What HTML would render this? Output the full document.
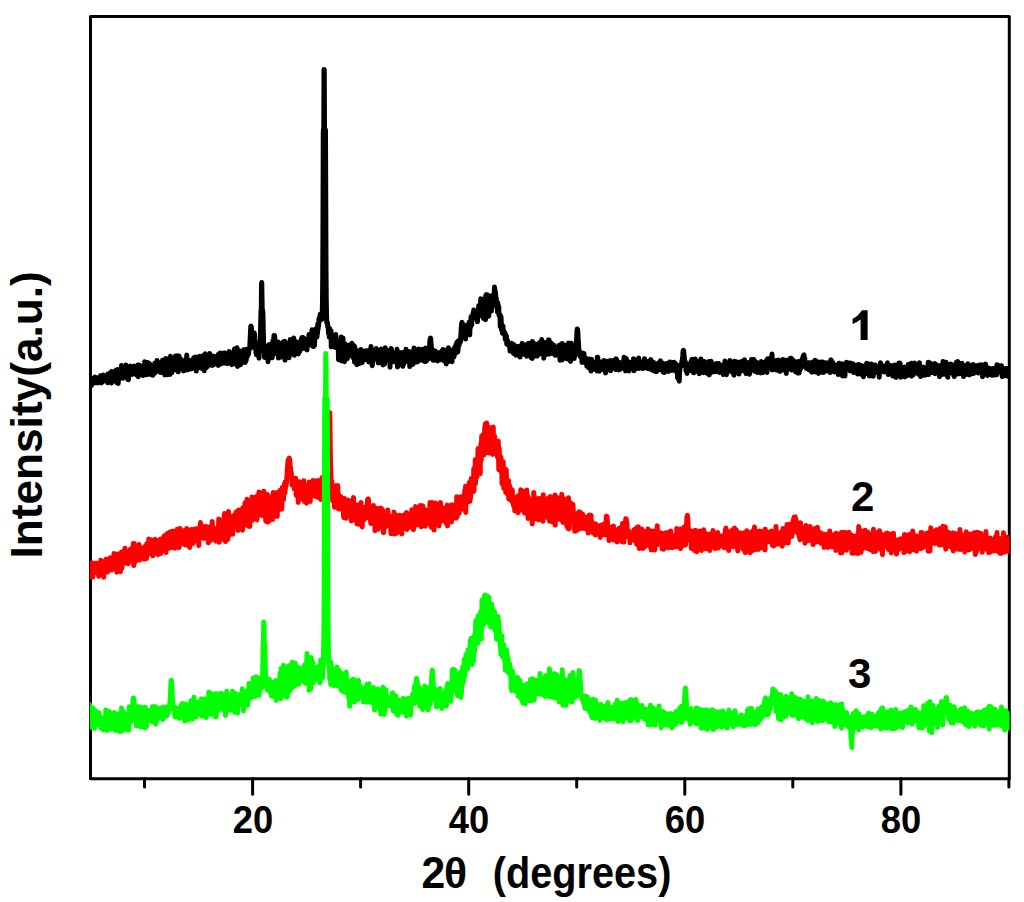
<!DOCTYPE html>
<html><head><meta charset="utf-8"><style>
html,body{margin:0;padding:0;background:#fff;}
svg{display:block;}
text{font-family:"Liberation Sans",sans-serif;font-weight:bold;fill:#000;}
.c{fill:none;stroke-width:5.0;stroke-linejoin:round;stroke-linecap:round;}
</style></head><body>
<svg width="1024" height="902" viewBox="0 0 1024 902">
<rect x="0" y="0" width="1024" height="902" fill="#fff"/>
<g stroke="#000" stroke-width="3" fill="none" stroke-linecap="round" stroke-linejoin="round">
<path d="M90.5,16.5 H1009.3 V778.7 H90.5 Z"/>
<path d="M144.5,778.7 v8.2 M252.6,778.7 v15.5 M360.6,778.7 v8.2 M468.7,778.7 v15.5 M576.7,778.7 v8.2 M684.8,778.7 v15.5 M792.8,778.7 v8.2 M900.9,778.7 v15.5 M1008.9,778.7 v8.2"/>
</g>
<defs><clipPath id="pa"><rect x="89.8" y="10" width="919.8" height="769"/></clipPath></defs>
<g clip-path="url(#pa)">
<path class="c" stroke="#000" d="M89.00 382.3 89.25 385.2 89.50 384.9 89.75 381.1 90.00 381.6 90.25 381.1 90.50 383.5 90.75 382.1 91.00 383.9 91.25 378.1 91.50 385.4 91.75 381.7 92.00 383.3 92.25 381.5 92.50 380.9 92.75 382.7 93.00 383.4 93.25 381.1 93.50 381.2 93.75 382.9 94.00 379.5 94.25 378.0 94.50 382.1 94.75 379.7 95.00 376.9 95.25 379.3 95.50 380.0 95.75 378.3 96.00 377.6 96.25 380.9 96.50 382.8 96.75 380.2 97.00 379.0 97.25 381.5 97.50 382.2 97.75 379.8 98.00 381.7 98.25 382.8 98.50 379.9 98.75 378.4 99.00 381.0 99.25 380.7 99.50 382.6 99.75 377.1 100.00 378.5 100.25 378.0 100.50 375.8 100.75 380.1 101.00 381.0 101.25 378.0 101.50 382.9 101.75 381.5 102.00 381.0 102.25 380.4 102.50 381.7 102.75 376.2 103.00 380.8 103.25 380.7 103.50 375.0 103.75 380.0 104.00 378.5 104.25 380.9 104.50 377.9 104.75 378.8 105.00 379.7 105.25 376.6 105.50 380.2 105.75 378.4 106.00 379.8 106.25 377.3 106.50 381.1 106.75 379.9 107.00 377.9 107.25 379.9 107.50 381.4 107.75 382.7 108.00 374.1 108.25 380.3 108.50 379.1 108.75 377.6 109.00 375.1 109.25 381.1 109.50 374.1 109.75 379.1 110.00 381.1 110.25 372.8 110.50 376.4 110.75 373.4 111.00 377.8 111.25 381.5 111.50 383.0 111.75 371.4 112.00 375.0 112.25 378.9 112.50 381.5 112.75 377.8 113.00 374.0 113.25 377.3 113.50 376.2 113.75 375.5 114.00 373.6 114.25 377.3 114.50 377.0 114.75 375.5 115.00 375.0 115.25 371.2 115.50 373.9 115.75 379.8 116.00 374.7 116.25 370.1 116.50 380.2 116.75 377.1 117.00 383.0 117.25 375.3 117.50 373.2 117.75 369.4 118.00 379.8 118.25 383.4 118.50 371.5 118.75 372.1 119.00 376.7 119.25 371.3 119.50 373.3 119.75 372.9 120.00 374.9 120.25 378.2 120.50 374.1 120.75 377.4 121.00 372.3 121.25 375.0 121.50 365.6 121.75 368.1 122.00 376.6 122.25 371.2 122.50 375.6 122.75 375.4 123.00 378.3 123.25 376.2 123.50 376.9 123.75 372.6 124.00 370.3 124.25 370.1 124.50 370.9 124.75 368.4 125.00 370.5 125.25 372.2 125.50 373.4 125.75 371.1 126.00 365.0 126.25 372.0 126.50 373.0 126.75 376.2 127.00 374.2 127.25 369.5 127.50 369.2 127.75 379.5 128.00 374.7 128.25 378.7 128.50 379.8 128.75 368.7 129.00 373.2 129.25 373.4 129.50 373.7 129.75 373.6 130.00 372.3 130.25 372.2 130.50 365.9 130.75 370.9 131.00 368.7 131.25 371.9 131.50 369.6 131.75 373.6 132.00 374.3 132.25 372.4 132.50 372.4 132.75 371.5 133.00 369.5 133.25 370.5 133.50 369.3 133.75 372.5 134.00 371.1 134.25 373.1 134.50 366.1 134.75 374.1 135.00 368.1 135.25 368.2 135.50 370.1 135.75 368.7 136.00 371.8 136.25 368.6 136.50 366.8 136.75 367.6 137.00 375.3 137.25 370.7 137.50 366.3 137.75 370.5 138.00 364.9 138.25 376.8 138.50 365.0 138.75 372.1 139.00 372.2 139.25 365.1 139.50 371.3 139.75 373.7 140.00 371.8 140.25 371.1 140.50 373.4 140.75 370.6 141.00 371.2 141.25 369.6 141.50 372.2 141.75 366.6 142.00 372.6 142.25 368.1 142.50 366.0 142.75 371.1 143.00 375.6 143.25 373.0 143.50 367.9 143.75 372.0 144.00 368.1 144.25 369.2 144.50 369.8 144.75 361.7 145.00 370.1 145.25 365.9 145.50 367.0 145.75 364.4 146.00 364.2 146.25 366.1 146.50 372.0 146.75 374.8 147.00 369.1 147.25 372.8 147.50 368.2 147.75 362.5 148.00 369.5 148.25 370.5 148.50 367.4 148.75 369.9 149.00 370.8 149.25 365.8 149.50 363.6 149.75 367.9 150.00 367.9 150.25 367.4 150.50 372.0 150.75 374.5 151.00 367.0 151.25 370.9 151.50 371.7 151.75 370.8 152.00 372.0 152.25 366.8 152.50 370.8 152.75 375.3 153.00 371.0 153.25 365.8 153.50 370.2 153.75 372.5 154.00 369.2 154.25 365.8 154.50 373.4 154.75 363.3 155.00 369.6 155.25 367.6 155.50 363.3 155.75 372.0 156.00 368.8 156.25 363.2 156.50 369.7 156.75 365.8 157.00 360.4 157.25 364.8 157.50 368.3 157.75 369.6 158.00 367.8 158.25 367.3 158.50 368.9 158.75 366.3 159.00 371.4 159.25 367.5 159.50 368.0 159.75 368.9 160.00 362.8 160.25 364.1 160.50 372.5 160.75 368.0 161.00 365.6 161.25 367.9 161.50 364.7 161.75 367.6 162.00 363.9 162.25 367.5 162.50 360.3 162.75 371.5 163.00 364.3 163.25 360.1 163.50 365.3 163.75 364.7 164.00 366.7 164.25 361.6 164.50 367.6 164.75 375.0 165.00 360.9 165.25 367.2 165.50 364.6 165.75 366.6 166.00 358.6 166.25 361.2 166.50 367.5 166.75 365.5 167.00 372.1 167.25 362.8 167.50 366.3 167.75 374.7 168.00 362.5 168.25 362.0 168.50 365.4 168.75 365.3 169.00 368.8 169.25 366.0 169.50 362.5 169.75 366.2 170.00 374.4 170.25 370.4 170.50 356.3 170.75 364.8 171.00 361.9 171.25 367.7 171.50 364.6 171.75 372.8 172.00 368.9 172.25 368.7 172.50 365.9 172.75 365.0 173.00 366.5 173.25 370.2 173.50 367.2 173.75 363.7 174.00 370.0 174.25 365.8 174.50 364.7 174.75 361.9 175.00 362.7 175.25 362.4 175.50 355.9 175.75 368.8 176.00 367.1 176.25 364.0 176.50 368.9 176.75 366.5 177.00 366.2 177.25 355.8 177.50 363.8 177.75 366.8 178.00 370.9 178.25 371.8 178.50 370.2 178.75 360.1 179.00 356.1 179.25 366.8 179.50 364.6 179.75 368.2 180.00 364.0 180.25 365.3 180.50 358.7 180.75 366.2 181.00 362.7 181.25 365.7 181.50 366.1 181.75 363.9 182.00 365.5 182.25 364.2 182.50 367.2 182.75 366.2 183.00 362.1 183.25 361.9 183.50 370.9 183.75 363.8 184.00 367.9 184.25 365.6 184.50 361.9 184.75 361.2 185.00 364.5 185.25 365.0 185.50 366.4 185.75 359.1 186.00 361.7 186.25 363.6 186.50 370.0 186.75 355.1 187.00 365.5 187.25 361.8 187.50 365.5 187.75 361.9 188.00 365.2 188.25 369.7 188.50 365.1 188.75 365.4 189.00 365.1 189.25 360.8 189.50 365.7 189.75 362.8 190.00 360.5 190.25 363.4 190.50 362.7 190.75 366.4 191.00 363.3 191.25 361.5 191.50 369.0 191.75 367.2 192.00 368.2 192.25 365.7 192.50 363.0 192.75 361.8 193.00 362.3 193.25 366.9 193.50 363.7 193.75 357.7 194.00 363.1 194.25 357.9 194.50 363.8 194.75 358.7 195.00 358.4 195.25 363.6 195.50 362.8 195.75 356.9 196.00 365.9 196.25 371.1 196.50 357.5 196.75 369.8 197.00 360.4 197.25 361.1 197.50 362.3 197.75 357.5 198.00 367.7 198.25 364.7 198.50 360.0 198.75 361.8 199.00 357.1 199.25 361.5 199.50 366.2 199.75 356.3 200.00 361.1 200.25 363.2 200.50 366.5 200.75 367.6 201.00 360.9 201.25 359.8 201.50 364.2 201.75 361.2 202.00 361.4 202.25 366.5 202.50 368.7 202.75 363.4 203.00 361.7 203.25 364.5 203.50 355.4 203.75 362.3 204.00 358.4 204.25 370.8 204.50 364.9 204.75 362.8 205.00 361.5 205.25 353.7 205.50 364.8 205.75 368.1 206.00 359.4 206.25 364.5 206.50 364.6 206.75 356.2 207.00 365.3 207.25 366.8 207.50 362.6 207.75 361.5 208.00 364.6 208.25 355.9 208.50 361.9 208.75 365.5 209.00 356.8 209.25 365.2 209.50 359.8 209.75 353.5 210.00 360.9 210.25 357.6 210.50 362.4 210.75 356.7 211.00 365.1 211.25 358.2 211.50 362.4 211.75 358.7 212.00 359.7 212.25 365.4 212.50 361.6 212.75 359.2 213.00 355.9 213.25 365.1 213.50 363.4 213.75 359.3 214.00 361.5 214.25 356.5 214.50 356.5 214.75 357.2 215.00 361.7 215.25 361.4 215.50 357.3 215.75 363.1 216.00 363.2 216.25 360.8 216.50 364.1 216.75 358.9 217.00 359.5 217.25 361.8 217.50 359.7 217.75 362.9 218.00 354.8 218.25 365.4 218.50 356.6 218.75 359.0 219.00 354.1 219.25 361.9 219.50 364.6 219.75 363.7 220.00 362.7 220.25 353.1 220.50 356.1 220.75 357.4 221.00 355.4 221.25 363.7 221.50 359.8 221.75 358.9 222.00 361.0 222.25 355.1 222.50 355.2 222.75 355.3 223.00 360.8 223.25 360.1 223.50 361.1 223.75 363.1 224.00 353.1 224.25 356.3 224.50 359.1 224.75 352.9 225.00 356.3 225.25 362.6 225.50 362.9 225.75 362.8 226.00 358.5 226.25 357.4 226.50 362.7 226.75 356.7 227.00 359.6 227.25 363.7 227.50 356.7 227.75 355.6 228.00 358.1 228.25 360.6 228.50 360.1 228.75 358.7 229.00 360.3 229.25 351.4 229.50 354.4 229.75 358.6 230.00 354.1 230.25 352.4 230.50 352.9 230.75 354.1 231.00 357.1 231.25 353.6 231.50 358.7 231.75 364.7 232.00 357.1 232.25 362.9 232.50 358.8 232.75 353.0 233.00 356.5 233.25 353.5 233.50 360.7 233.75 352.8 234.00 362.9 234.25 359.8 234.50 349.1 234.75 360.6 235.00 363.7 235.25 354.1 235.50 361.4 235.75 349.9 236.00 358.3 236.25 350.4 236.50 359.2 236.75 349.8 237.00 347.7 237.25 358.7 237.50 366.5 237.75 354.6 238.00 360.4 238.25 357.4 238.50 355.6 238.75 359.4 239.00 363.6 239.25 351.8 239.50 359.1 239.75 358.2 240.00 350.9 240.25 363.4 240.50 364.7 240.75 352.7 241.00 363.8 241.25 356.8 241.50 355.9 241.75 362.7 242.00 357.4 242.25 357.8 242.50 362.6 242.75 361.6 243.00 360.0 243.25 350.5 243.50 349.8 243.75 360.8 244.00 352.3 244.25 356.6 244.50 351.5 244.75 355.1 245.00 350.5 245.25 362.4 245.50 351.4 245.75 355.0 246.00 354.6 246.25 360.2 246.50 349.3 246.75 354.8 247.00 353.9 247.25 356.7 247.50 356.2 247.75 352.2 248.00 354.6 248.25 351.8 248.50 354.3 248.75 351.6 249.00 349.2 249.25 349.7 249.50 348.7 249.75 348.4 250.00 341.5 250.25 337.1 250.50 331.6 250.75 326.5 251.00 326.1 251.25 326.6 251.50 331.0 251.75 337.8 252.00 341.9 252.25 346.7 252.50 347.0 252.75 343.3 253.00 342.7 253.25 345.5 253.50 340.5 253.75 335.5 254.00 334.1 254.25 332.9 254.50 334.7 254.75 338.5 255.00 341.0 255.25 343.3 255.50 349.4 255.75 346.0 256.00 353.1 256.25 346.6 256.50 354.8 256.75 352.4 257.00 350.4 257.25 348.6 257.50 353.7 257.75 344.3 258.00 351.5 258.25 350.7 258.50 355.1 258.75 346.3 259.00 358.2 259.25 349.2 259.50 345.4 259.75 351.5 260.00 348.1 260.25 340.1 260.50 331.7 260.75 319.2 261.00 310.6 261.25 310.6 261.50 284.5 261.75 282.5 262.00 296.6 262.25 310.5 262.50 310.4 262.75 310.5 263.00 316.3 263.25 329.2 263.50 338.5 263.75 347.8 264.00 347.6 264.25 347.5 264.50 357.4 264.75 350.0 265.00 345.5 265.25 353.9 265.50 346.8 265.75 348.9 266.00 352.9 266.25 350.8 266.50 347.8 266.75 348.9 267.00 348.7 267.25 357.4 267.50 348.0 267.75 348.8 268.00 361.8 268.25 348.9 268.50 359.0 268.75 358.1 269.00 350.8 269.25 344.5 269.50 353.7 269.75 354.7 270.00 356.0 270.25 351.5 270.50 357.0 270.75 357.7 271.00 345.7 271.25 357.5 271.50 351.3 271.75 347.5 272.00 348.3 272.25 357.7 272.50 352.8 272.75 341.0 273.00 346.9 273.25 344.5 273.50 342.0 273.75 338.7 274.00 335.4 274.25 337.0 274.50 335.4 274.75 337.6 275.00 340.1 275.25 342.1 275.50 348.0 275.75 348.5 276.00 345.5 276.25 344.8 276.50 347.2 276.75 354.0 277.00 350.5 277.25 351.1 277.50 348.7 277.75 349.1 278.00 351.4 278.25 341.9 278.50 358.1 278.75 346.9 279.00 348.0 279.25 356.9 279.50 351.7 279.75 350.9 280.00 348.0 280.25 343.5 280.50 351.5 280.75 356.2 281.00 346.6 281.25 357.0 281.50 345.5 281.75 347.3 282.00 353.0 282.25 350.7 282.50 353.8 282.75 347.3 283.00 345.9 283.25 342.1 283.50 345.0 283.75 345.6 284.00 343.9 284.25 351.6 284.50 347.2 284.75 341.3 285.00 360.2 285.25 346.2 285.50 344.3 285.75 355.2 286.00 354.8 286.25 344.6 286.50 343.1 286.75 345.1 287.00 354.2 287.25 348.0 287.50 345.7 287.75 349.0 288.00 354.2 288.25 343.1 288.50 347.3 288.75 343.0 289.00 357.8 289.25 356.2 289.50 352.5 289.75 347.9 290.00 351.1 290.25 339.6 290.50 349.3 290.75 342.7 291.00 342.6 291.25 345.1 291.50 346.5 291.75 350.1 292.00 350.5 292.25 348.7 292.50 343.8 292.75 350.1 293.00 346.9 293.25 351.9 293.50 343.6 293.75 338.1 294.00 345.2 294.25 355.3 294.50 348.7 294.75 346.0 295.00 350.1 295.25 348.5 295.50 348.3 295.75 344.5 296.00 346.6 296.25 347.0 296.50 343.8 296.75 341.9 297.00 346.5 297.25 349.5 297.50 348.2 297.75 347.6 298.00 347.5 298.25 354.0 298.50 346.5 298.75 349.2 299.00 352.4 299.25 345.4 299.50 346.1 299.75 348.8 300.00 351.0 300.25 345.9 300.50 346.0 300.75 344.9 301.00 340.1 301.25 348.4 301.50 343.3 301.75 337.8 302.00 343.4 302.25 337.5 302.50 340.0 302.75 343.7 303.00 340.1 303.25 347.4 303.50 337.8 303.75 344.2 304.00 345.1 304.25 348.5 304.50 346.3 304.75 343.6 305.00 342.9 305.25 342.2 305.50 346.7 305.75 339.7 306.00 344.1 306.25 341.6 306.50 342.8 306.75 340.7 307.00 349.9 307.25 338.9 307.50 342.3 307.75 342.3 308.00 343.5 308.25 342.7 308.50 342.5 308.75 344.6 309.00 334.6 309.25 340.5 309.50 335.4 309.75 341.1 310.00 335.3 310.25 336.0 310.50 339.4 310.75 345.1 311.00 341.6 311.25 340.2 311.50 344.6 311.75 334.8 312.00 329.8 312.25 336.5 312.50 336.8 312.75 342.9 313.00 346.4 313.25 331.8 313.50 346.6 313.75 343.3 314.00 340.1 314.25 337.8 314.50 345.5 314.75 336.1 315.00 333.5 315.25 335.7 315.50 329.2 315.75 336.3 316.00 333.6 316.25 334.9 316.50 334.4 316.75 328.3 317.00 336.9 317.25 327.3 317.50 333.6 317.75 324.0 318.00 329.8 318.25 325.0 318.50 326.5 318.75 323.4 319.00 318.7 319.25 320.0 319.50 320.9 319.75 320.4 320.00 315.8 320.25 314.4 320.50 316.1 320.75 317.2 321.00 316.6 321.25 316.4 321.50 319.1 321.75 319.4 322.00 319.1 322.25 312.0 322.50 300.6 322.75 274.5 323.00 215.6 323.25 133.2 323.50 129.2 323.75 129.3 324.00 69.5 324.25 69.6 324.50 129.5 324.75 129.6 325.00 129.7 325.25 129.8 325.50 129.9 325.75 199.2 326.00 267.4 326.25 298.3 326.50 313.0 326.75 322.4 327.00 323.1 327.25 323.6 327.50 322.7 327.75 326.8 328.00 327.3 328.25 326.8 328.50 333.3 328.75 331.8 329.00 328.5 329.25 337.3 329.50 332.4 329.75 336.7 330.00 329.1 330.25 335.9 330.50 333.0 330.75 333.7 331.00 330.8 331.25 346.9 331.50 338.9 331.75 340.9 332.00 344.4 332.25 340.5 332.50 343.2 332.75 336.6 333.00 342.7 333.25 340.7 333.50 344.6 333.75 343.6 334.00 337.5 334.25 335.7 334.50 339.4 334.75 347.2 335.00 346.2 335.25 346.4 335.50 335.7 335.75 334.5 336.00 342.4 336.25 344.0 336.50 343.0 336.75 347.8 337.00 345.5 337.25 340.7 337.50 342.4 337.75 347.8 338.00 347.7 338.25 347.2 338.50 359.7 338.75 346.6 339.00 348.7 339.25 343.0 339.50 346.4 339.75 351.1 340.00 351.4 340.25 347.8 340.50 350.7 340.75 349.1 341.00 339.1 341.25 337.1 341.50 360.9 341.75 353.4 342.00 349.0 342.25 340.5 342.50 342.9 342.75 356.5 343.00 337.9 343.25 348.1 343.50 354.2 343.75 350.7 344.00 353.8 344.25 349.5 344.50 361.8 344.75 345.2 345.00 343.6 345.25 351.9 345.50 357.7 345.75 350.4 346.00 356.0 346.25 348.3 346.50 345.2 346.75 357.9 347.00 358.8 347.25 358.7 347.50 349.2 347.75 345.9 348.00 345.9 348.25 350.6 348.50 354.5 348.75 354.2 349.00 345.1 349.25 352.9 349.50 352.2 349.75 352.6 350.00 352.2 350.25 351.4 350.50 355.2 350.75 353.1 351.00 353.7 351.25 349.5 351.50 354.6 351.75 352.4 352.00 343.3 352.25 355.3 352.50 352.0 352.75 357.5 353.00 352.6 353.25 353.0 353.50 354.5 353.75 353.6 354.00 351.7 354.25 345.8 354.50 362.1 354.75 347.0 355.00 352.6 355.25 357.1 355.50 355.9 355.75 356.9 356.00 357.8 356.25 360.0 356.50 355.9 356.75 364.7 357.00 350.5 357.25 355.9 357.50 353.5 357.75 352.8 358.00 356.4 358.25 361.4 358.50 352.2 358.75 352.2 359.00 358.3 359.25 357.6 359.50 363.6 359.75 359.7 360.00 356.3 360.25 353.9 360.50 356.3 360.75 354.6 361.00 349.6 361.25 355.4 361.50 354.7 361.75 354.5 362.00 353.6 362.25 362.6 362.50 358.4 362.75 359.5 363.00 353.0 363.25 351.2 363.50 354.4 363.75 356.6 364.00 354.1 364.25 354.8 364.50 359.7 364.75 356.9 365.00 351.5 365.25 353.9 365.50 352.9 365.75 356.5 366.00 350.8 366.25 355.0 366.50 358.7 366.75 355.9 367.00 351.9 367.25 353.2 367.50 356.3 367.75 357.9 368.00 359.4 368.25 355.3 368.50 350.4 368.75 361.9 369.00 357.2 369.25 357.6 369.50 357.2 369.75 351.6 370.00 354.6 370.25 357.1 370.50 360.3 370.75 356.3 371.00 346.5 371.25 355.1 371.50 357.5 371.75 361.5 372.00 359.1 372.25 365.7 372.50 362.1 372.75 361.8 373.00 360.1 373.25 350.5 373.50 359.7 373.75 358.7 374.00 354.1 374.25 358.7 374.50 358.0 374.75 354.4 375.00 355.8 375.25 355.2 375.50 357.3 375.75 354.6 376.00 358.6 376.25 348.5 376.50 355.2 376.75 349.5 377.00 354.4 377.25 358.6 377.50 356.6 377.75 356.0 378.00 356.8 378.25 363.0 378.50 352.0 378.75 360.2 379.00 350.4 379.25 354.7 379.50 357.3 379.75 353.2 380.00 357.6 380.25 359.7 380.50 351.9 380.75 356.5 381.00 355.3 381.25 348.9 381.50 356.1 381.75 353.6 382.00 362.4 382.25 353.3 382.50 364.0 382.75 354.8 383.00 365.0 383.25 359.3 383.50 358.9 383.75 360.4 384.00 360.8 384.25 362.9 384.50 364.3 384.75 355.8 385.00 352.1 385.25 347.8 385.50 355.7 385.75 360.4 386.00 358.9 386.25 357.8 386.50 356.0 386.75 354.8 387.00 356.3 387.25 359.1 387.50 350.2 387.75 360.5 388.00 351.6 388.25 356.9 388.50 355.0 388.75 356.1 389.00 353.3 389.25 352.9 389.50 356.7 389.75 353.3 390.00 367.2 390.25 356.1 390.50 355.1 390.75 355.6 391.00 353.4 391.25 348.4 391.50 356.8 391.75 359.2 392.00 351.8 392.25 358.0 392.50 353.0 392.75 357.9 393.00 359.5 393.25 360.1 393.50 359.9 393.75 355.2 394.00 361.8 394.25 356.3 394.50 359.6 394.75 361.1 395.00 357.0 395.25 353.0 395.50 360.8 395.75 353.7 396.00 354.7 396.25 353.8 396.50 361.9 396.75 357.8 397.00 349.2 397.25 361.5 397.50 367.0 397.75 365.8 398.00 356.1 398.25 358.7 398.50 360.5 398.75 362.0 399.00 358.5 399.25 353.8 399.50 361.4 399.75 360.8 400.00 352.8 400.25 356.8 400.50 359.4 400.75 358.2 401.00 360.4 401.25 361.5 401.50 360.4 401.75 357.7 402.00 352.6 402.25 360.7 402.50 363.9 402.75 366.3 403.00 358.0 403.25 358.0 403.50 364.1 403.75 364.0 404.00 359.5 404.25 361.0 404.50 354.9 404.75 360.4 405.00 354.6 405.25 357.4 405.50 357.5 405.75 356.0 406.00 349.3 406.25 354.6 406.50 359.3 406.75 357.7 407.00 356.3 407.25 359.7 407.50 360.7 407.75 361.4 408.00 354.5 408.25 357.9 408.50 356.5 408.75 354.2 409.00 351.6 409.25 357.4 409.50 354.2 409.75 366.6 410.00 357.3 410.25 356.8 410.50 356.1 410.75 365.4 411.00 353.8 411.25 357.0 411.50 354.5 411.75 357.1 412.00 357.5 412.25 362.1 412.50 351.8 412.75 357.5 413.00 364.2 413.25 355.5 413.50 356.8 413.75 353.9 414.00 348.1 414.25 357.1 414.50 362.3 414.75 355.6 415.00 349.9 415.25 358.5 415.50 357.8 415.75 361.5 416.00 361.2 416.25 356.3 416.50 359.0 416.75 350.0 417.00 361.9 417.25 358.1 417.50 361.8 417.75 361.6 418.00 356.1 418.25 356.7 418.50 353.7 418.75 348.9 419.00 356.7 419.25 357.9 419.50 352.9 419.75 360.1 420.00 357.6 420.25 359.0 420.50 354.1 420.75 350.2 421.00 360.2 421.25 359.5 421.50 356.7 421.75 355.4 422.00 356.0 422.25 356.5 422.50 355.0 422.75 349.2 423.00 360.0 423.25 351.2 423.50 355.6 423.75 355.7 424.00 357.8 424.25 350.7 424.50 361.4 424.75 359.2 425.00 359.6 425.25 361.4 425.50 353.6 425.75 348.0 426.00 357.7 426.25 361.2 426.50 360.5 426.75 354.2 427.00 355.7 427.25 356.8 427.50 349.3 427.75 353.1 428.00 352.9 428.25 359.2 428.50 352.0 428.75 356.5 429.00 351.6 429.25 347.5 429.50 348.9 429.75 343.0 430.00 340.1 430.25 338.7 430.50 338.0 430.75 338.9 431.00 343.1 431.25 346.4 431.50 347.7 431.75 349.4 432.00 351.7 432.25 355.9 432.50 353.4 432.75 356.6 433.00 360.2 433.25 359.4 433.50 360.3 433.75 359.8 434.00 350.5 434.25 360.1 434.50 357.2 434.75 355.7 435.00 352.5 435.25 350.9 435.50 352.5 435.75 356.3 436.00 352.4 436.25 353.6 436.50 354.3 436.75 358.6 437.00 355.4 437.25 355.9 437.50 360.9 437.75 355.3 438.00 358.4 438.25 352.8 438.50 357.5 438.75 356.8 439.00 356.9 439.25 354.7 439.50 352.8 439.75 355.3 440.00 354.7 440.25 359.8 440.50 359.4 440.75 352.2 441.00 358.4 441.25 354.6 441.50 357.8 441.75 354.6 442.00 351.1 442.25 359.7 442.50 357.7 442.75 351.9 443.00 349.6 443.25 354.3 443.50 352.0 443.75 354.8 444.00 358.2 444.25 361.1 444.50 354.8 444.75 360.8 445.00 360.0 445.25 354.5 445.50 350.2 445.75 358.9 446.00 358.0 446.25 363.9 446.50 360.9 446.75 358.6 447.00 361.7 447.25 352.2 447.50 356.5 447.75 354.8 448.00 361.8 448.25 357.7 448.50 347.8 448.75 360.5 449.00 352.6 449.25 358.4 449.50 354.0 449.75 356.5 450.00 357.8 450.25 356.3 450.50 352.3 450.75 360.3 451.00 356.9 451.25 355.5 451.50 357.9 451.75 353.7 452.00 361.7 452.25 355.8 452.50 355.9 452.75 355.4 453.00 350.8 453.25 349.5 453.50 353.8 453.75 353.9 454.00 356.8 454.25 353.4 454.50 347.8 454.75 352.9 455.00 353.5 455.25 353.7 455.50 351.0 455.75 345.3 456.00 353.0 456.25 346.2 456.50 350.2 456.75 342.5 457.00 350.0 457.25 344.3 457.50 350.2 457.75 352.1 458.00 349.6 458.25 341.1 458.50 341.3 458.75 340.9 459.00 345.6 459.25 343.8 459.50 342.4 459.75 342.0 460.00 341.9 460.25 340.8 460.50 341.9 460.75 335.5 461.00 333.6 461.25 328.1 461.50 325.6 461.75 323.4 462.00 322.4 462.25 323.0 462.50 325.5 462.75 326.6 463.00 328.4 463.25 329.4 463.50 332.0 463.75 330.0 464.00 333.9 464.25 333.5 464.50 333.6 464.75 335.3 465.00 331.8 465.25 332.0 465.50 339.1 465.75 330.5 466.00 334.0 466.25 330.2 466.50 327.5 466.75 327.1 467.00 325.0 467.25 328.5 467.50 325.2 467.75 325.6 468.00 332.9 468.25 326.1 468.50 331.7 468.75 327.1 469.00 329.5 469.25 322.2 469.50 325.3 469.75 335.0 470.00 327.6 470.25 328.0 470.50 324.0 470.75 326.6 471.00 316.8 471.25 317.9 471.50 323.5 471.75 325.0 472.00 318.9 472.25 319.6 472.50 318.4 472.75 318.9 473.00 313.7 473.25 312.2 473.50 318.3 473.75 310.0 474.00 313.3 474.25 314.5 474.50 312.2 474.75 318.1 475.00 314.4 475.25 315.9 475.50 311.0 475.75 311.9 476.00 317.7 476.25 316.6 476.50 312.2 476.75 316.0 477.00 314.9 477.25 314.5 477.50 321.8 477.75 311.1 478.00 315.3 478.25 315.1 478.50 311.2 478.75 305.7 479.00 316.0 479.25 313.4 479.50 311.9 479.75 311.5 480.00 311.2 480.25 305.3 480.50 312.4 480.75 298.8 481.00 309.9 481.25 300.0 481.50 307.3 481.75 314.2 482.00 307.4 482.25 305.6 482.50 312.2 482.75 306.5 483.00 305.4 483.25 305.4 483.50 318.5 483.75 312.4 484.00 311.0 484.25 299.3 484.50 311.6 484.75 298.4 485.00 310.3 485.25 299.4 485.50 319.8 485.75 295.4 486.00 314.6 486.25 311.6 486.50 294.5 486.75 304.4 487.00 315.2 487.25 313.0 487.50 294.9 487.75 302.1 488.00 297.8 488.25 298.6 488.50 300.9 488.75 316.2 489.00 305.3 489.25 302.8 489.50 301.9 489.75 307.6 490.00 307.4 490.25 297.6 490.50 311.3 490.75 296.1 491.00 300.4 491.25 304.3 491.50 311.0 491.75 299.0 492.00 302.0 492.25 307.0 492.50 302.7 492.75 304.5 493.00 303.1 493.25 298.4 493.50 298.7 493.75 298.0 494.00 293.5 494.25 295.4 494.50 287.1 494.75 288.6 495.00 292.3 495.25 292.0 495.50 292.1 495.75 296.8 496.00 301.5 496.25 297.9 496.50 304.9 496.75 302.6 497.00 303.9 497.25 305.2 497.50 312.1 497.75 302.8 498.00 307.5 498.25 313.0 498.50 306.5 498.75 306.5 499.00 315.4 499.25 314.5 499.50 315.0 499.75 316.9 500.00 314.7 500.25 326.6 500.50 316.5 500.75 319.5 501.00 316.5 501.25 321.6 501.50 330.0 501.75 325.1 502.00 328.0 502.25 325.2 502.50 333.3 502.75 329.0 503.00 325.9 503.25 332.3 503.50 330.2 503.75 333.5 504.00 333.2 504.25 334.3 504.50 334.9 504.75 333.2 505.00 332.7 505.25 339.3 505.50 337.6 505.75 339.4 506.00 338.5 506.25 335.6 506.50 337.9 506.75 344.2 507.00 340.3 507.25 341.7 507.50 340.2 507.75 342.7 508.00 343.6 508.25 344.5 508.50 345.0 508.75 344.2 509.00 344.5 509.25 345.9 509.50 347.0 509.75 346.2 510.00 351.0 510.25 347.5 510.50 347.7 510.75 345.7 511.00 350.4 511.25 344.8 511.50 343.2 511.75 345.1 512.00 349.6 512.25 344.7 512.50 351.7 512.75 348.1 513.00 343.9 513.25 347.6 513.50 353.5 513.75 346.0 514.00 344.8 514.25 350.1 514.50 352.4 514.75 351.7 515.00 348.0 515.25 349.5 515.50 350.0 515.75 352.4 516.00 355.2 516.25 348.9 516.50 352.9 516.75 348.2 517.00 351.0 517.25 346.5 517.50 347.1 517.75 350.6 518.00 346.7 518.25 352.1 518.50 347.8 518.75 349.7 519.00 349.2 519.25 348.5 519.50 350.0 519.75 353.0 520.00 357.1 520.25 345.9 520.50 350.7 520.75 349.2 521.00 346.8 521.25 350.7 521.50 346.9 521.75 349.6 522.00 354.0 522.25 343.2 522.50 350.8 522.75 351.5 523.00 346.8 523.25 351.8 523.50 351.3 523.75 348.9 524.00 354.3 524.25 345.6 524.50 352.5 524.75 349.4 525.00 346.5 525.25 349.7 525.50 349.1 525.75 353.3 526.00 345.0 526.25 349.7 526.50 348.8 526.75 356.3 527.00 346.4 527.25 354.5 527.50 344.0 527.75 351.9 528.00 350.1 528.25 352.1 528.50 348.0 528.75 343.2 529.00 344.7 529.25 355.6 529.50 351.4 529.75 347.2 530.00 353.9 530.25 347.6 530.50 347.5 530.75 345.7 531.00 354.9 531.25 357.9 531.50 346.5 531.75 351.3 532.00 354.0 532.25 358.4 532.50 341.4 532.75 350.6 533.00 352.5 533.25 344.1 533.50 351.5 533.75 350.7 534.00 352.7 534.25 347.5 534.50 351.4 534.75 347.3 535.00 352.1 535.25 350.3 535.50 348.1 535.75 343.9 536.00 356.1 536.25 353.9 536.50 353.0 536.75 346.8 537.00 348.0 537.25 356.1 537.50 352.3 537.75 345.8 538.00 349.4 538.25 349.8 538.50 348.4 538.75 345.3 539.00 354.2 539.25 351.5 539.50 348.2 539.75 342.6 540.00 346.6 540.25 348.9 540.50 352.5 540.75 347.4 541.00 353.4 541.25 349.4 541.50 345.7 541.75 339.6 542.00 343.8 542.25 342.5 542.50 348.0 542.75 350.0 543.00 354.4 543.25 348.5 543.50 343.7 543.75 358.3 544.00 349.7 544.25 347.3 544.50 347.3 544.75 342.6 545.00 351.0 545.25 349.8 545.50 355.0 545.75 352.9 546.00 351.9 546.25 353.5 546.50 346.9 546.75 346.2 547.00 347.8 547.25 342.7 547.50 347.4 547.75 346.5 548.00 350.8 548.25 347.9 548.50 339.8 548.75 348.2 549.00 354.2 549.25 340.3 549.50 345.0 549.75 348.4 550.00 342.7 550.25 346.1 550.50 348.7 550.75 342.9 551.00 349.8 551.25 350.4 551.50 343.3 551.75 348.9 552.00 353.4 552.25 348.1 552.50 350.8 552.75 351.7 553.00 348.1 553.25 353.2 553.50 350.8 553.75 345.0 554.00 351.5 554.25 353.0 554.50 352.8 554.75 346.7 555.00 351.4 555.25 355.3 555.50 350.6 555.75 354.6 556.00 355.2 556.25 349.6 556.50 352.6 556.75 348.7 557.00 354.4 557.25 349.6 557.50 347.8 557.75 350.0 558.00 349.9 558.25 351.8 558.50 352.2 558.75 345.5 559.00 347.7 559.25 351.9 559.50 352.5 559.75 350.9 560.00 360.2 560.25 355.3 560.50 350.4 560.75 353.8 561.00 356.4 561.25 352.4 561.50 343.8 561.75 351.4 562.00 351.3 562.25 359.9 562.50 343.6 562.75 357.6 563.00 350.7 563.25 355.2 563.50 350.2 563.75 352.2 564.00 356.2 564.25 351.9 564.50 355.9 564.75 351.4 565.00 350.1 565.25 350.9 565.50 349.8 565.75 351.4 566.00 357.5 566.25 347.2 566.50 345.3 566.75 352.0 567.00 359.0 567.25 356.4 567.50 357.6 567.75 357.3 568.00 349.4 568.25 352.8 568.50 343.0 568.75 349.9 569.00 354.8 569.25 346.1 569.50 344.1 569.75 347.2 570.00 353.2 570.25 357.0 570.50 361.4 570.75 358.0 571.00 346.4 571.25 343.2 571.50 352.9 571.75 356.4 572.00 346.0 572.25 350.2 572.50 350.5 572.75 352.3 573.00 351.4 573.25 354.0 573.50 355.9 573.75 352.0 574.00 354.3 574.25 358.5 574.50 347.6 574.75 347.3 575.00 351.9 575.25 354.8 575.50 349.2 575.75 349.7 576.00 345.4 576.25 344.3 576.50 339.8 576.75 335.8 577.00 331.1 577.25 329.1 577.50 329.4 577.75 331.0 578.00 335.5 578.25 341.0 578.50 343.7 578.75 348.5 579.00 352.5 579.25 352.1 579.50 353.3 579.75 353.4 580.00 355.9 580.25 353.6 580.50 356.8 580.75 354.9 581.00 354.9 581.25 356.7 581.50 356.6 581.75 352.7 582.00 362.5 582.25 357.9 582.50 353.8 582.75 360.7 583.00 358.3 583.25 359.1 583.50 360.5 583.75 356.9 584.00 353.4 584.25 359.3 584.50 360.4 584.75 362.5 585.00 358.2 585.25 359.7 585.50 361.7 585.75 360.0 586.00 360.4 586.25 362.0 586.50 358.6 586.75 366.2 587.00 359.2 587.25 362.2 587.50 361.3 587.75 360.3 588.00 364.4 588.25 366.1 588.50 367.7 588.75 365.2 589.00 362.0 589.25 366.6 589.50 359.0 589.75 364.3 590.00 366.1 590.25 366.5 590.50 360.6 590.75 359.5 591.00 371.1 591.25 363.2 591.50 359.2 591.75 360.7 592.00 365.2 592.25 369.4 592.50 365.1 592.75 369.5 593.00 366.0 593.25 366.9 593.50 368.7 593.75 363.9 594.00 366.3 594.25 363.9 594.50 363.0 594.75 367.6 595.00 362.4 595.25 365.6 595.50 362.5 595.75 365.0 596.00 363.5 596.25 369.1 596.50 365.6 596.75 365.6 597.00 371.0 597.25 357.2 597.50 361.5 597.75 357.3 598.00 365.3 598.25 366.9 598.50 367.6 598.75 366.3 599.00 362.5 599.25 371.3 599.50 366.4 599.75 364.6 600.00 361.7 600.25 366.8 600.50 363.8 600.75 364.0 601.00 366.2 601.25 366.2 601.50 362.8 601.75 369.6 602.00 362.3 602.25 361.9 602.50 366.6 602.75 366.0 603.00 365.8 603.25 364.3 603.50 365.7 603.75 363.8 604.00 360.4 604.25 368.0 604.50 362.4 604.75 364.9 605.00 368.0 605.25 365.8 605.50 372.9 605.75 361.4 606.00 363.4 606.25 366.0 606.50 370.0 606.75 365.0 607.00 361.3 607.25 369.3 607.50 362.9 607.75 365.1 608.00 368.4 608.25 363.6 608.50 364.2 608.75 367.1 609.00 364.9 609.25 366.4 609.50 362.6 609.75 365.1 610.00 362.1 610.25 360.6 610.50 370.8 610.75 366.8 611.00 368.2 611.25 362.3 611.50 365.2 611.75 364.6 612.00 360.8 612.25 366.9 612.50 362.9 612.75 364.5 613.00 360.4 613.25 368.2 613.50 367.4 613.75 366.3 614.00 362.2 614.25 363.3 614.50 368.7 614.75 364.1 615.00 365.7 615.25 365.3 615.50 361.4 615.75 369.6 616.00 358.7 616.25 365.5 616.50 364.5 616.75 359.7 617.00 365.7 617.25 366.3 617.50 364.8 617.75 362.1 618.00 366.0 618.25 368.0 618.50 365.2 618.75 369.9 619.00 367.2 619.25 366.9 619.50 368.8 619.75 362.4 620.00 362.8 620.25 366.0 620.50 366.0 620.75 369.0 621.00 367.9 621.25 364.8 621.50 364.9 621.75 363.4 622.00 363.1 622.25 362.8 622.50 367.0 622.75 362.7 623.00 363.0 623.25 364.6 623.50 362.5 623.75 363.4 624.00 357.3 624.25 365.2 624.50 363.1 624.75 364.6 625.00 365.1 625.25 358.2 625.50 371.0 625.75 364.4 626.00 364.5 626.25 358.4 626.50 366.0 626.75 365.4 627.00 363.0 627.25 364.9 627.50 368.1 627.75 363.2 628.00 361.5 628.25 368.4 628.50 365.1 628.75 363.8 629.00 370.9 629.25 364.9 629.50 363.9 629.75 365.2 630.00 363.2 630.25 365.1 630.50 364.9 630.75 362.5 631.00 363.7 631.25 365.4 631.50 365.6 631.75 366.2 632.00 366.8 632.25 365.2 632.50 366.0 632.75 363.4 633.00 363.8 633.25 367.5 633.50 358.8 633.75 365.6 634.00 370.8 634.25 359.2 634.50 368.8 634.75 359.5 635.00 365.6 635.25 369.2 635.50 368.7 635.75 362.0 636.00 360.9 636.25 360.5 636.50 366.5 636.75 363.4 637.00 364.5 637.25 365.3 637.50 365.7 637.75 366.0 638.00 364.9 638.25 360.1 638.50 368.6 638.75 358.1 639.00 368.0 639.25 363.0 639.50 364.1 639.75 363.2 640.00 363.6 640.25 364.6 640.50 363.9 640.75 361.7 641.00 366.9 641.25 363.1 641.50 368.2 641.75 364.3 642.00 362.8 642.25 365.9 642.50 367.1 642.75 362.3 643.00 364.0 643.25 368.5 643.50 362.2 643.75 362.6 644.00 365.2 644.25 361.7 644.50 358.8 644.75 360.6 645.00 365.8 645.25 366.5 645.50 366.4 645.75 365.9 646.00 361.8 646.25 366.6 646.50 367.9 646.75 363.2 647.00 367.4 647.25 364.1 647.50 365.5 647.75 366.0 648.00 361.4 648.25 368.8 648.50 363.0 648.75 364.9 649.00 364.0 649.25 366.4 649.50 366.4 649.75 365.3 650.00 368.9 650.25 366.1 650.50 364.4 650.75 359.5 651.00 364.7 651.25 364.7 651.50 363.3 651.75 363.3 652.00 367.0 652.25 368.2 652.50 370.3 652.75 368.5 653.00 363.8 653.25 366.3 653.50 362.2 653.75 367.5 654.00 366.6 654.25 364.2 654.50 365.5 654.75 365.2 655.00 364.2 655.25 369.2 655.50 371.5 655.75 368.0 656.00 368.6 656.25 366.3 656.50 365.1 656.75 371.5 657.00 365.1 657.25 367.0 657.50 365.8 657.75 367.6 658.00 366.0 658.25 367.6 658.50 363.0 658.75 365.9 659.00 369.7 659.25 363.7 659.50 364.6 659.75 369.7 660.00 367.3 660.25 369.0 660.50 360.8 660.75 366.8 661.00 363.2 661.25 363.0 661.50 367.5 661.75 369.5 662.00 362.8 662.25 363.8 662.50 365.1 662.75 366.3 663.00 363.3 663.25 372.3 663.50 368.1 663.75 365.8 664.00 365.4 664.25 372.4 664.50 372.4 664.75 365.5 665.00 367.7 665.25 370.0 665.50 363.9 665.75 365.3 666.00 370.3 666.25 365.1 666.50 365.7 666.75 363.4 667.00 364.9 667.25 368.6 667.50 364.7 667.75 363.5 668.00 365.2 668.25 371.5 668.50 367.3 668.75 365.4 669.00 367.3 669.25 368.0 669.50 367.2 669.75 362.1 670.00 367.7 670.25 366.3 670.50 369.1 670.75 363.2 671.00 369.7 671.25 365.5 671.50 362.2 671.75 370.5 672.00 365.5 672.25 367.9 672.50 366.5 672.75 370.0 673.00 370.0 673.25 370.1 673.50 369.0 673.75 362.5 674.00 362.3 674.25 367.6 674.50 364.4 674.75 368.4 675.00 367.6 675.25 363.2 675.50 364.3 675.75 364.2 676.00 365.0 676.25 367.2 676.50 370.1 676.75 372.5 677.00 366.6 677.25 369.1 677.50 377.4 677.75 378.2 678.00 377.8 678.25 370.4 678.50 374.1 678.75 377.5 679.00 375.2 679.25 381.2 679.50 372.7 679.75 371.1 680.00 365.6 680.25 364.9 680.50 365.3 680.75 364.8 681.00 365.4 681.25 366.3 681.50 365.2 681.75 365.7 682.00 360.6 682.25 361.1 682.50 358.6 682.75 356.0 683.00 352.0 683.25 350.7 683.50 350.4 683.75 351.7 684.00 354.7 684.25 357.4 684.50 359.8 684.75 362.0 685.00 364.4 685.25 361.5 685.50 367.0 685.75 364.3 686.00 371.1 686.25 370.2 686.50 364.8 686.75 364.2 687.00 373.5 687.25 368.4 687.50 368.3 687.75 365.2 688.00 366.2 688.25 369.3 688.50 368.8 688.75 364.0 689.00 370.9 689.25 367.9 689.50 363.7 689.75 370.2 690.00 366.3 690.25 369.6 690.50 365.1 690.75 368.2 691.00 361.5 691.25 368.3 691.50 361.8 691.75 367.6 692.00 359.2 692.25 366.8 692.50 369.6 692.75 368.8 693.00 371.3 693.25 363.4 693.50 372.6 693.75 372.7 694.00 362.9 694.25 364.3 694.50 365.1 694.75 367.1 695.00 367.8 695.25 359.1 695.50 369.3 695.75 366.3 696.00 363.5 696.25 370.6 696.50 366.0 696.75 371.3 697.00 369.1 697.25 366.1 697.50 371.5 697.75 370.2 698.00 365.4 698.25 361.3 698.50 365.2 698.75 369.5 699.00 366.4 699.25 373.7 699.50 368.2 699.75 368.0 700.00 368.7 700.25 364.1 700.50 366.8 700.75 364.9 701.00 359.1 701.25 360.9 701.50 369.9 701.75 365.7 702.00 366.9 702.25 362.1 702.50 365.3 702.75 370.1 703.00 367.7 703.25 365.5 703.50 372.7 703.75 367.2 704.00 366.2 704.25 371.3 704.50 361.4 704.75 369.3 705.00 363.6 705.25 364.7 705.50 365.1 705.75 367.9 706.00 367.8 706.25 368.5 706.50 368.1 706.75 372.1 707.00 373.1 707.25 369.8 707.50 370.0 707.75 366.2 708.00 363.9 708.25 369.4 708.50 367.6 708.75 370.3 709.00 361.6 709.25 374.9 709.50 363.4 709.75 367.6 710.00 370.7 710.25 363.1 710.50 365.8 710.75 361.2 711.00 363.1 711.25 361.5 711.50 367.9 711.75 368.5 712.00 366.6 712.25 371.5 712.50 371.9 712.75 367.6 713.00 366.9 713.25 366.8 713.50 366.2 713.75 371.6 714.00 368.3 714.25 366.6 714.50 367.0 714.75 369.3 715.00 366.5 715.25 368.6 715.50 367.6 715.75 371.7 716.00 371.1 716.25 363.6 716.50 367.2 716.75 369.8 717.00 366.4 717.25 370.0 717.50 368.7 717.75 369.4 718.00 367.6 718.25 368.6 718.50 369.2 718.75 363.6 719.00 365.2 719.25 364.9 719.50 372.5 719.75 368.6 720.00 368.8 720.25 368.3 720.50 366.3 720.75 365.6 721.00 370.2 721.25 366.7 721.50 372.3 721.75 368.3 722.00 368.0 722.25 367.1 722.50 367.6 722.75 367.9 723.00 372.2 723.25 374.5 723.50 364.4 723.75 368.5 724.00 369.9 724.25 365.1 724.50 365.9 724.75 366.4 725.00 360.9 725.25 369.7 725.50 367.6 725.75 367.5 726.00 368.0 726.25 368.5 726.50 374.7 726.75 368.3 727.00 370.3 727.25 366.2 727.50 368.9 727.75 366.8 728.00 367.3 728.25 365.0 728.50 365.3 728.75 369.2 729.00 370.1 729.25 369.2 729.50 365.7 729.75 368.8 730.00 360.6 730.25 370.8 730.50 367.7 730.75 368.7 731.00 371.5 731.25 366.5 731.50 370.9 731.75 366.4 732.00 369.6 732.25 366.5 732.50 368.8 732.75 372.5 733.00 365.8 733.25 365.9 733.50 366.8 733.75 368.8 734.00 375.2 734.25 366.0 734.50 361.2 734.75 365.7 735.00 362.7 735.25 366.0 735.50 367.9 735.75 364.7 736.00 365.6 736.25 361.7 736.50 368.5 736.75 365.4 737.00 371.5 737.25 371.4 737.50 365.0 737.75 366.7 738.00 368.1 738.25 370.4 738.50 362.3 738.75 367.6 739.00 374.1 739.25 367.5 739.50 368.5 739.75 367.8 740.00 363.8 740.25 370.9 740.50 368.6 740.75 368.3 741.00 370.1 741.25 370.3 741.50 361.4 741.75 369.2 742.00 365.7 742.25 368.1 742.50 365.2 742.75 364.7 743.00 370.7 743.25 367.5 743.50 366.6 743.75 366.6 744.00 367.8 744.25 367.4 744.50 359.8 744.75 364.6 745.00 366.7 745.25 369.8 745.50 371.8 745.75 364.4 746.00 373.6 746.25 367.7 746.50 368.9 746.75 365.6 747.00 365.4 747.25 371.9 747.50 366.6 747.75 367.0 748.00 371.0 748.25 372.8 748.50 362.4 748.75 366.6 749.00 367.2 749.25 373.0 749.50 374.2 749.75 367.0 750.00 368.3 750.25 369.9 750.50 370.8 750.75 366.1 751.00 369.8 751.25 364.9 751.50 359.5 751.75 362.7 752.00 367.7 752.25 369.5 752.50 359.9 752.75 361.3 753.00 366.9 753.25 359.5 753.50 368.7 753.75 370.2 754.00 359.4 754.25 369.3 754.50 366.3 754.75 371.3 755.00 367.7 755.25 366.1 755.50 367.2 755.75 369.7 756.00 367.4 756.25 366.9 756.50 362.3 756.75 368.2 757.00 366.8 757.25 372.4 757.50 366.7 757.75 366.4 758.00 364.7 758.25 368.8 758.50 365.9 758.75 364.3 759.00 371.4 759.25 372.0 759.50 364.8 759.75 363.0 760.00 369.8 760.25 363.4 760.50 373.0 760.75 365.6 761.00 369.1 761.25 361.6 761.50 365.7 761.75 369.4 762.00 367.2 762.25 363.9 762.50 372.8 762.75 368.0 763.00 364.7 763.25 363.4 763.50 364.5 763.75 370.0 764.00 362.6 764.25 365.3 764.50 362.3 764.75 369.5 765.00 364.5 765.25 368.0 765.50 366.9 765.75 362.7 766.00 367.2 766.25 368.0 766.50 360.2 766.75 367.0 767.00 372.4 767.25 363.1 767.50 366.6 767.75 358.8 768.00 365.7 768.25 361.5 768.50 366.8 768.75 363.4 769.00 358.7 769.25 368.0 769.50 362.5 769.75 359.0 770.00 363.4 770.25 358.9 770.50 364.7 770.75 362.6 771.00 361.2 771.25 365.7 771.50 357.1 771.75 367.1 772.00 354.1 772.25 370.0 772.50 363.8 772.75 362.0 773.00 360.0 773.25 365.6 773.50 362.6 773.75 362.6 774.00 367.8 774.25 361.7 774.50 362.6 774.75 365.4 775.00 368.1 775.25 363.2 775.50 364.5 775.75 364.1 776.00 367.0 776.25 370.0 776.50 360.4 776.75 363.7 777.00 364.1 777.25 366.7 777.50 370.3 777.75 364.4 778.00 365.4 778.25 369.0 778.50 359.9 778.75 361.8 779.00 363.1 779.25 364.8 779.50 365.7 779.75 363.0 780.00 371.5 780.25 362.4 780.50 364.3 780.75 369.1 781.00 368.0 781.25 365.1 781.50 366.6 781.75 368.3 782.00 365.3 782.25 367.7 782.50 362.1 782.75 365.7 783.00 359.6 783.25 362.4 783.50 361.5 783.75 370.1 784.00 364.0 784.25 366.8 784.50 362.5 784.75 365.1 785.00 364.9 785.25 362.9 785.50 368.9 785.75 360.2 786.00 368.2 786.25 373.4 786.50 363.3 786.75 366.3 787.00 360.9 787.25 366.1 787.50 360.3 787.75 368.3 788.00 364.5 788.25 359.9 788.50 361.8 788.75 360.8 789.00 365.2 789.25 369.0 789.50 364.8 789.75 362.1 790.00 363.3 790.25 366.5 790.50 358.2 790.75 368.1 791.00 367.4 791.25 358.2 791.50 370.0 791.75 360.5 792.00 365.3 792.25 370.0 792.50 360.5 792.75 359.8 793.00 362.2 793.25 362.4 793.50 365.5 793.75 364.2 794.00 364.3 794.25 364.4 794.50 365.4 794.75 363.1 795.00 367.1 795.25 366.0 795.50 362.6 795.75 372.0 796.00 361.7 796.25 368.4 796.50 363.5 796.75 367.1 797.00 367.7 797.25 368.8 797.50 370.6 797.75 363.1 798.00 373.2 798.25 367.2 798.50 363.2 798.75 361.4 799.00 373.1 799.25 371.2 799.50 365.7 799.75 368.2 800.00 370.0 800.25 365.9 800.50 364.2 800.75 365.3 801.00 367.8 801.25 365.1 801.50 361.1 801.75 366.4 802.00 359.3 802.25 361.2 802.50 363.8 802.75 360.3 803.00 358.1 803.25 355.9 803.50 355.8 803.75 355.2 804.00 355.0 804.25 358.5 804.50 357.4 804.75 358.3 805.00 366.7 805.25 366.6 805.50 363.1 805.75 364.6 806.00 365.4 806.25 368.4 806.50 363.1 806.75 362.9 807.00 363.8 807.25 366.3 807.50 366.7 807.75 364.7 808.00 368.4 808.25 362.8 808.50 365.8 808.75 363.9 809.00 362.9 809.25 370.1 809.50 365.2 809.75 363.0 810.00 366.4 810.25 363.1 810.50 368.2 810.75 369.0 811.00 369.6 811.25 363.0 811.50 365.9 811.75 372.2 812.00 365.7 812.25 370.4 812.50 371.2 812.75 362.0 813.00 370.2 813.25 368.8 813.50 369.2 813.75 371.7 814.00 367.9 814.25 366.7 814.50 368.4 814.75 365.4 815.00 368.0 815.25 360.2 815.50 371.9 815.75 364.8 816.00 368.2 816.25 367.5 816.50 366.8 816.75 366.9 817.00 366.8 817.25 361.4 817.50 364.9 817.75 370.4 818.00 363.4 818.25 363.3 818.50 373.4 818.75 370.5 819.00 371.7 819.25 366.7 819.50 367.6 819.75 369.2 820.00 368.6 820.25 366.5 820.50 362.2 820.75 364.5 821.00 362.0 821.25 371.9 821.50 365.6 821.75 366.3 822.00 367.8 822.25 367.0 822.50 368.6 822.75 365.0 823.00 362.1 823.25 372.6 823.50 364.7 823.75 365.5 824.00 364.5 824.25 365.3 824.50 367.1 824.75 369.5 825.00 363.7 825.25 368.1 825.50 364.9 825.75 371.1 826.00 363.1 826.25 367.5 826.50 369.5 826.75 362.8 827.00 367.6 827.25 367.7 827.50 364.6 827.75 366.6 828.00 370.5 828.25 368.1 828.50 366.0 828.75 366.7 829.00 368.8 829.25 371.6 829.50 370.0 829.75 369.8 830.00 372.6 830.25 362.3 830.50 362.7 830.75 359.9 831.00 370.3 831.25 359.9 831.50 367.4 831.75 370.0 832.00 362.9 832.25 365.4 832.50 366.7 832.75 370.0 833.00 362.6 833.25 368.7 833.50 370.0 833.75 368.1 834.00 368.2 834.25 371.9 834.50 368.5 834.75 367.7 835.00 366.6 835.25 370.0 835.50 366.8 835.75 370.0 836.00 368.2 836.25 371.6 836.50 365.2 836.75 368.1 837.00 369.0 837.25 369.3 837.50 371.7 837.75 369.2 838.00 371.0 838.25 374.5 838.50 370.8 838.75 364.4 839.00 363.2 839.25 370.2 839.50 366.7 839.75 369.0 840.00 367.4 840.25 372.4 840.50 372.1 840.75 364.3 841.00 369.0 841.25 367.1 841.50 363.7 841.75 370.3 842.00 367.6 842.25 369.6 842.50 375.9 842.75 372.6 843.00 371.9 843.25 366.8 843.50 364.2 843.75 372.4 844.00 367.2 844.25 368.4 844.50 367.0 844.75 368.6 845.00 376.0 845.25 367.2 845.50 367.3 845.75 369.0 846.00 369.3 846.25 364.3 846.50 362.3 846.75 366.4 847.00 367.6 847.25 365.7 847.50 365.0 847.75 365.2 848.00 367.0 848.25 368.0 848.50 362.9 848.75 366.5 849.00 369.6 849.25 368.0 849.50 363.8 849.75 367.2 850.00 368.3 850.25 371.0 850.50 362.9 850.75 370.7 851.00 366.9 851.25 369.1 851.50 370.8 851.75 365.5 852.00 365.8 852.25 368.1 852.50 371.0 852.75 366.7 853.00 363.8 853.25 366.2 853.50 369.8 853.75 372.5 854.00 366.9 854.25 367.5 854.50 368.0 854.75 368.1 855.00 365.4 855.25 367.1 855.50 369.3 855.75 369.0 856.00 368.7 856.25 365.3 856.50 366.8 856.75 366.3 857.00 372.2 857.25 373.6 857.50 369.9 857.75 374.1 858.00 367.8 858.25 367.8 858.50 364.4 858.75 369.6 859.00 367.3 859.25 369.1 859.50 370.4 859.75 368.0 860.00 365.1 860.25 368.7 860.50 368.6 860.75 369.0 861.00 371.1 861.25 368.2 861.50 368.1 861.75 374.7 862.00 372.5 862.25 368.7 862.50 365.9 862.75 367.6 863.00 370.3 863.25 371.8 863.50 376.8 863.75 368.3 864.00 369.6 864.25 368.0 864.50 369.4 864.75 367.9 865.00 365.7 865.25 372.5 865.50 369.6 865.75 373.4 866.00 367.6 866.25 370.1 866.50 371.4 866.75 363.2 867.00 365.0 867.25 371.8 867.50 369.7 867.75 363.4 868.00 367.0 868.25 366.0 868.50 367.9 868.75 374.4 869.00 367.6 869.25 376.0 869.50 368.7 869.75 367.1 870.00 374.6 870.25 372.6 870.50 374.0 870.75 375.8 871.00 373.0 871.25 373.5 871.50 364.1 871.75 367.0 872.00 371.1 872.25 370.3 872.50 372.0 872.75 368.2 873.00 373.3 873.25 376.2 873.50 371.7 873.75 372.5 874.00 371.4 874.25 372.8 874.50 370.5 874.75 368.3 875.00 370.5 875.25 370.3 875.50 365.1 875.75 370.7 876.00 370.0 876.25 370.6 876.50 368.2 876.75 371.5 877.00 372.0 877.25 367.8 877.50 371.0 877.75 372.5 878.00 372.4 878.25 367.1 878.50 366.8 878.75 370.1 879.00 366.8 879.25 377.3 879.50 367.5 879.75 367.6 880.00 372.1 880.25 368.6 880.50 362.7 880.75 369.6 881.00 367.0 881.25 368.4 881.50 365.0 881.75 367.2 882.00 369.5 882.25 369.8 882.50 366.6 882.75 367.8 883.00 367.4 883.25 370.5 883.50 369.6 883.75 366.1 884.00 372.0 884.25 367.8 884.50 371.2 884.75 367.1 885.00 370.9 885.25 369.6 885.50 370.1 885.75 371.5 886.00 371.3 886.25 370.5 886.50 370.5 886.75 366.0 887.00 369.8 887.25 363.2 887.50 363.0 887.75 369.0 888.00 369.3 888.25 374.6 888.50 372.0 888.75 373.4 889.00 369.0 889.25 371.4 889.50 373.6 889.75 371.6 890.00 371.1 890.25 370.3 890.50 367.2 890.75 367.2 891.00 365.6 891.25 371.3 891.50 369.2 891.75 367.9 892.00 371.1 892.25 368.3 892.50 373.3 892.75 376.0 893.00 371.5 893.25 367.9 893.50 365.4 893.75 376.3 894.00 371.5 894.25 366.4 894.50 373.4 894.75 364.9 895.00 368.7 895.25 369.3 895.50 369.0 895.75 366.5 896.00 377.4 896.25 368.8 896.50 371.3 896.75 370.2 897.00 365.1 897.25 368.4 897.50 370.7 897.75 373.0 898.00 369.0 898.25 371.2 898.50 369.0 898.75 371.9 899.00 362.9 899.25 372.0 899.50 368.2 899.75 368.3 900.00 362.9 900.25 366.8 900.50 372.0 900.75 377.3 901.00 367.9 901.25 368.0 901.50 371.6 901.75 371.0 902.00 368.3 902.25 369.6 902.50 368.9 902.75 372.1 903.00 372.6 903.25 375.6 903.50 373.0 903.75 372.2 904.00 370.6 904.25 373.1 904.50 367.1 904.75 376.9 905.00 371.0 905.25 374.6 905.50 367.6 905.75 373.4 906.00 371.4 906.25 369.6 906.50 368.1 906.75 367.4 907.00 375.8 907.25 374.0 907.50 370.5 907.75 370.8 908.00 367.9 908.25 364.4 908.50 364.5 908.75 368.2 909.00 369.7 909.25 366.5 909.50 372.6 909.75 371.8 910.00 370.7 910.25 364.6 910.50 369.5 910.75 370.1 911.00 366.2 911.25 363.3 911.50 376.2 911.75 372.1 912.00 368.9 912.25 375.2 912.50 373.6 912.75 371.6 913.00 370.9 913.25 372.6 913.50 374.7 913.75 370.4 914.00 369.4 914.25 372.0 914.50 362.9 914.75 370.4 915.00 368.9 915.25 370.1 915.50 369.6 915.75 371.2 916.00 370.5 916.25 370.4 916.50 369.7 916.75 371.6 917.00 368.5 917.25 373.2 917.50 364.8 917.75 370.8 918.00 371.5 918.25 366.1 918.50 368.7 918.75 374.3 919.00 369.7 919.25 367.3 919.50 362.7 919.75 371.2 920.00 370.4 920.25 372.0 920.50 376.6 920.75 370.0 921.00 370.5 921.25 367.8 921.50 369.8 921.75 369.9 922.00 372.4 922.25 371.8 922.50 367.5 922.75 368.4 923.00 374.5 923.25 366.9 923.50 372.4 923.75 375.3 924.00 372.1 924.25 370.8 924.50 374.4 924.75 371.1 925.00 369.9 925.25 369.3 925.50 373.7 925.75 372.2 926.00 375.0 926.25 368.8 926.50 368.9 926.75 368.4 927.00 370.8 927.25 367.6 927.50 372.9 927.75 371.0 928.00 366.6 928.25 362.2 928.50 363.8 928.75 374.6 929.00 369.6 929.25 370.3 929.50 368.4 929.75 371.1 930.00 363.4 930.25 363.1 930.50 364.3 930.75 370.0 931.00 372.1 931.25 371.4 931.50 369.3 931.75 365.4 932.00 372.4 932.25 368.8 932.50 369.7 932.75 369.5 933.00 368.1 933.25 367.2 933.50 367.7 933.75 365.3 934.00 370.5 934.25 369.1 934.50 373.2 934.75 363.5 935.00 373.7 935.25 369.4 935.50 369.1 935.75 366.9 936.00 366.8 936.25 364.5 936.50 372.7 936.75 368.9 937.00 372.1 937.25 372.5 937.50 367.9 937.75 368.8 938.00 368.4 938.25 373.1 938.50 370.0 938.75 370.2 939.00 372.1 939.25 369.3 939.50 376.7 939.75 366.3 940.00 373.9 940.25 374.5 940.50 365.5 940.75 372.6 941.00 370.5 941.25 372.6 941.50 365.3 941.75 370.4 942.00 366.0 942.25 368.3 942.50 374.5 942.75 369.0 943.00 361.5 943.25 364.5 943.50 365.4 943.75 373.1 944.00 367.0 944.25 363.9 944.50 373.4 944.75 370.3 945.00 370.6 945.25 366.6 945.50 374.5 945.75 369.0 946.00 362.3 946.25 365.3 946.50 366.3 946.75 368.8 947.00 372.1 947.25 366.7 947.50 367.2 947.75 377.3 948.00 369.6 948.25 367.4 948.50 369.4 948.75 364.8 949.00 371.3 949.25 372.8 949.50 367.2 949.75 373.0 950.00 368.2 950.25 370.4 950.50 366.6 950.75 366.4 951.00 363.9 951.25 370.1 951.50 368.3 951.75 368.4 952.00 365.3 952.25 365.2 952.50 367.1 952.75 371.1 953.00 370.5 953.25 367.0 953.50 370.4 953.75 375.6 954.00 369.8 954.25 376.6 954.50 371.0 954.75 374.1 955.00 367.6 955.25 373.6 955.50 365.3 955.75 370.3 956.00 368.3 956.25 362.5 956.50 364.7 956.75 373.4 957.00 371.2 957.25 374.0 957.50 370.2 957.75 361.6 958.00 370.4 958.25 367.6 958.50 367.8 958.75 368.0 959.00 366.9 959.25 366.3 959.50 373.8 959.75 371.1 960.00 367.3 960.25 368.1 960.50 372.9 960.75 370.9 961.00 370.2 961.25 365.5 961.50 368.1 961.75 365.8 962.00 363.2 962.25 372.6 962.50 368.5 962.75 368.2 963.00 366.4 963.25 372.1 963.50 376.6 963.75 371.6 964.00 372.7 964.25 365.6 964.50 370.2 964.75 370.4 965.00 374.5 965.25 369.7 965.50 366.6 965.75 369.5 966.00 368.3 966.25 374.4 966.50 371.9 966.75 370.8 967.00 370.3 967.25 372.4 967.50 368.2 967.75 366.8 968.00 363.7 968.25 373.5 968.50 371.4 968.75 371.8 969.00 369.9 969.25 375.0 969.50 366.7 969.75 373.6 970.00 367.1 970.25 368.4 970.50 366.0 970.75 370.1 971.00 368.9 971.25 371.2 971.50 368.0 971.75 365.5 972.00 371.6 972.25 373.8 972.50 372.1 972.75 369.7 973.00 371.1 973.25 364.6 973.50 368.8 973.75 373.4 974.00 371.3 974.25 367.3 974.50 372.5 974.75 369.5 975.00 372.1 975.25 365.7 975.50 368.3 975.75 370.9 976.00 370.8 976.25 371.6 976.50 369.9 976.75 369.3 977.00 371.3 977.25 372.5 977.50 365.5 977.75 369.0 978.00 369.4 978.25 370.4 978.50 373.0 978.75 366.1 979.00 371.6 979.25 365.0 979.50 367.8 979.75 368.5 980.00 369.2 980.25 368.3 980.50 368.6 980.75 369.1 981.00 369.3 981.25 364.8 981.50 366.1 981.75 368.8 982.00 371.6 982.25 372.9 982.50 376.7 982.75 370.4 983.00 367.9 983.25 370.6 983.50 372.0 983.75 370.5 984.00 367.2 984.25 369.9 984.50 370.0 984.75 366.3 985.00 366.8 985.25 373.5 985.50 364.1 985.75 370.6 986.00 369.5 986.25 374.0 986.50 371.9 986.75 367.9 987.00 373.6 987.25 368.7 987.50 375.6 987.75 374.7 988.00 370.0 988.25 372.3 988.50 370.8 988.75 367.9 989.00 373.1 989.25 371.4 989.50 372.5 989.75 373.1 990.00 374.0 990.25 373.0 990.50 370.1 990.75 370.6 991.00 371.4 991.25 370.0 991.50 369.8 991.75 375.2 992.00 371.6 992.25 375.3 992.50 368.4 992.75 370.3 993.00 369.3 993.25 369.4 993.50 369.7 993.75 370.1 994.00 369.3 994.25 375.0 994.50 372.2 994.75 368.6 995.00 369.1 995.25 372.3 995.50 371.8 995.75 369.0 996.00 372.8 996.25 367.0 996.50 369.4 996.75 374.8 997.00 364.8 997.25 370.0 997.50 372.9 997.75 370.2 998.00 368.7 998.25 368.4 998.50 365.6 998.75 367.4 999.00 370.7 999.25 369.2 999.50 370.6 999.75 370.3 1000.00 371.4 1000.25 366.8 1000.50 370.0 1000.75 370.0 1001.00 370.1 1001.25 368.8 1001.50 365.7 1001.75 372.5 1002.00 373.0 1002.25 376.7 1002.50 372.9 1002.75 375.2 1003.00 372.7 1003.25 370.4 1003.50 372.5 1003.75 368.6 1004.00 372.0 1004.25 371.2 1004.50 369.0 1004.75 374.5 1005.00 374.3 1005.25 372.8 1005.50 373.7 1005.75 375.8 1006.00 371.5 1006.25 368.6 1006.50 369.6 1006.75 373.7 1007.00 372.6 1007.25 368.5 1007.50 375.3 1007.75 372.7 1008.00 376.2 1008.25 375.0 1008.50 371.2 1008.75 372.5 1009.00 370.5 1009.25 370.3 1009.50 371.6 1009.75 373.5 1010.00 375.7 1010.25 370.1 1010.50 374.0"/>
<path class="c" stroke="#ff0000" d="M89.00 571.0 89.25 575.0 89.50 573.8 89.75 573.8 90.00 577.2 90.25 566.4 90.50 568.6 90.75 566.0 91.00 570.6 91.25 574.7 91.50 570.6 91.75 572.4 92.00 562.7 92.25 570.8 92.50 566.6 92.75 577.2 93.00 573.6 93.25 573.8 93.50 569.7 93.75 572.4 94.00 572.5 94.25 568.4 94.50 567.7 94.75 569.2 95.00 567.2 95.25 567.2 95.50 568.4 95.75 566.5 96.00 572.5 96.25 562.9 96.50 572.6 96.75 566.7 97.00 567.0 97.25 563.6 97.50 568.5 97.75 568.0 98.00 569.7 98.25 566.7 98.50 569.2 98.75 576.3 99.00 570.4 99.25 566.3 99.50 572.6 99.75 568.0 100.00 571.0 100.25 571.0 100.50 566.8 100.75 560.3 101.00 566.8 101.25 570.5 101.50 566.6 101.75 570.0 102.00 572.2 102.25 565.7 102.50 573.1 102.75 574.7 103.00 572.4 103.25 572.7 103.50 572.4 103.75 577.2 104.00 568.4 104.25 567.6 104.50 570.1 104.75 563.6 105.00 560.8 105.25 563.6 105.50 568.9 105.75 569.2 106.00 560.6 106.25 559.1 106.50 565.7 106.75 566.2 107.00 566.7 107.25 569.8 107.50 572.1 107.75 567.7 108.00 569.2 108.25 561.7 108.50 561.2 108.75 567.2 109.00 569.0 109.25 569.1 109.50 568.4 109.75 569.2 110.00 569.2 110.25 557.7 110.50 562.1 110.75 567.2 111.00 567.7 111.25 558.2 111.50 570.1 111.75 562.7 112.00 563.5 112.25 565.7 112.50 567.7 112.75 557.7 113.00 568.6 113.25 564.3 113.50 560.3 113.75 562.4 114.00 553.4 114.25 560.4 114.50 564.2 114.75 559.9 115.00 561.5 115.25 562.2 115.50 563.0 115.75 567.5 116.00 562.4 116.25 561.2 116.50 564.9 116.75 572.2 117.00 560.4 117.25 564.4 117.50 554.1 117.75 568.3 118.00 564.8 118.25 568.0 118.50 561.1 118.75 556.2 119.00 565.5 119.25 564.8 119.50 556.7 119.75 553.7 120.00 563.0 120.25 559.8 120.50 571.8 120.75 557.4 121.00 557.8 121.25 559.7 121.50 551.9 121.75 555.7 122.00 568.0 122.25 559.2 122.50 556.7 122.75 553.3 123.00 562.4 123.25 562.7 123.50 560.6 123.75 557.3 124.00 560.6 124.25 560.9 124.50 555.5 124.75 561.9 125.00 548.2 125.25 552.2 125.50 557.0 125.75 557.8 126.00 552.5 126.25 559.8 126.50 563.3 126.75 560.2 127.00 559.0 127.25 561.9 127.50 559.7 127.75 551.8 128.00 556.4 128.25 563.8 128.50 551.5 128.75 557.4 129.00 555.1 129.25 552.4 129.50 551.7 129.75 557.2 130.00 558.2 130.25 558.0 130.50 549.1 130.75 554.8 131.00 557.9 131.25 560.8 131.50 559.3 131.75 560.0 132.00 561.3 132.25 559.8 132.50 551.4 132.75 555.7 133.00 551.7 133.25 543.6 133.50 546.6 133.75 565.6 134.00 549.3 134.25 543.5 134.50 551.7 134.75 562.3 135.00 554.3 135.25 556.5 135.50 552.9 135.75 553.8 136.00 560.5 136.25 558.0 136.50 553.4 136.75 558.3 137.00 559.1 137.25 552.5 137.50 554.8 137.75 554.6 138.00 549.9 138.25 558.9 138.50 552.2 138.75 549.9 139.00 544.6 139.25 546.5 139.50 560.2 139.75 547.0 140.00 554.6 140.25 550.6 140.50 554.8 140.75 555.1 141.00 548.3 141.25 550.6 141.50 552.4 141.75 552.3 142.00 551.5 142.25 550.1 142.50 554.5 142.75 557.6 143.00 553.8 143.25 547.7 143.50 552.9 143.75 551.3 144.00 553.0 144.25 559.3 144.50 549.7 144.75 550.5 145.00 546.4 145.25 549.1 145.50 547.7 145.75 557.5 146.00 551.5 146.25 547.4 146.50 558.6 146.75 543.8 147.00 553.5 147.25 554.1 147.50 552.0 147.75 548.2 148.00 548.7 148.25 547.7 148.50 552.5 148.75 538.9 149.00 546.7 149.25 549.5 149.50 546.2 149.75 540.8 150.00 547.4 150.25 545.2 150.50 551.7 150.75 554.1 151.00 548.4 151.25 539.8 151.50 547.1 151.75 543.9 152.00 550.5 152.25 554.6 152.50 548.8 152.75 555.8 153.00 553.5 153.25 550.1 153.50 543.6 153.75 547.9 154.00 541.5 154.25 551.5 154.50 547.7 154.75 552.6 155.00 548.2 155.25 539.2 155.50 549.4 155.75 550.5 156.00 553.3 156.25 542.8 156.50 542.9 156.75 546.7 157.00 542.2 157.25 540.8 157.50 541.9 157.75 554.8 158.00 543.5 158.25 541.9 158.50 544.0 158.75 545.8 159.00 550.9 159.25 549.4 159.50 548.7 159.75 545.6 160.00 546.0 160.25 542.7 160.50 539.1 160.75 553.6 161.00 543.2 161.25 549.2 161.50 543.7 161.75 544.5 162.00 544.2 162.25 539.0 162.50 544.4 162.75 546.2 163.00 548.1 163.25 546.6 163.50 548.7 163.75 545.6 164.00 544.3 164.25 535.8 164.50 541.8 164.75 550.7 165.00 544.5 165.25 547.4 165.50 542.9 165.75 540.9 166.00 552.6 166.25 545.2 166.50 550.1 166.75 545.8 167.00 542.2 167.25 533.5 167.50 543.7 167.75 536.3 168.00 533.3 168.25 548.6 168.50 546.3 168.75 545.8 169.00 543.1 169.25 542.7 169.50 544.7 169.75 543.4 170.00 542.9 170.25 545.9 170.50 531.7 170.75 546.5 171.00 539.5 171.25 546.2 171.50 547.6 171.75 538.2 172.00 545.7 172.25 545.6 172.50 538.6 172.75 539.3 173.00 542.1 173.25 531.1 173.50 539.3 173.75 542.2 174.00 539.2 174.25 533.7 174.50 539.3 174.75 548.2 175.00 547.2 175.25 540.3 175.50 537.0 175.75 540.7 176.00 540.7 176.25 537.4 176.50 538.9 176.75 543.4 177.00 544.8 177.25 529.3 177.50 544.9 177.75 540.8 178.00 545.5 178.25 539.9 178.50 542.0 178.75 547.7 179.00 528.8 179.25 547.3 179.50 540.5 179.75 530.8 180.00 528.4 180.25 540.9 180.50 534.4 180.75 544.0 181.00 540.2 181.25 538.4 181.50 543.7 181.75 539.8 182.00 542.4 182.25 542.7 182.50 540.2 182.75 542.4 183.00 542.3 183.25 531.9 183.50 537.1 183.75 537.7 184.00 536.4 184.25 530.5 184.50 535.3 184.75 539.6 185.00 538.8 185.25 545.1 185.50 534.9 185.75 535.6 186.00 534.9 186.25 536.0 186.50 534.6 186.75 528.4 187.00 539.0 187.25 542.0 187.50 542.5 187.75 531.9 188.00 536.1 188.25 545.8 188.50 536.3 188.75 538.4 189.00 536.0 189.25 541.4 189.50 541.2 189.75 547.5 190.00 538.8 190.25 538.5 190.50 530.4 190.75 534.2 191.00 532.7 191.25 534.4 191.50 529.6 191.75 541.7 192.00 530.7 192.25 537.0 192.50 529.6 192.75 537.2 193.00 543.5 193.25 531.4 193.50 537.1 193.75 534.9 194.00 536.5 194.25 537.1 194.50 531.9 194.75 534.1 195.00 532.0 195.25 530.8 195.50 528.8 195.75 539.4 196.00 531.0 196.25 537.8 196.50 537.3 196.75 529.6 197.00 539.6 197.25 530.2 197.50 537.5 197.75 541.5 198.00 530.7 198.25 529.6 198.50 529.5 198.75 545.6 199.00 532.2 199.25 527.7 199.50 538.1 199.75 533.1 200.00 533.7 200.25 528.8 200.50 522.5 200.75 530.0 201.00 528.4 201.25 525.4 201.50 528.0 201.75 528.7 202.00 537.6 202.25 537.1 202.50 536.1 202.75 530.6 203.00 526.8 203.25 534.8 203.50 535.6 203.75 538.4 204.00 533.0 204.25 532.4 204.50 534.7 204.75 528.1 205.00 528.7 205.25 536.3 205.50 526.2 205.75 532.4 206.00 537.0 206.25 534.0 206.50 535.0 206.75 526.7 207.00 532.0 207.25 531.1 207.50 535.8 207.75 534.8 208.00 532.7 208.25 542.8 208.50 535.4 208.75 530.8 209.00 529.0 209.25 532.1 209.50 529.2 209.75 541.2 210.00 535.3 210.25 530.5 210.50 528.5 210.75 526.2 211.00 530.5 211.25 539.3 211.50 536.7 211.75 531.6 212.00 532.7 212.25 521.4 212.50 536.1 212.75 530.6 213.00 539.5 213.25 530.7 213.50 528.9 213.75 532.9 214.00 528.0 214.25 539.2 214.50 533.2 214.75 533.6 215.00 533.4 215.25 529.4 215.50 534.0 215.75 532.2 216.00 541.2 216.25 531.4 216.50 533.1 216.75 528.2 217.00 528.6 217.25 529.0 217.50 538.2 217.75 531.1 218.00 536.2 218.25 528.9 218.50 528.3 218.75 519.0 219.00 535.1 219.25 542.3 219.50 528.7 219.75 538.5 220.00 534.9 220.25 525.7 220.50 534.3 220.75 524.3 221.00 527.7 221.25 536.8 221.50 530.3 221.75 522.2 222.00 537.7 222.25 522.5 222.50 528.0 222.75 526.8 223.00 527.8 223.25 523.5 223.50 518.7 223.75 539.8 224.00 522.6 224.25 522.9 224.50 513.5 224.75 528.7 225.00 536.0 225.25 536.6 225.50 541.5 225.75 537.1 226.00 530.2 226.25 527.8 226.50 536.5 226.75 527.2 227.00 528.6 227.25 521.2 227.50 527.8 227.75 539.5 228.00 526.5 228.25 529.4 228.50 511.5 228.75 535.2 229.00 528.9 229.25 535.4 229.50 527.9 229.75 520.8 230.00 517.4 230.25 529.2 230.50 525.7 230.75 519.5 231.00 525.2 231.25 521.4 231.50 530.0 231.75 522.5 232.00 517.1 232.25 524.4 232.50 521.1 232.75 534.2 233.00 521.5 233.25 515.8 233.50 523.9 233.75 522.4 234.00 525.7 234.25 525.2 234.50 516.9 234.75 523.1 235.00 522.6 235.25 515.2 235.50 519.1 235.75 523.9 236.00 512.0 236.25 515.0 236.50 518.8 236.75 521.0 237.00 524.7 237.25 512.4 237.50 522.9 237.75 524.8 238.00 530.5 238.25 517.6 238.50 514.2 238.75 510.0 239.00 523.3 239.25 527.8 239.50 514.9 239.75 522.0 240.00 524.5 240.25 525.0 240.50 516.1 240.75 522.7 241.00 518.1 241.25 512.2 241.50 519.8 241.75 520.3 242.00 511.7 242.25 520.5 242.50 530.3 242.75 507.7 243.00 521.7 243.25 522.8 243.50 517.1 243.75 518.7 244.00 514.7 244.25 524.8 244.50 509.9 244.75 514.8 245.00 503.1 245.25 517.3 245.50 517.4 245.75 504.1 246.00 509.0 246.25 517.4 246.50 511.0 246.75 506.1 247.00 499.2 247.25 515.6 247.50 525.6 247.75 510.1 248.00 515.5 248.25 515.2 248.50 511.8 248.75 512.8 249.00 512.7 249.25 506.2 249.50 526.6 249.75 526.4 250.00 513.1 250.25 522.4 250.50 505.5 250.75 509.1 251.00 517.6 251.25 502.8 251.50 501.6 251.75 512.0 252.00 496.9 252.25 520.5 252.50 514.0 252.75 510.6 253.00 513.2 253.25 502.9 253.50 502.5 253.75 513.7 254.00 514.2 254.25 509.1 254.50 507.7 254.75 504.4 255.00 517.2 255.25 497.8 255.50 501.9 255.75 504.0 256.00 497.1 256.25 498.3 256.50 500.2 256.75 514.5 257.00 520.0 257.25 509.7 257.50 495.4 257.75 502.6 258.00 505.9 258.25 504.8 258.50 504.0 258.75 510.5 259.00 491.9 259.25 502.1 259.50 508.0 259.75 511.8 260.00 508.5 260.25 506.3 260.50 505.0 260.75 500.8 261.00 506.7 261.25 504.3 261.50 500.2 261.75 515.5 262.00 515.4 262.25 502.6 262.50 510.7 262.75 515.5 263.00 507.7 263.25 506.4 263.50 509.5 263.75 491.2 264.00 493.1 264.25 509.6 264.50 507.5 264.75 516.5 265.00 501.0 265.25 514.1 265.50 513.7 265.75 521.1 266.00 498.5 266.25 502.1 266.50 507.1 266.75 507.0 267.00 497.0 267.25 500.4 267.50 494.6 267.75 522.3 268.00 504.2 268.25 504.6 268.50 500.0 268.75 504.8 269.00 510.5 269.25 502.1 269.50 504.3 269.75 520.5 270.00 511.2 270.25 506.1 270.50 501.3 270.75 504.2 271.00 499.0 271.25 506.2 271.50 499.5 271.75 499.0 272.00 501.2 272.25 496.6 272.50 505.3 272.75 519.4 273.00 499.6 273.25 492.6 273.50 510.1 273.75 502.9 274.00 516.5 274.25 505.9 274.50 509.4 274.75 498.3 275.00 493.1 275.25 502.0 275.50 507.3 275.75 497.7 276.00 493.2 276.25 499.3 276.50 500.1 276.75 500.8 277.00 502.5 277.25 516.4 277.50 502.7 277.75 499.3 278.00 495.6 278.25 506.4 278.50 492.0 278.75 509.6 279.00 500.7 279.25 491.5 279.50 501.3 279.75 499.2 280.00 506.9 280.25 490.2 280.50 500.2 280.75 498.5 281.00 503.8 281.25 491.1 281.50 492.9 281.75 509.2 282.00 500.3 282.25 487.6 282.50 498.1 282.75 491.0 283.00 491.1 283.25 487.5 283.50 499.8 283.75 490.5 284.00 493.9 284.25 492.5 284.50 483.7 284.75 487.0 285.00 493.0 285.25 482.1 285.50 488.3 285.75 485.6 286.00 486.2 286.25 484.1 286.50 481.9 286.75 477.8 287.00 475.0 287.25 470.7 287.50 467.3 287.75 464.6 288.00 461.1 288.25 460.3 288.50 459.9 288.75 458.8 289.00 459.0 289.25 458.1 289.50 458.8 289.75 459.9 290.00 463.1 290.25 466.0 290.50 467.7 290.75 473.6 291.00 474.7 291.25 471.9 291.50 477.0 291.75 476.2 292.00 485.0 292.25 479.7 292.50 482.5 292.75 481.2 293.00 485.4 293.25 481.1 293.50 480.1 293.75 482.5 294.00 483.3 294.25 489.0 294.50 486.9 294.75 484.7 295.00 485.3 295.25 483.2 295.50 488.9 295.75 478.3 296.00 487.9 296.25 495.5 296.50 488.0 296.75 486.8 297.00 490.8 297.25 486.1 297.50 487.3 297.75 495.1 298.00 488.6 298.25 502.5 298.50 495.4 298.75 492.4 299.00 489.9 299.25 492.2 299.50 481.8 299.75 495.1 300.00 498.4 300.25 496.7 300.50 491.2 300.75 496.7 301.00 496.7 301.25 492.5 301.50 495.0 301.75 498.6 302.00 495.4 302.25 490.8 302.50 492.8 302.75 493.4 303.00 484.0 303.25 493.1 303.50 491.7 303.75 480.8 304.00 483.1 304.25 501.5 304.50 492.5 304.75 498.8 305.00 489.7 305.25 499.6 305.50 494.5 305.75 487.8 306.00 492.7 306.25 499.3 306.50 503.2 306.75 493.7 307.00 488.6 307.25 486.3 307.50 494.2 307.75 496.2 308.00 491.2 308.25 489.8 308.50 494.5 308.75 492.7 309.00 492.1 309.25 482.0 309.50 488.1 309.75 499.5 310.00 489.5 310.25 501.4 310.50 491.4 310.75 487.8 311.00 490.6 311.25 492.2 311.50 485.2 311.75 490.1 312.00 486.6 312.25 496.1 312.50 486.2 312.75 489.0 313.00 480.5 313.25 481.2 313.50 487.7 313.75 483.5 314.00 486.7 314.25 489.4 314.50 491.1 314.75 480.9 315.00 487.2 315.25 491.6 315.50 484.7 315.75 481.4 316.00 484.6 316.25 496.7 316.50 488.3 316.75 496.3 317.00 486.6 317.25 494.4 317.50 480.6 317.75 486.9 318.00 488.7 318.25 497.4 318.50 490.6 318.75 494.0 319.00 486.0 319.25 486.0 319.50 494.8 319.75 495.6 320.00 494.6 320.25 494.4 320.50 485.4 320.75 499.4 321.00 489.0 321.25 494.7 321.50 492.0 321.75 478.9 322.00 477.8 322.25 479.7 322.50 488.0 322.75 494.2 323.00 487.2 323.25 493.0 323.50 482.2 323.75 485.5 324.00 484.1 324.25 489.1 324.50 482.9 324.75 488.5 325.00 492.1 325.25 486.6 325.50 484.4 325.75 486.6 326.00 482.7 326.25 483.5 326.50 492.0 326.75 489.3 327.00 481.2 327.25 485.3 327.50 486.5 327.75 485.3 328.00 481.7 328.25 477.5 328.50 469.6 328.75 458.6 329.00 441.2 329.25 420.4 329.50 412.5 329.75 412.7 330.00 424.8 330.25 445.9 330.50 461.9 330.75 471.7 331.00 478.0 331.25 484.6 331.50 482.2 331.75 481.0 332.00 488.9 332.25 494.4 332.50 495.4 332.75 500.8 333.00 492.7 333.25 490.4 333.50 492.2 333.75 486.8 334.00 490.8 334.25 502.2 334.50 507.2 334.75 502.8 335.00 497.5 335.25 494.7 335.50 497.8 335.75 485.8 336.00 500.3 336.25 501.7 336.50 496.7 336.75 497.8 337.00 488.1 337.25 502.7 337.50 503.0 337.75 485.6 338.00 495.5 338.25 501.1 338.50 509.0 338.75 494.6 339.00 499.6 339.25 508.6 339.50 503.0 339.75 499.3 340.00 498.2 340.25 501.2 340.50 496.6 340.75 507.3 341.00 496.7 341.25 505.2 341.50 507.6 341.75 509.5 342.00 503.5 342.25 503.2 342.50 505.3 342.75 504.2 343.00 510.3 343.25 503.6 343.50 515.5 343.75 517.5 344.00 501.1 344.25 507.5 344.50 498.6 344.75 509.9 345.00 508.2 345.25 504.7 345.50 500.1 345.75 506.5 346.00 518.3 346.25 516.1 346.50 509.2 346.75 503.6 347.00 507.3 347.25 502.9 347.50 499.9 347.75 502.4 348.00 511.8 348.25 510.2 348.50 509.6 348.75 502.2 349.00 500.5 349.25 514.8 349.50 506.9 349.75 516.0 350.00 504.9 350.25 515.0 350.50 510.8 350.75 507.0 351.00 507.2 351.25 520.9 351.50 515.3 351.75 508.5 352.00 511.1 352.25 501.2 352.50 520.3 352.75 518.6 353.00 508.2 353.25 513.3 353.50 497.4 353.75 516.5 354.00 513.7 354.25 512.6 354.50 516.0 354.75 513.1 355.00 505.8 355.25 507.5 355.50 510.5 355.75 516.8 356.00 511.9 356.25 508.0 356.50 514.0 356.75 505.0 357.00 524.0 357.25 514.0 357.50 506.8 357.75 513.4 358.00 518.7 358.25 515.7 358.50 524.3 358.75 504.9 359.00 522.0 359.25 512.9 359.50 518.2 359.75 523.0 360.00 506.7 360.25 505.6 360.50 511.4 360.75 504.4 361.00 502.6 361.25 514.4 361.50 520.5 361.75 511.4 362.00 517.0 362.25 526.9 362.50 516.2 362.75 512.7 363.00 513.6 363.25 516.9 363.50 513.1 363.75 518.5 364.00 515.9 364.25 519.7 364.50 515.5 364.75 514.2 365.00 509.6 365.25 507.1 365.50 512.7 365.75 511.9 366.00 514.8 366.25 512.4 366.50 510.1 366.75 517.6 367.00 508.7 367.25 506.8 367.50 499.9 367.75 499.3 368.00 499.2 368.25 498.9 368.50 500.4 368.75 507.3 369.00 506.8 369.25 505.9 369.50 506.2 369.75 514.1 370.00 512.3 370.25 519.4 370.50 519.3 370.75 523.4 371.00 518.3 371.25 517.4 371.50 517.0 371.75 512.9 372.00 512.8 372.25 513.5 372.50 518.8 372.75 513.1 373.00 517.3 373.25 523.7 373.50 505.5 373.75 513.2 374.00 512.7 374.25 518.1 374.50 510.1 374.75 514.6 375.00 530.8 375.25 510.9 375.50 517.9 375.75 519.6 376.00 516.9 376.25 512.0 376.50 524.0 376.75 508.2 377.00 513.4 377.25 517.5 377.50 515.3 377.75 525.2 378.00 517.1 378.25 529.2 378.50 518.8 378.75 527.3 379.00 521.2 379.25 517.6 379.50 517.4 379.75 524.6 380.00 516.1 380.25 518.9 380.50 514.8 380.75 508.1 381.00 522.2 381.25 522.8 381.50 512.8 381.75 522.0 382.00 518.1 382.25 509.2 382.50 514.4 382.75 523.2 383.00 525.3 383.25 521.9 383.50 532.7 383.75 521.8 384.00 515.9 384.25 512.0 384.50 528.2 384.75 517.6 385.00 518.2 385.25 515.8 385.50 515.9 385.75 518.4 386.00 523.0 386.25 523.5 386.50 522.5 386.75 525.8 387.00 518.1 387.25 515.3 387.50 520.6 387.75 509.9 388.00 525.7 388.25 524.0 388.50 524.1 388.75 515.6 389.00 518.8 389.25 521.6 389.50 516.2 389.75 515.9 390.00 520.6 390.25 522.6 390.50 518.4 390.75 527.4 391.00 533.7 391.25 525.2 391.50 521.3 391.75 520.6 392.00 530.7 392.25 524.0 392.50 525.7 392.75 523.8 393.00 519.7 393.25 530.5 393.50 521.6 393.75 523.7 394.00 512.0 394.25 534.1 394.50 526.9 394.75 522.7 395.00 519.2 395.25 520.2 395.50 514.8 395.75 525.8 396.00 519.1 396.25 525.7 396.50 525.9 396.75 533.3 397.00 524.9 397.25 525.2 397.50 526.2 397.75 520.5 398.00 522.3 398.25 525.0 398.50 529.2 398.75 527.0 399.00 521.8 399.25 529.3 399.50 521.1 399.75 515.2 400.00 530.9 400.25 522.9 400.50 520.4 400.75 516.5 401.00 520.3 401.25 531.2 401.50 522.1 401.75 533.9 402.00 522.4 402.25 528.1 402.50 522.3 402.75 519.6 403.00 519.7 403.25 520.5 403.50 515.4 403.75 515.1 404.00 523.5 404.25 528.1 404.50 522.3 404.75 521.6 405.00 516.4 405.25 527.2 405.50 526.7 405.75 514.7 406.00 521.3 406.25 519.0 406.50 512.6 406.75 529.4 407.00 527.0 407.25 522.2 407.50 528.1 407.75 517.4 408.00 521.7 408.25 527.5 408.50 518.3 408.75 521.5 409.00 514.4 409.25 523.3 409.50 526.1 409.75 514.0 410.00 514.9 410.25 518.8 410.50 527.0 410.75 516.1 411.00 514.1 411.25 518.2 411.50 525.2 411.75 509.8 412.00 517.5 412.25 525.9 412.50 518.0 412.75 516.5 413.00 523.0 413.25 510.8 413.50 529.8 413.75 520.5 414.00 515.3 414.25 517.9 414.50 516.9 414.75 515.5 415.00 509.8 415.25 515.5 415.50 506.6 415.75 524.9 416.00 509.9 416.25 512.1 416.50 511.6 416.75 520.6 417.00 515.1 417.25 524.9 417.50 513.5 417.75 517.2 418.00 515.9 418.25 514.2 418.50 523.0 418.75 523.7 419.00 524.2 419.25 507.9 419.50 518.3 419.75 509.5 420.00 509.3 420.25 505.4 420.50 510.5 420.75 519.8 421.00 524.6 421.25 526.7 421.50 510.8 421.75 512.5 422.00 517.7 422.25 517.1 422.50 517.6 422.75 505.7 423.00 515.1 423.25 519.7 423.50 517.8 423.75 515.5 424.00 511.9 424.25 515.7 424.50 525.9 424.75 519.3 425.00 522.6 425.25 526.2 425.50 509.7 425.75 520.3 426.00 519.0 426.25 524.2 426.50 514.7 426.75 514.9 427.00 512.2 427.25 517.2 427.50 514.4 427.75 515.2 428.00 518.1 428.25 513.8 428.50 510.5 428.75 513.6 429.00 512.8 429.25 518.6 429.50 523.6 429.75 514.0 430.00 502.4 430.25 519.6 430.50 515.7 430.75 510.4 431.00 514.5 431.25 527.2 431.50 507.0 431.75 509.0 432.00 515.6 432.25 502.4 432.50 513.2 432.75 521.9 433.00 519.3 433.25 518.2 433.50 514.0 433.75 515.0 434.00 530.1 434.25 517.4 434.50 524.1 434.75 508.4 435.00 517.5 435.25 518.2 435.50 516.9 435.75 502.9 436.00 513.5 436.25 524.8 436.50 519.3 436.75 511.3 437.00 521.2 437.25 504.7 437.50 519.4 437.75 517.9 438.00 512.2 438.25 509.8 438.50 506.0 438.75 514.5 439.00 526.0 439.25 520.9 439.50 518.2 439.75 521.2 440.00 512.2 440.25 518.8 440.50 502.5 440.75 512.8 441.00 512.8 441.25 515.2 441.50 514.6 441.75 518.9 442.00 511.9 442.25 520.8 442.50 514.0 442.75 520.4 443.00 516.1 443.25 520.2 443.50 518.0 443.75 511.9 444.00 516.4 444.25 507.9 444.50 515.5 444.75 517.4 445.00 513.7 445.25 514.3 445.50 520.7 445.75 521.9 446.00 523.1 446.25 511.9 446.50 512.7 446.75 519.5 447.00 520.0 447.25 505.0 447.50 525.9 447.75 521.4 448.00 508.2 448.25 521.3 448.50 512.8 448.75 514.4 449.00 509.7 449.25 510.6 449.50 512.9 449.75 515.5 450.00 509.1 450.25 514.4 450.50 510.7 450.75 511.4 451.00 509.3 451.25 510.4 451.50 521.9 451.75 504.7 452.00 506.1 452.25 512.3 452.50 509.8 452.75 506.7 453.00 514.0 453.25 505.6 453.50 511.4 453.75 516.1 454.00 513.8 454.25 509.2 454.50 510.4 454.75 511.0 455.00 512.9 455.25 504.8 455.50 515.8 455.75 512.9 456.00 518.3 456.25 512.9 456.50 513.6 456.75 496.7 457.00 505.6 457.25 517.0 457.50 509.3 457.75 504.8 458.00 510.3 458.25 507.0 458.50 508.3 458.75 502.5 459.00 508.5 459.25 513.2 459.50 506.5 459.75 507.3 460.00 501.2 460.25 506.9 460.50 502.0 460.75 496.8 461.00 501.4 461.25 502.0 461.50 506.0 461.75 507.9 462.00 501.3 462.25 500.1 462.50 505.4 462.75 496.4 463.00 499.3 463.25 499.5 463.50 499.6 463.75 496.8 464.00 509.6 464.25 505.4 464.50 498.4 464.75 490.4 465.00 495.7 465.25 502.1 465.50 486.2 465.75 512.5 466.00 497.2 466.25 497.0 466.50 500.9 466.75 487.8 467.00 496.7 467.25 495.9 467.50 500.0 467.75 489.1 468.00 498.7 468.25 501.8 468.50 496.0 468.75 490.6 469.00 488.4 469.25 482.5 469.50 489.4 469.75 495.6 470.00 501.2 470.25 497.7 470.50 497.9 470.75 486.9 471.00 486.3 471.25 478.6 471.50 483.1 471.75 479.4 472.00 484.2 472.25 489.3 472.50 483.4 472.75 481.2 473.00 487.0 473.25 491.7 473.50 488.1 473.75 468.8 474.00 491.0 474.25 475.5 474.50 467.9 474.75 474.4 475.00 483.0 475.25 459.7 475.50 483.6 475.75 475.2 476.00 476.7 476.25 461.5 476.50 466.1 476.75 460.4 477.00 477.0 477.25 460.5 477.50 468.4 477.75 458.7 478.00 448.8 478.25 469.4 478.50 471.2 478.75 473.2 479.00 452.8 479.25 457.3 479.50 462.3 479.75 457.6 480.00 455.2 480.25 473.8 480.50 446.9 480.75 457.7 481.00 443.5 481.25 460.1 481.50 443.6 481.75 435.9 482.00 450.3 482.25 442.8 482.50 437.7 482.75 438.2 483.00 434.7 483.25 444.7 483.50 443.1 483.75 455.0 484.00 434.1 484.25 452.9 484.50 445.1 484.75 427.5 485.00 453.6 485.25 424.2 485.50 444.7 485.75 423.4 486.00 442.6 486.25 436.8 486.50 437.7 486.75 423.0 487.00 433.3 487.25 450.7 487.50 445.8 487.75 439.7 488.00 439.2 488.25 434.7 488.50 452.9 488.75 440.1 489.00 449.7 489.25 428.0 489.50 427.6 489.75 451.9 490.00 433.6 490.25 439.3 490.50 444.7 490.75 448.3 491.00 446.0 491.25 445.4 491.50 453.4 491.75 443.3 492.00 448.0 492.25 441.9 492.50 442.8 492.75 454.5 493.00 440.1 493.25 427.0 493.50 442.4 493.75 443.2 494.00 452.9 494.25 440.0 494.50 435.8 494.75 443.0 495.00 452.1 495.25 440.6 495.50 449.2 495.75 446.4 496.00 448.2 496.25 441.5 496.50 447.3 496.75 443.6 497.00 449.0 497.25 446.1 497.50 457.1 497.75 449.0 498.00 451.6 498.25 441.0 498.50 449.2 498.75 469.7 499.00 454.6 499.25 448.2 499.50 458.9 499.75 458.6 500.00 457.8 500.25 460.2 500.50 460.0 500.75 470.3 501.00 457.1 501.25 467.6 501.50 472.7 501.75 461.6 502.00 483.8 502.25 469.6 502.50 469.4 502.75 467.1 503.00 476.8 503.25 461.7 503.50 477.0 503.75 488.5 504.00 477.0 504.25 481.0 504.50 470.4 504.75 482.3 505.00 473.0 505.25 475.9 505.50 479.6 505.75 492.6 506.00 477.4 506.25 469.6 506.50 483.6 506.75 488.4 507.00 488.5 507.25 486.5 507.50 494.2 507.75 491.9 508.00 492.3 508.25 485.7 508.50 480.4 508.75 498.9 509.00 485.4 509.25 498.3 509.50 498.4 509.75 486.1 510.00 489.8 510.25 496.3 510.50 500.0 510.75 490.4 511.00 494.7 511.25 491.6 511.50 491.4 511.75 498.9 512.00 496.7 512.25 489.7 512.50 502.5 512.75 499.3 513.00 500.0 513.25 495.5 513.50 505.7 513.75 503.7 514.00 503.8 514.25 502.0 514.50 504.3 514.75 511.0 515.00 503.6 515.25 504.0 515.50 500.4 515.75 506.6 516.00 501.7 516.25 499.0 516.50 509.8 516.75 502.4 517.00 498.3 517.25 499.3 517.50 500.4 517.75 497.1 518.00 512.7 518.25 507.6 518.50 495.5 518.75 511.4 519.00 501.9 519.25 505.9 519.50 501.9 519.75 507.1 520.00 507.0 520.25 509.6 520.50 510.1 520.75 489.7 521.00 501.5 521.25 504.6 521.50 503.4 521.75 495.1 522.00 502.3 522.25 503.6 522.50 491.1 522.75 499.0 523.00 510.0 523.25 499.9 523.50 503.8 523.75 505.1 524.00 508.7 524.25 510.5 524.50 512.9 524.75 506.4 525.00 507.2 525.25 504.9 525.50 507.4 525.75 505.3 526.00 511.7 526.25 511.5 526.50 496.3 526.75 489.9 527.00 509.9 527.25 502.8 527.50 495.2 527.75 514.1 528.00 518.4 528.25 498.4 528.50 499.9 528.75 502.0 529.00 501.0 529.25 506.2 529.50 498.6 529.75 507.0 530.00 504.1 530.25 515.0 530.50 506.4 530.75 513.8 531.00 518.3 531.25 511.1 531.50 512.0 531.75 503.6 532.00 507.3 532.25 524.0 532.50 517.3 532.75 507.5 533.00 504.4 533.25 506.2 533.50 515.2 533.75 492.5 534.00 509.1 534.25 497.8 534.50 517.5 534.75 497.1 535.00 513.9 535.25 505.3 535.50 507.5 535.75 519.0 536.00 507.4 536.25 512.2 536.50 510.2 536.75 499.4 537.00 507.2 537.25 514.3 537.50 510.0 537.75 508.9 538.00 502.7 538.25 518.2 538.50 503.9 538.75 519.9 539.00 509.0 539.25 512.5 539.50 498.3 539.75 508.5 540.00 501.5 540.25 508.4 540.50 515.8 540.75 510.2 541.00 509.6 541.25 514.3 541.50 500.2 541.75 508.7 542.00 504.1 542.25 515.2 542.50 503.6 542.75 518.5 543.00 521.2 543.25 494.7 543.50 507.3 543.75 498.2 544.00 516.1 544.25 502.9 544.50 512.3 544.75 510.3 545.00 502.6 545.25 499.0 545.50 515.3 545.75 504.7 546.00 510.1 546.25 517.2 546.50 508.3 546.75 506.7 547.00 502.3 547.25 511.3 547.50 503.6 547.75 498.5 548.00 505.1 548.25 504.8 548.50 498.9 548.75 507.2 549.00 513.6 549.25 512.2 549.50 521.2 549.75 515.8 550.00 510.5 550.25 496.4 550.50 510.4 550.75 516.7 551.00 507.4 551.25 518.3 551.50 503.4 551.75 511.0 552.00 514.7 552.25 520.4 552.50 509.2 552.75 522.3 553.00 507.3 553.25 497.9 553.50 509.0 553.75 518.9 554.00 507.5 554.25 520.8 554.50 508.5 554.75 522.8 555.00 494.9 555.25 525.2 555.50 496.0 555.75 509.7 556.00 501.9 556.25 512.4 556.50 508.7 556.75 508.1 557.00 514.8 557.25 517.2 557.50 508.0 557.75 519.3 558.00 498.0 558.25 502.8 558.50 500.6 558.75 514.1 559.00 517.3 559.25 507.5 559.50 506.0 559.75 501.9 560.00 515.9 560.25 519.4 560.50 506.7 560.75 509.6 561.00 507.9 561.25 510.8 561.50 514.6 561.75 494.2 562.00 507.0 562.25 517.5 562.50 504.3 562.75 521.1 563.00 522.4 563.25 504.1 563.50 505.3 563.75 521.9 564.00 498.8 564.25 503.6 564.50 499.3 564.75 512.3 565.00 514.9 565.25 516.0 565.50 514.6 565.75 501.9 566.00 521.6 566.25 512.3 566.50 509.9 566.75 525.9 567.00 514.1 567.25 515.9 567.50 519.6 567.75 528.3 568.00 513.5 568.25 518.8 568.50 497.8 568.75 507.0 569.00 528.9 569.25 528.4 569.50 513.3 569.75 508.2 570.00 505.0 570.25 506.3 570.50 510.8 570.75 503.0 571.00 514.3 571.25 514.0 571.50 506.9 571.75 506.6 572.00 507.6 572.25 512.4 572.50 514.3 572.75 519.7 573.00 504.4 573.25 513.9 573.50 516.5 573.75 518.5 574.00 522.1 574.25 514.1 574.50 524.8 574.75 531.3 575.00 519.9 575.25 527.1 575.50 523.6 575.75 520.4 576.00 516.4 576.25 519.4 576.50 530.7 576.75 518.6 577.00 513.5 577.25 515.4 577.50 523.3 577.75 514.9 578.00 524.3 578.25 523.4 578.50 520.5 578.75 529.2 579.00 511.8 579.25 516.4 579.50 518.7 579.75 522.2 580.00 512.2 580.25 516.9 580.50 527.8 580.75 518.1 581.00 525.8 581.25 519.3 581.50 516.5 581.75 523.8 582.00 528.4 582.25 520.9 582.50 514.0 582.75 517.1 583.00 519.1 583.25 520.2 583.50 516.6 583.75 525.7 584.00 516.3 584.25 527.6 584.50 516.6 584.75 517.2 585.00 528.7 585.25 526.6 585.50 521.1 585.75 519.9 586.00 522.0 586.25 523.6 586.50 524.8 586.75 529.1 587.00 519.5 587.25 524.0 587.50 524.4 587.75 517.2 588.00 530.4 588.25 533.1 588.50 524.6 588.75 515.9 589.00 520.8 589.25 529.8 589.50 515.0 589.75 515.3 590.00 522.9 590.25 527.9 590.50 529.8 590.75 530.8 591.00 515.2 591.25 523.2 591.50 521.4 591.75 521.5 592.00 530.1 592.25 528.5 592.50 523.0 592.75 527.8 593.00 527.8 593.25 533.1 593.50 524.4 593.75 530.2 594.00 523.8 594.25 529.5 594.50 527.3 594.75 528.9 595.00 527.7 595.25 535.0 595.50 524.7 595.75 523.8 596.00 525.7 596.25 530.6 596.50 531.9 596.75 528.5 597.00 525.8 597.25 527.1 597.50 525.9 597.75 531.5 598.00 529.3 598.25 530.5 598.50 529.8 598.75 530.0 599.00 534.9 599.25 527.7 599.50 531.8 599.75 532.0 600.00 526.8 600.25 537.4 600.50 531.2 600.75 525.2 601.00 534.6 601.25 532.9 601.50 533.6 601.75 529.6 602.00 529.0 602.25 531.3 602.50 524.7 602.75 531.4 603.00 531.0 603.25 534.5 603.50 529.7 603.75 533.0 604.00 524.5 604.25 527.1 604.50 532.9 604.75 534.7 605.00 531.7 605.25 523.4 605.50 523.9 605.75 523.1 606.00 522.5 606.25 517.5 606.50 516.1 606.75 516.3 607.00 516.9 607.25 519.4 607.50 523.3 607.75 527.3 608.00 528.1 608.25 528.9 608.50 532.8 608.75 536.5 609.00 540.6 609.25 527.1 609.50 533.2 609.75 532.7 610.00 527.8 610.25 531.5 610.50 529.9 610.75 528.7 611.00 530.4 611.25 535.9 611.50 528.7 611.75 531.0 612.00 532.8 612.25 529.0 612.50 528.0 612.75 526.4 613.00 530.2 613.25 539.9 613.50 526.1 613.75 537.5 614.00 529.6 614.25 529.6 614.50 537.3 614.75 536.4 615.00 536.8 615.25 533.9 615.50 537.9 615.75 531.2 616.00 535.7 616.25 538.5 616.50 534.0 616.75 530.3 617.00 541.9 617.25 533.3 617.50 529.8 617.75 537.2 618.00 540.2 618.25 537.0 618.50 528.9 618.75 534.8 619.00 535.9 619.25 537.5 619.50 528.0 619.75 528.7 620.00 535.5 620.25 534.6 620.50 536.7 620.75 540.0 621.00 528.2 621.25 529.3 621.50 531.8 621.75 541.6 622.00 533.5 622.25 538.9 622.50 523.5 622.75 535.3 623.00 538.4 623.25 540.4 623.50 530.5 623.75 542.3 624.00 529.5 624.25 538.2 624.50 537.5 624.75 529.8 625.00 525.0 625.25 528.8 625.50 522.5 625.75 518.7 626.00 519.9 626.25 518.9 626.50 522.3 626.75 523.6 627.00 522.8 627.25 532.3 627.50 529.0 627.75 532.0 628.00 533.7 628.25 532.9 628.50 530.8 628.75 536.2 629.00 537.6 629.25 535.9 629.50 533.2 629.75 535.3 630.00 542.8 630.25 541.5 630.50 534.2 630.75 538.7 631.00 538.7 631.25 538.8 631.50 536.1 631.75 538.5 632.00 534.3 632.25 539.7 632.50 538.9 632.75 539.7 633.00 539.6 633.25 539.1 633.50 532.1 633.75 530.0 634.00 536.9 634.25 534.1 634.50 540.1 634.75 532.7 635.00 533.7 635.25 528.9 635.50 535.5 635.75 534.0 636.00 542.4 636.25 536.5 636.50 543.8 636.75 532.0 637.00 527.5 637.25 542.1 637.50 539.0 637.75 544.9 638.00 532.6 638.25 526.7 638.50 545.1 638.75 538.1 639.00 533.2 639.25 548.6 639.50 536.9 639.75 532.1 640.00 538.9 640.25 533.8 640.50 532.1 640.75 539.1 641.00 537.0 641.25 535.7 641.50 536.2 641.75 529.0 642.00 540.9 642.25 547.9 642.50 538.5 642.75 544.3 643.00 548.4 643.25 535.5 643.50 532.8 643.75 531.2 644.00 534.0 644.25 541.4 644.50 535.9 644.75 543.8 645.00 533.0 645.25 546.6 645.50 534.9 645.75 536.3 646.00 537.3 646.25 535.5 646.50 536.2 646.75 540.5 647.00 536.3 647.25 539.7 647.50 532.4 647.75 532.5 648.00 528.9 648.25 541.4 648.50 532.3 648.75 539.8 649.00 537.9 649.25 538.0 649.50 536.1 649.75 540.7 650.00 540.3 650.25 546.9 650.50 536.3 650.75 535.6 651.00 530.9 651.25 550.0 651.50 533.9 651.75 542.4 652.00 542.2 652.25 531.2 652.50 534.4 652.75 542.1 653.00 538.0 653.25 531.0 653.50 538.8 653.75 546.4 654.00 540.1 654.25 541.2 654.50 545.2 654.75 550.0 655.00 538.5 655.25 535.1 655.50 538.0 655.75 535.9 656.00 531.2 656.25 537.7 656.50 533.4 656.75 545.2 657.00 538.0 657.25 525.8 657.50 533.1 657.75 540.5 658.00 535.5 658.25 534.3 658.50 535.6 658.75 534.2 659.00 541.7 659.25 536.1 659.50 533.8 659.75 542.9 660.00 532.6 660.25 539.8 660.50 533.6 660.75 536.5 661.00 536.2 661.25 533.0 661.50 535.8 661.75 546.2 662.00 533.3 662.25 548.9 662.50 543.1 662.75 546.8 663.00 536.6 663.25 544.5 663.50 540.2 663.75 549.3 664.00 537.2 664.25 545.5 664.50 536.5 664.75 546.3 665.00 537.7 665.25 534.2 665.50 532.9 665.75 536.8 666.00 547.1 666.25 533.1 666.50 535.8 666.75 539.0 667.00 539.7 667.25 540.7 667.50 547.5 667.75 538.6 668.00 532.4 668.25 543.3 668.50 537.6 668.75 538.5 669.00 540.3 669.25 547.7 669.50 545.9 669.75 540.0 670.00 538.0 670.25 542.1 670.50 536.0 670.75 530.9 671.00 536.5 671.25 544.8 671.50 536.4 671.75 537.3 672.00 547.3 672.25 547.4 672.50 547.6 672.75 536.0 673.00 542.6 673.25 547.0 673.50 545.3 673.75 538.1 674.00 539.0 674.25 536.2 674.50 537.3 674.75 542.0 675.00 542.0 675.25 535.6 675.50 543.5 675.75 541.2 676.00 546.9 676.25 537.4 676.50 541.3 676.75 528.4 677.00 544.2 677.25 543.2 677.50 544.7 677.75 540.4 678.00 540.4 678.25 539.9 678.50 546.8 678.75 535.2 679.00 539.8 679.25 543.5 679.50 538.4 679.75 535.4 680.00 538.7 680.25 542.0 680.50 548.7 680.75 537.5 681.00 528.7 681.25 545.7 681.50 540.2 681.75 543.4 682.00 539.5 682.25 539.9 682.50 529.7 682.75 542.9 683.00 533.9 683.25 543.1 683.50 529.3 683.75 545.5 684.00 538.1 684.25 526.9 684.50 539.1 684.75 538.5 685.00 538.0 685.25 531.8 685.50 545.0 685.75 532.7 686.00 535.2 686.25 525.1 686.50 526.4 686.75 521.1 687.00 516.5 687.25 516.4 687.50 515.4 687.75 519.1 688.00 523.7 688.25 528.7 688.50 529.1 688.75 536.0 689.00 537.7 689.25 537.9 689.50 538.9 689.75 536.1 690.00 535.4 690.25 537.7 690.50 541.2 690.75 532.8 691.00 539.1 691.25 548.4 691.50 544.0 691.75 534.8 692.00 547.2 692.25 530.9 692.50 539.3 692.75 546.8 693.00 544.3 693.25 542.6 693.50 534.8 693.75 531.4 694.00 543.8 694.25 542.4 694.50 550.4 694.75 537.5 695.00 534.5 695.25 537.7 695.50 530.3 695.75 538.7 696.00 540.4 696.25 539.8 696.50 551.2 696.75 551.6 697.00 538.9 697.25 537.6 697.50 548.3 697.75 547.2 698.00 533.7 698.25 536.7 698.50 536.4 698.75 533.4 699.00 537.7 699.25 533.6 699.50 545.4 699.75 543.8 700.00 531.0 700.25 537.2 700.50 537.5 700.75 549.2 701.00 537.3 701.25 546.1 701.50 550.4 701.75 535.9 702.00 544.1 702.25 541.6 702.50 546.2 702.75 533.1 703.00 538.9 703.25 531.5 703.50 545.2 703.75 529.7 704.00 541.4 704.25 532.0 704.50 536.7 704.75 536.3 705.00 541.4 705.25 544.1 705.50 547.6 705.75 548.9 706.00 541.2 706.25 534.7 706.50 548.0 706.75 533.9 707.00 541.0 707.25 537.0 707.50 537.5 707.75 542.1 708.00 534.5 708.25 540.4 708.50 540.4 708.75 546.9 709.00 547.3 709.25 545.3 709.50 541.2 709.75 550.6 710.00 546.4 710.25 533.9 710.50 542.6 710.75 543.5 711.00 536.3 711.25 542.3 711.50 539.1 711.75 535.9 712.00 541.2 712.25 537.4 712.50 534.1 712.75 540.9 713.00 530.6 713.25 547.1 713.50 538.9 713.75 541.3 714.00 546.1 714.25 545.9 714.50 539.1 714.75 542.5 715.00 546.0 715.25 548.4 715.50 536.4 715.75 542.3 716.00 534.7 716.25 535.8 716.50 540.2 716.75 539.4 717.00 534.6 717.25 535.6 717.50 540.0 717.75 532.6 718.00 541.2 718.25 533.9 718.50 547.9 718.75 541.2 719.00 544.2 719.25 538.3 719.50 546.2 719.75 543.0 720.00 544.3 720.25 540.9 720.50 543.6 720.75 539.7 721.00 543.6 721.25 538.7 721.50 538.6 721.75 541.1 722.00 540.9 722.25 540.0 722.50 536.1 722.75 538.9 723.00 545.3 723.25 541.0 723.50 542.1 723.75 537.6 724.00 547.8 724.25 539.2 724.50 543.3 724.75 540.2 725.00 546.8 725.25 531.9 725.50 529.2 725.75 538.4 726.00 528.1 726.25 535.9 726.50 536.3 726.75 538.7 727.00 543.6 727.25 532.8 727.50 542.9 727.75 546.9 728.00 548.8 728.25 534.2 728.50 538.3 728.75 550.6 729.00 534.9 729.25 546.4 729.50 542.3 729.75 543.4 730.00 531.4 730.25 532.7 730.50 535.6 730.75 543.7 731.00 544.7 731.25 536.1 731.50 541.9 731.75 541.1 732.00 535.1 732.25 534.4 732.50 529.8 732.75 534.0 733.00 535.7 733.25 546.7 733.50 544.6 733.75 538.9 734.00 541.7 734.25 535.4 734.50 528.1 734.75 541.2 735.00 542.9 735.25 535.6 735.50 546.3 735.75 545.5 736.00 544.2 736.25 529.7 736.50 540.1 736.75 543.2 737.00 535.1 737.25 537.0 737.50 544.5 737.75 551.0 738.00 544.3 738.25 541.2 738.50 537.2 738.75 534.1 739.00 535.3 739.25 542.0 739.50 537.3 739.75 547.3 740.00 532.8 740.25 533.8 740.50 539.8 740.75 541.2 741.00 540.7 741.25 534.2 741.50 536.1 741.75 545.3 742.00 538.2 742.25 537.6 742.50 543.7 742.75 542.5 743.00 540.3 743.25 549.5 743.50 532.9 743.75 542.4 744.00 537.0 744.25 545.7 744.50 535.0 744.75 543.9 745.00 538.1 745.25 552.8 745.50 541.5 745.75 552.4 746.00 536.5 746.25 536.9 746.50 542.2 746.75 530.8 747.00 535.1 747.25 548.5 747.50 546.3 747.75 539.0 748.00 546.4 748.25 542.7 748.50 542.8 748.75 534.9 749.00 545.5 749.25 537.0 749.50 548.4 749.75 534.4 750.00 552.8 750.25 536.5 750.50 532.6 750.75 533.9 751.00 542.3 751.25 541.7 751.50 536.3 751.75 544.4 752.00 551.0 752.25 540.8 752.50 544.4 752.75 545.1 753.00 544.9 753.25 530.4 753.50 548.6 753.75 540.0 754.00 541.0 754.25 547.0 754.50 527.1 754.75 544.8 755.00 542.0 755.25 549.7 755.50 542.4 755.75 548.0 756.00 546.5 756.25 533.6 756.50 540.0 756.75 536.2 757.00 539.9 757.25 535.3 757.50 531.7 757.75 539.5 758.00 538.3 758.25 542.8 758.50 549.4 758.75 538.0 759.00 538.7 759.25 546.8 759.50 545.4 759.75 530.9 760.00 539.6 760.25 531.2 760.50 534.7 760.75 536.6 761.00 538.5 761.25 537.6 761.50 540.3 761.75 540.9 762.00 547.8 762.25 543.5 762.50 533.1 762.75 546.5 763.00 540.7 763.25 532.5 763.50 533.5 763.75 539.1 764.00 539.3 764.25 540.6 764.50 530.4 764.75 536.8 765.00 549.9 765.25 529.2 765.50 531.2 765.75 538.7 766.00 540.0 766.25 535.3 766.50 539.1 766.75 537.7 767.00 533.7 767.25 538.0 767.50 536.5 767.75 540.0 768.00 541.8 768.25 533.3 768.50 537.5 768.75 532.3 769.00 536.0 769.25 538.6 769.50 541.6 769.75 533.6 770.00 541.1 770.25 537.2 770.50 536.3 770.75 536.4 771.00 534.5 771.25 539.5 771.50 531.0 771.75 539.9 772.00 534.7 772.25 545.1 772.50 534.8 772.75 539.0 773.00 541.1 773.25 541.3 773.50 545.4 773.75 545.8 774.00 536.6 774.25 535.0 774.50 544.7 774.75 539.5 775.00 536.8 775.25 537.5 775.50 541.8 775.75 541.5 776.00 526.5 776.25 533.3 776.50 534.5 776.75 532.1 777.00 542.9 777.25 543.4 777.50 536.4 777.75 544.3 778.00 535.5 778.25 544.0 778.50 541.0 778.75 538.1 779.00 539.7 779.25 534.5 779.50 542.7 779.75 535.0 780.00 539.7 780.25 532.8 780.50 532.9 780.75 537.3 781.00 537.4 781.25 543.0 781.50 535.6 781.75 538.1 782.00 538.3 782.25 546.3 782.50 536.9 782.75 530.3 783.00 528.4 783.25 533.6 783.50 535.7 783.75 529.3 784.00 529.1 784.25 530.0 784.50 534.4 784.75 537.4 785.00 530.6 785.25 529.9 785.50 540.4 785.75 542.7 786.00 536.5 786.25 530.7 786.50 530.5 786.75 536.9 787.00 524.5 787.25 525.1 787.50 537.7 787.75 525.5 788.00 528.7 788.25 542.9 788.50 529.9 788.75 539.1 789.00 530.7 789.25 526.6 789.50 534.1 789.75 531.3 790.00 535.8 790.25 524.1 790.50 533.9 790.75 532.3 791.00 535.0 791.25 532.1 791.50 525.8 791.75 536.6 792.00 534.1 792.25 533.6 792.50 531.6 792.75 529.7 793.00 525.1 793.25 520.2 793.50 520.4 793.75 523.0 794.00 517.2 794.25 518.8 794.50 519.9 794.75 517.1 795.00 521.0 795.25 516.8 795.50 521.9 795.75 518.3 796.00 525.0 796.25 530.7 796.50 525.5 796.75 522.6 797.00 523.4 797.25 531.7 797.50 533.2 797.75 531.5 798.00 527.6 798.25 525.0 798.50 526.4 798.75 525.6 799.00 523.1 799.25 536.1 799.50 537.2 799.75 537.6 800.00 539.7 800.25 528.3 800.50 522.7 800.75 532.7 801.00 530.5 801.25 526.4 801.50 534.0 801.75 529.9 802.00 535.3 802.25 534.1 802.50 528.2 802.75 532.3 803.00 529.9 803.25 534.0 803.50 532.2 803.75 528.0 804.00 534.6 804.25 531.6 804.50 532.0 804.75 533.4 805.00 543.3 805.25 534.8 805.50 532.2 805.75 530.2 806.00 525.6 806.25 533.2 806.50 533.5 806.75 530.9 807.00 536.9 807.25 535.5 807.50 536.8 807.75 532.7 808.00 540.7 808.25 536.6 808.50 531.2 808.75 534.2 809.00 538.8 809.25 531.5 809.50 540.1 809.75 532.6 810.00 526.5 810.25 537.8 810.50 532.5 810.75 534.9 811.00 534.2 811.25 539.6 811.50 534.9 811.75 538.8 812.00 531.3 812.25 535.4 812.50 532.6 812.75 535.2 813.00 544.6 813.25 532.0 813.50 537.1 813.75 534.0 814.00 537.3 814.25 532.0 814.50 533.3 814.75 528.4 815.00 540.9 815.25 536.0 815.50 536.9 815.75 530.5 816.00 542.2 816.25 540.6 816.50 534.6 816.75 537.3 817.00 535.1 817.25 540.3 817.50 527.2 817.75 537.2 818.00 537.6 818.25 540.2 818.50 532.3 818.75 533.6 819.00 532.3 819.25 540.8 819.50 538.8 819.75 541.6 820.00 540.6 820.25 540.1 820.50 532.4 820.75 536.6 821.00 543.3 821.25 539.1 821.50 533.6 821.75 534.2 822.00 536.0 822.25 537.0 822.50 538.6 822.75 538.2 823.00 540.2 823.25 542.9 823.50 541.2 823.75 534.0 824.00 547.5 824.25 537.7 824.50 535.8 824.75 543.6 825.00 545.0 825.25 541.1 825.50 544.8 825.75 538.4 826.00 538.6 826.25 534.4 826.50 544.0 826.75 540.3 827.00 546.9 827.25 538.3 827.50 544.8 827.75 540.3 828.00 547.5 828.25 540.1 828.50 546.5 828.75 535.7 829.00 538.4 829.25 538.0 829.50 545.2 829.75 531.0 830.00 535.3 830.25 541.6 830.50 540.4 830.75 540.5 831.00 542.7 831.25 539.8 831.50 543.9 831.75 546.8 832.00 536.7 832.25 546.8 832.50 537.4 832.75 535.0 833.00 540.7 833.25 540.5 833.50 542.3 833.75 535.8 834.00 540.6 834.25 538.4 834.50 546.2 834.75 541.5 835.00 538.3 835.25 536.4 835.50 541.2 835.75 550.5 836.00 533.2 836.25 538.1 836.50 547.2 836.75 546.1 837.00 540.2 837.25 540.6 837.50 539.1 837.75 536.9 838.00 539.8 838.25 543.8 838.50 542.9 838.75 533.9 839.00 540.1 839.25 537.9 839.50 547.1 839.75 534.3 840.00 535.3 840.25 534.3 840.50 552.9 840.75 549.8 841.00 540.0 841.25 546.0 841.50 532.3 841.75 539.9 842.00 552.8 842.25 540.2 842.50 534.2 842.75 537.7 843.00 537.8 843.25 540.0 843.50 540.0 843.75 538.2 844.00 532.9 844.25 540.5 844.50 540.5 844.75 532.2 845.00 543.6 845.25 539.7 845.50 549.8 845.75 543.2 846.00 537.1 846.25 535.8 846.50 550.2 846.75 546.9 847.00 543.6 847.25 545.2 847.50 533.2 847.75 547.0 848.00 539.9 848.25 540.4 848.50 546.3 848.75 543.8 849.00 532.2 849.25 544.4 849.50 539.7 849.75 547.3 850.00 541.8 850.25 544.2 850.50 535.4 850.75 536.2 851.00 534.6 851.25 542.8 851.50 535.7 851.75 539.1 852.00 553.3 852.25 546.5 852.50 553.3 852.75 537.6 853.00 536.8 853.25 539.4 853.50 545.7 853.75 537.1 854.00 553.3 854.25 536.7 854.50 550.0 854.75 535.9 855.00 536.8 855.25 543.8 855.50 541.5 855.75 539.6 856.00 538.8 856.25 543.2 856.50 538.1 856.75 552.4 857.00 546.1 857.25 544.4 857.50 535.6 857.75 553.6 858.00 543.2 858.25 537.3 858.50 535.8 858.75 526.5 859.00 537.3 859.25 529.0 859.50 532.2 859.75 548.5 860.00 538.6 860.25 535.7 860.50 550.5 860.75 536.7 861.00 552.5 861.25 539.0 861.50 542.9 861.75 538.5 862.00 537.5 862.25 542.0 862.50 548.8 862.75 541.5 863.00 535.1 863.25 530.9 863.50 548.0 863.75 536.9 864.00 534.9 864.25 543.8 864.50 544.0 864.75 544.7 865.00 537.7 865.25 530.3 865.50 544.5 865.75 541.1 866.00 541.0 866.25 536.2 866.50 544.4 866.75 541.7 867.00 543.0 867.25 548.5 867.50 540.1 867.75 539.5 868.00 539.6 868.25 532.3 868.50 539.3 868.75 547.0 869.00 545.8 869.25 538.2 869.50 534.5 869.75 543.9 870.00 541.6 870.25 542.3 870.50 549.8 870.75 540.2 871.00 547.7 871.25 543.2 871.50 546.3 871.75 537.6 872.00 541.2 872.25 543.3 872.50 540.8 872.75 542.1 873.00 540.1 873.25 551.8 873.50 529.3 873.75 546.3 874.00 542.4 874.25 535.6 874.50 538.4 874.75 533.6 875.00 545.3 875.25 546.1 875.50 544.4 875.75 551.2 876.00 532.8 876.25 535.1 876.50 539.7 876.75 546.2 877.00 544.8 877.25 536.4 877.50 542.4 877.75 546.5 878.00 534.2 878.25 545.4 878.50 547.4 878.75 548.3 879.00 548.2 879.25 540.7 879.50 530.8 879.75 534.8 880.00 537.5 880.25 541.1 880.50 546.5 880.75 542.6 881.00 544.1 881.25 550.1 881.50 534.0 881.75 544.0 882.00 546.2 882.25 549.7 882.50 554.7 882.75 548.5 883.00 537.2 883.25 546.1 883.50 538.3 883.75 545.2 884.00 539.6 884.25 540.1 884.50 544.4 884.75 539.6 885.00 543.3 885.25 542.6 885.50 545.7 885.75 539.7 886.00 536.7 886.25 533.4 886.50 545.4 886.75 546.2 887.00 537.2 887.25 532.9 887.50 546.5 887.75 543.0 888.00 547.0 888.25 543.1 888.50 549.6 888.75 544.9 889.00 542.5 889.25 548.1 889.50 536.9 889.75 542.6 890.00 543.5 890.25 541.2 890.50 544.6 890.75 540.7 891.00 534.1 891.25 553.0 891.50 542.7 891.75 541.4 892.00 535.4 892.25 543.0 892.50 541.8 892.75 535.4 893.00 548.9 893.25 547.7 893.50 533.3 893.75 546.8 894.00 538.9 894.25 546.9 894.50 545.5 894.75 548.2 895.00 545.8 895.25 550.5 895.50 541.2 895.75 541.2 896.00 541.3 896.25 540.7 896.50 554.1 896.75 543.8 897.00 549.5 897.25 544.3 897.50 542.5 897.75 547.8 898.00 539.7 898.25 546.4 898.50 549.6 898.75 543.5 899.00 543.8 899.25 541.0 899.50 546.5 899.75 547.8 900.00 548.4 900.25 541.0 900.50 543.1 900.75 538.7 901.00 544.9 901.25 546.5 901.50 543.6 901.75 542.4 902.00 544.8 902.25 544.2 902.50 545.1 902.75 539.2 903.00 538.5 903.25 540.2 903.50 538.2 903.75 544.2 904.00 552.6 904.25 543.1 904.50 534.5 904.75 538.6 905.00 537.6 905.25 545.0 905.50 543.6 905.75 551.3 906.00 543.0 906.25 541.8 906.50 548.7 906.75 537.8 907.00 542.4 907.25 548.1 907.50 543.7 907.75 544.5 908.00 537.9 908.25 534.9 908.50 541.0 908.75 547.3 909.00 539.7 909.25 537.1 909.50 534.8 909.75 551.7 910.00 534.7 910.25 539.3 910.50 536.7 910.75 545.7 911.00 534.1 911.25 535.5 911.50 543.3 911.75 534.5 912.00 544.9 912.25 548.1 912.50 542.9 912.75 531.0 913.00 539.2 913.25 541.1 913.50 548.8 913.75 549.7 914.00 547.2 914.25 542.6 914.50 541.2 914.75 541.8 915.00 539.3 915.25 540.2 915.50 539.4 915.75 542.2 916.00 548.5 916.25 535.8 916.50 551.2 916.75 545.2 917.00 546.5 917.25 541.9 917.50 541.8 917.75 547.9 918.00 540.0 918.25 537.4 918.50 541.6 918.75 539.0 919.00 548.3 919.25 542.5 919.50 544.3 919.75 542.0 920.00 541.6 920.25 547.3 920.50 543.1 920.75 548.8 921.00 532.6 921.25 543.7 921.50 545.8 921.75 541.1 922.00 532.6 922.25 541.2 922.50 539.9 922.75 547.6 923.00 547.0 923.25 546.4 923.50 542.4 923.75 542.9 924.00 542.4 924.25 546.6 924.50 541.5 924.75 544.5 925.00 545.6 925.25 540.9 925.50 542.2 925.75 538.0 926.00 535.7 926.25 538.0 926.50 537.4 926.75 533.2 927.00 541.6 927.25 545.0 927.50 545.2 927.75 548.1 928.00 539.4 928.25 551.2 928.50 538.8 928.75 541.5 929.00 547.1 929.25 532.3 929.50 542.3 929.75 542.0 930.00 550.9 930.25 537.1 930.50 540.9 930.75 527.7 931.00 539.9 931.25 531.9 931.50 533.3 931.75 542.7 932.00 536.1 932.25 532.6 932.50 543.0 932.75 539.9 933.00 537.0 933.25 531.1 933.50 535.3 933.75 532.2 934.00 537.5 934.25 537.1 934.50 538.2 934.75 535.4 935.00 537.4 935.25 543.4 935.50 536.3 935.75 543.3 936.00 542.8 936.25 542.7 936.50 529.8 936.75 542.9 937.00 539.5 937.25 541.1 937.50 537.5 937.75 537.4 938.00 533.1 938.25 532.6 938.50 540.2 938.75 534.1 939.00 536.1 939.25 543.2 939.50 545.1 939.75 537.8 940.00 528.4 940.25 539.9 940.50 542.8 940.75 538.3 941.00 535.9 941.25 532.0 941.50 537.4 941.75 545.0 942.00 536.6 942.25 531.6 942.50 528.4 942.75 529.5 943.00 526.3 943.25 527.9 943.50 529.9 943.75 532.0 944.00 536.1 944.25 535.9 944.50 531.7 944.75 527.9 945.00 538.8 945.25 527.0 945.50 531.8 945.75 549.3 946.00 535.5 946.25 546.6 946.50 536.2 946.75 541.3 947.00 543.1 947.25 545.5 947.50 538.3 947.75 534.0 948.00 539.8 948.25 532.2 948.50 532.4 948.75 545.1 949.00 535.6 949.25 546.3 949.50 546.0 949.75 536.0 950.00 538.0 950.25 539.1 950.50 545.6 950.75 540.6 951.00 546.6 951.25 540.6 951.50 546.6 951.75 540.0 952.00 547.8 952.25 545.4 952.50 548.0 952.75 546.3 953.00 532.8 953.25 550.9 953.50 542.1 953.75 534.1 954.00 538.4 954.25 536.7 954.50 544.7 954.75 539.7 955.00 541.5 955.25 546.4 955.50 533.7 955.75 534.0 956.00 542.4 956.25 533.7 956.50 545.6 956.75 535.4 957.00 536.4 957.25 545.3 957.50 549.2 957.75 541.1 958.00 539.1 958.25 534.2 958.50 539.5 958.75 539.0 959.00 535.6 959.25 538.8 959.50 545.7 959.75 541.9 960.00 529.5 960.25 549.6 960.50 547.0 960.75 535.0 961.00 547.7 961.25 535.4 961.50 544.3 961.75 542.3 962.00 536.7 962.25 543.4 962.50 542.4 962.75 542.7 963.00 535.2 963.25 545.6 963.50 540.5 963.75 548.7 964.00 546.1 964.25 545.3 964.50 536.4 964.75 552.0 965.00 543.8 965.25 541.9 965.50 539.2 965.75 541.9 966.00 547.6 966.25 531.8 966.50 544.5 966.75 535.8 967.00 537.6 967.25 544.5 967.50 544.9 967.75 541.0 968.00 544.0 968.25 549.9 968.50 542.9 968.75 536.9 969.00 540.7 969.25 540.5 969.50 549.6 969.75 540.6 970.00 533.9 970.25 535.6 970.50 548.6 970.75 545.0 971.00 536.7 971.25 535.3 971.50 546.4 971.75 536.0 972.00 541.3 972.25 546.5 972.50 545.8 972.75 537.6 973.00 545.2 973.25 534.3 973.50 543.7 973.75 539.4 974.00 532.7 974.25 548.9 974.50 541.3 974.75 544.7 975.00 540.1 975.25 554.5 975.50 550.6 975.75 541.5 976.00 552.9 976.25 547.5 976.50 551.2 976.75 532.3 977.00 544.3 977.25 537.2 977.50 542.1 977.75 540.9 978.00 544.2 978.25 532.4 978.50 541.0 978.75 535.3 979.00 548.3 979.25 544.3 979.50 546.2 979.75 548.2 980.00 546.9 980.25 539.7 980.50 543.4 980.75 533.2 981.00 540.6 981.25 541.0 981.50 541.7 981.75 544.8 982.00 543.1 982.25 552.2 982.50 548.2 982.75 543.6 983.00 541.9 983.25 540.6 983.50 549.7 983.75 539.5 984.00 548.3 984.25 537.8 984.50 543.1 984.75 536.9 985.00 546.0 985.25 544.7 985.50 541.0 985.75 535.3 986.00 531.5 986.25 540.7 986.50 548.9 986.75 538.5 987.00 544.8 987.25 538.7 987.50 546.9 987.75 538.8 988.00 550.3 988.25 538.9 988.50 542.2 988.75 552.7 989.00 545.3 989.25 544.4 989.50 543.2 989.75 546.2 990.00 538.8 990.25 538.1 990.50 551.9 990.75 544.1 991.00 545.3 991.25 544.1 991.50 544.8 991.75 550.5 992.00 545.4 992.25 543.7 992.50 541.1 992.75 545.4 993.00 550.4 993.25 541.7 993.50 542.3 993.75 550.9 994.00 545.8 994.25 550.5 994.50 539.2 994.75 540.8 995.00 539.3 995.25 547.0 995.50 536.8 995.75 547.7 996.00 544.7 996.25 547.6 996.50 549.4 996.75 550.2 997.00 532.6 997.25 548.4 997.50 551.1 997.75 543.1 998.00 548.9 998.25 548.7 998.50 549.3 998.75 539.6 999.00 552.4 999.25 538.5 999.50 548.4 999.75 549.1 1000.00 548.7 1000.25 547.9 1000.50 553.6 1000.75 549.4 1001.00 547.8 1001.25 551.8 1001.50 538.4 1001.75 543.4 1002.00 539.4 1002.25 538.9 1002.50 550.2 1002.75 545.9 1003.00 552.6 1003.25 548.3 1003.50 532.7 1003.75 542.9 1004.00 542.1 1004.25 541.0 1004.50 552.3 1004.75 541.4 1005.00 549.1 1005.25 543.4 1005.50 543.2 1005.75 540.9 1006.00 551.7 1006.25 543.5 1006.50 538.8 1006.75 544.2 1007.00 536.9 1007.25 549.4 1007.50 537.9 1007.75 540.2 1008.00 544.2 1008.25 538.6 1008.50 549.6 1008.75 543.0 1009.00 543.6 1009.25 543.5 1009.50 543.1 1009.75 543.7 1010.00 551.8 1010.25 542.2 1010.50 538.7"/>
<path class="c" stroke="#00ff00" d="M89.00 727.2 89.25 704.2 89.50 722.3 89.75 717.4 90.00 724.3 90.25 719.1 90.50 727.2 90.75 717.2 91.00 714.1 91.25 720.3 91.50 719.5 91.75 715.2 92.00 715.9 92.25 721.2 92.50 721.2 92.75 714.9 93.00 715.7 93.25 708.1 93.50 726.8 93.75 716.7 94.00 725.2 94.25 720.4 94.50 728.5 94.75 726.5 95.00 720.1 95.25 726.3 95.50 713.7 95.75 725.3 96.00 711.1 96.25 720.7 96.50 724.6 96.75 720.3 97.00 717.3 97.25 715.2 97.50 717.7 97.75 724.9 98.00 724.2 98.25 718.4 98.50 713.5 98.75 723.4 99.00 712.7 99.25 717.4 99.50 716.5 99.75 724.1 100.00 721.6 100.25 722.9 100.50 722.0 100.75 717.3 101.00 723.5 101.25 728.0 101.50 720.9 101.75 724.3 102.00 720.6 102.25 726.5 102.50 724.8 102.75 725.9 103.00 723.4 103.25 729.9 103.50 720.1 103.75 720.2 104.00 718.9 104.25 724.8 104.50 718.7 104.75 718.5 105.00 725.3 105.25 727.4 105.50 724.4 105.75 710.1 106.00 716.7 106.25 716.1 106.50 715.4 106.75 719.3 107.00 730.4 107.25 719.8 107.50 717.6 107.75 724.7 108.00 721.5 108.25 721.7 108.50 717.6 108.75 721.0 109.00 723.2 109.25 711.4 109.50 712.8 109.75 726.4 110.00 725.1 110.25 718.2 110.50 715.6 110.75 719.8 111.00 714.6 111.25 718.9 111.50 729.0 111.75 721.2 112.00 726.4 112.25 719.3 112.50 722.3 112.75 727.5 113.00 713.6 113.25 718.5 113.50 719.5 113.75 721.7 114.00 728.1 114.25 723.7 114.50 712.4 114.75 718.7 115.00 715.4 115.25 715.3 115.50 730.4 115.75 714.4 116.00 721.1 116.25 716.1 116.50 724.2 116.75 721.6 117.00 720.4 117.25 719.3 117.50 725.5 117.75 714.8 118.00 715.9 118.25 713.8 118.50 726.5 118.75 718.0 119.00 714.2 119.25 717.4 119.50 731.4 119.75 718.9 120.00 723.9 120.25 721.9 120.50 719.4 120.75 715.9 121.00 717.7 121.25 717.6 121.50 708.0 121.75 731.2 122.00 724.1 122.25 719.9 122.50 718.3 122.75 715.3 123.00 724.1 123.25 718.3 123.50 721.7 123.75 712.1 124.00 721.1 124.25 729.4 124.50 717.7 124.75 723.2 125.00 719.3 125.25 724.7 125.50 724.5 125.75 719.3 126.00 716.2 126.25 720.4 126.50 719.1 126.75 715.8 127.00 721.2 127.25 721.0 127.50 714.3 127.75 718.2 128.00 730.3 128.25 722.7 128.50 719.0 128.75 730.0 129.00 716.1 129.25 706.8 129.50 708.7 129.75 710.5 130.00 719.2 130.25 722.5 130.50 707.0 130.75 722.4 131.00 711.1 131.25 717.4 131.50 717.5 131.75 716.3 132.00 713.3 132.25 711.9 132.50 706.7 132.75 705.4 133.00 701.4 133.25 698.1 133.50 698.4 133.75 698.1 134.00 701.2 134.25 706.9 134.50 709.1 134.75 708.1 135.00 706.0 135.25 719.2 135.50 717.7 135.75 719.7 136.00 715.0 136.25 718.5 136.50 726.1 136.75 719.0 137.00 712.1 137.25 715.6 137.50 724.6 137.75 712.5 138.00 706.6 138.25 706.7 138.50 711.4 138.75 722.0 139.00 718.6 139.25 714.4 139.50 711.8 139.75 717.6 140.00 717.4 140.25 715.4 140.50 717.0 140.75 714.5 141.00 727.1 141.25 706.9 141.50 718.8 141.75 713.2 142.00 721.7 142.25 717.1 142.50 720.0 142.75 720.8 143.00 719.2 143.25 723.1 143.50 711.4 143.75 722.9 144.00 717.1 144.25 720.1 144.50 725.8 144.75 723.7 145.00 727.9 145.25 707.2 145.50 713.5 145.75 722.9 146.00 712.6 146.25 717.2 146.50 726.4 146.75 722.3 147.00 713.4 147.25 720.1 147.50 721.0 147.75 718.2 148.00 717.3 148.25 718.4 148.50 710.6 148.75 718.2 149.00 713.0 149.25 719.3 149.50 719.4 149.75 713.3 150.00 720.1 150.25 718.8 150.50 717.0 150.75 720.3 151.00 715.6 151.25 715.7 151.50 717.2 151.75 716.6 152.00 721.7 152.25 706.7 152.50 715.3 152.75 707.9 153.00 714.3 153.25 717.4 153.50 716.3 153.75 720.3 154.00 717.4 154.25 706.6 154.50 711.3 154.75 722.3 155.00 722.2 155.25 716.1 155.50 709.4 155.75 724.3 156.00 707.1 156.25 716.6 156.50 715.1 156.75 716.2 157.00 710.6 157.25 713.5 157.50 719.2 157.75 713.1 158.00 709.6 158.25 714.7 158.50 715.1 158.75 714.1 159.00 711.6 159.25 716.5 159.50 714.0 159.75 710.1 160.00 715.1 160.25 714.1 160.50 714.7 160.75 708.0 161.00 711.3 161.25 715.6 161.50 717.1 161.75 715.0 162.00 714.3 162.25 716.2 162.50 717.0 162.75 719.5 163.00 715.1 163.25 711.6 163.50 715.0 163.75 707.0 164.00 713.4 164.25 711.7 164.50 713.0 164.75 714.5 165.00 713.1 165.25 708.3 165.50 711.6 165.75 710.1 166.00 712.4 166.25 713.4 166.50 709.3 166.75 714.3 167.00 715.8 167.25 711.0 167.50 713.7 167.75 707.1 168.00 709.5 168.25 713.3 168.50 705.8 168.75 708.5 169.00 707.1 169.25 710.0 169.50 708.2 169.75 704.3 170.00 702.4 170.25 697.7 170.50 693.5 170.75 687.0 171.00 681.8 171.25 680.3 171.50 680.6 171.75 684.4 172.00 690.3 172.25 696.2 172.50 700.6 172.75 704.4 173.00 705.9 173.25 706.1 173.50 709.1 173.75 708.5 174.00 707.5 174.25 706.6 174.50 710.6 174.75 710.9 175.00 717.0 175.25 709.1 175.50 716.6 175.75 712.2 176.00 715.4 176.25 707.7 176.50 707.8 176.75 710.0 177.00 714.7 177.25 711.9 177.50 714.2 177.75 712.5 178.00 715.3 178.25 712.1 178.50 709.2 178.75 713.3 179.00 711.6 179.25 718.3 179.50 710.6 179.75 711.7 180.00 710.0 180.25 716.0 180.50 714.8 180.75 713.9 181.00 705.9 181.25 704.8 181.50 712.2 181.75 714.1 182.00 717.4 182.25 703.4 182.50 710.3 182.75 703.7 183.00 706.8 183.25 710.0 183.50 715.1 183.75 708.6 184.00 707.7 184.25 709.4 184.50 716.4 184.75 721.0 185.00 703.9 185.25 709.5 185.50 708.8 185.75 715.9 186.00 712.6 186.25 717.5 186.50 705.9 186.75 710.5 187.00 708.2 187.25 705.2 187.50 709.5 187.75 704.7 188.00 720.1 188.25 711.9 188.50 705.2 188.75 707.0 189.00 717.8 189.25 707.5 189.50 712.9 189.75 712.3 190.00 714.6 190.25 712.4 190.50 708.4 190.75 706.5 191.00 700.8 191.25 708.9 191.50 709.8 191.75 707.3 192.00 708.3 192.25 703.1 192.50 719.2 192.75 706.3 193.00 703.7 193.25 705.7 193.50 707.7 193.75 712.1 194.00 697.2 194.25 710.9 194.50 705.3 194.75 707.3 195.00 713.1 195.25 711.8 195.50 704.7 195.75 707.5 196.00 717.1 196.25 714.6 196.50 712.0 196.75 707.7 197.00 712.4 197.25 709.5 197.50 704.7 197.75 702.4 198.00 710.0 198.25 709.2 198.50 713.3 198.75 704.7 199.00 714.2 199.25 705.1 199.50 713.3 199.75 709.6 200.00 703.8 200.25 701.8 200.50 706.0 200.75 705.2 201.00 711.4 201.25 702.8 201.50 698.7 201.75 706.2 202.00 716.2 202.25 714.7 202.50 702.8 202.75 704.6 203.00 707.6 203.25 702.4 203.50 704.5 203.75 704.3 204.00 700.1 204.25 702.3 204.50 702.9 204.75 706.7 205.00 699.0 205.25 705.9 205.50 700.0 205.75 700.9 206.00 699.2 206.25 717.6 206.50 711.9 206.75 712.4 207.00 709.5 207.25 703.8 207.50 705.4 207.75 706.5 208.00 707.4 208.25 708.1 208.50 713.2 208.75 692.3 209.00 701.8 209.25 708.5 209.50 702.8 209.75 703.8 210.00 712.8 210.25 705.7 210.50 714.4 210.75 704.3 211.00 705.8 211.25 698.6 211.50 693.4 211.75 702.1 212.00 704.7 212.25 702.4 212.50 696.8 212.75 707.9 213.00 704.6 213.25 704.2 213.50 699.8 213.75 713.3 214.00 712.3 214.25 705.7 214.50 703.3 214.75 705.4 215.00 713.4 215.25 716.8 215.50 703.9 215.75 701.4 216.00 693.5 216.25 716.7 216.50 697.4 216.75 708.6 217.00 706.5 217.25 711.2 217.50 698.7 217.75 694.3 218.00 704.3 218.25 705.8 218.50 710.0 218.75 693.7 219.00 700.7 219.25 701.8 219.50 695.5 219.75 702.3 220.00 707.8 220.25 703.0 220.50 694.8 220.75 705.1 221.00 708.0 221.25 706.1 221.50 707.5 221.75 693.3 222.00 705.6 222.25 706.4 222.50 700.6 222.75 702.5 223.00 698.3 223.25 709.9 223.50 700.9 223.75 697.1 224.00 703.7 224.25 703.2 224.50 706.5 224.75 697.6 225.00 698.5 225.25 704.7 225.50 715.5 225.75 705.1 226.00 694.3 226.25 703.2 226.50 697.6 226.75 691.3 227.00 698.1 227.25 698.7 227.50 704.4 227.75 709.7 228.00 708.5 228.25 706.6 228.50 699.3 228.75 702.7 229.00 701.5 229.25 709.9 229.50 697.9 229.75 698.4 230.00 710.2 230.25 704.8 230.50 698.9 230.75 702.4 231.00 702.2 231.25 702.4 231.50 705.9 231.75 703.4 232.00 700.1 232.25 698.2 232.50 691.2 232.75 698.5 233.00 707.6 233.25 702.3 233.50 697.2 233.75 699.5 234.00 695.9 234.25 702.4 234.50 712.2 234.75 711.0 235.00 707.5 235.25 705.1 235.50 699.3 235.75 693.4 236.00 700.5 236.25 697.9 236.50 705.1 236.75 701.3 237.00 697.0 237.25 702.8 237.50 713.2 237.75 695.0 238.00 706.6 238.25 703.5 238.50 699.5 238.75 695.7 239.00 700.1 239.25 701.2 239.50 704.2 239.75 703.8 240.00 701.6 240.25 695.9 240.50 701.4 240.75 697.0 241.00 693.8 241.25 704.6 241.50 695.8 241.75 692.8 242.00 699.9 242.25 688.7 242.50 699.0 242.75 701.7 243.00 696.9 243.25 700.5 243.50 710.9 243.75 706.9 244.00 704.1 244.25 702.0 244.50 695.6 244.75 697.4 245.00 696.4 245.25 697.8 245.50 698.0 245.75 692.7 246.00 705.5 246.25 690.9 246.50 698.2 246.75 701.5 247.00 695.5 247.25 691.8 247.50 695.3 247.75 705.1 248.00 697.9 248.25 692.7 248.50 697.1 248.75 692.7 249.00 683.6 249.25 694.5 249.50 698.4 249.75 698.7 250.00 692.0 250.25 684.6 250.50 698.2 250.75 690.7 251.00 695.2 251.25 697.0 251.50 692.5 251.75 690.1 252.00 686.7 252.25 687.5 252.50 689.7 252.75 686.7 253.00 691.0 253.25 678.0 253.50 682.9 253.75 687.9 254.00 684.0 254.25 684.9 254.50 681.6 254.75 691.5 255.00 696.8 255.25 682.3 255.50 694.1 255.75 679.8 256.00 688.5 256.25 676.8 256.50 690.4 256.75 687.9 257.00 688.5 257.25 694.4 257.50 690.9 257.75 687.5 258.00 683.2 258.25 687.9 258.50 683.8 258.75 685.2 259.00 695.4 259.25 692.1 259.50 688.8 259.75 690.5 260.00 679.4 260.25 687.5 260.50 677.9 260.75 683.0 261.00 687.9 261.25 687.4 261.50 688.0 261.75 684.5 262.00 682.4 262.25 679.7 262.50 677.4 262.75 668.4 263.00 654.2 263.25 642.9 263.50 635.4 263.75 622.0 264.00 623.8 264.25 642.4 264.50 642.3 264.75 643.0 265.00 654.6 265.25 667.5 265.50 673.5 265.75 677.1 266.00 681.8 266.25 682.0 266.50 687.1 266.75 680.6 267.00 689.3 267.25 689.0 267.50 687.0 267.75 689.9 268.00 686.5 268.25 686.0 268.50 687.0 268.75 680.8 269.00 687.1 269.25 691.3 269.50 679.3 269.75 690.8 270.00 684.3 270.25 685.7 270.50 688.0 270.75 688.8 271.00 694.4 271.25 686.9 271.50 696.1 271.75 687.9 272.00 690.1 272.25 691.1 272.50 684.5 272.75 682.4 273.00 688.4 273.25 691.3 273.50 692.1 273.75 686.1 274.00 696.7 274.25 687.1 274.50 684.2 274.75 693.8 275.00 694.2 275.25 682.4 275.50 692.1 275.75 680.4 276.00 687.7 276.25 700.5 276.50 695.0 276.75 691.6 277.00 691.2 277.25 682.3 277.50 689.3 277.75 690.0 278.00 680.6 278.25 688.4 278.50 690.6 278.75 688.4 279.00 689.7 279.25 685.3 279.50 679.1 279.75 686.9 280.00 673.3 280.25 681.3 280.50 693.8 280.75 698.6 281.00 688.5 281.25 668.4 281.50 694.9 281.75 688.8 282.00 683.2 282.25 690.0 282.50 688.2 282.75 674.8 283.00 673.6 283.25 691.4 283.50 665.2 283.75 687.5 284.00 685.1 284.25 690.2 284.50 696.1 284.75 692.7 285.00 694.3 285.25 688.1 285.50 685.4 285.75 690.0 286.00 681.1 286.25 673.7 286.50 680.4 286.75 668.1 287.00 676.4 287.25 697.2 287.50 684.8 287.75 679.2 288.00 675.8 288.25 666.6 288.50 676.2 288.75 674.2 289.00 680.1 289.25 680.7 289.50 679.4 289.75 665.4 290.00 690.7 290.25 683.0 290.50 679.7 290.75 677.1 291.00 682.6 291.25 688.4 291.50 683.6 291.75 670.8 292.00 670.0 292.25 662.2 292.50 679.7 292.75 683.8 293.00 687.1 293.25 679.4 293.50 684.1 293.75 672.0 294.00 681.8 294.25 677.3 294.50 673.5 294.75 666.7 295.00 685.5 295.25 662.9 295.50 681.8 295.75 672.4 296.00 681.4 296.25 673.9 296.50 682.1 296.75 675.9 297.00 670.6 297.25 673.9 297.50 667.1 297.75 678.6 298.00 683.2 298.25 679.3 298.50 677.4 298.75 684.3 299.00 669.7 299.25 679.7 299.50 676.5 299.75 673.5 300.00 679.3 300.25 669.0 300.50 674.9 300.75 677.6 301.00 668.0 301.25 673.6 301.50 678.3 301.75 680.9 302.00 668.4 302.25 680.3 302.50 672.2 302.75 674.6 303.00 670.0 303.25 679.1 303.50 668.5 303.75 675.3 304.00 675.8 304.25 678.4 304.50 665.0 304.75 678.3 305.00 672.5 305.25 683.2 305.50 669.3 305.75 667.3 306.00 671.1 306.25 668.8 306.50 669.8 306.75 660.6 307.00 653.6 307.25 658.3 307.50 665.7 307.75 674.3 308.00 668.4 308.25 663.2 308.50 669.9 308.75 671.9 309.00 690.2 309.25 682.0 309.50 673.3 309.75 660.3 310.00 670.7 310.25 669.8 310.50 676.8 310.75 689.2 311.00 672.2 311.25 657.5 311.50 672.1 311.75 660.2 312.00 679.6 312.25 681.8 312.50 676.1 312.75 662.5 313.00 672.5 313.25 683.0 313.50 666.6 313.75 669.9 314.00 676.3 314.25 678.2 314.50 675.2 314.75 677.3 315.00 676.4 315.25 670.9 315.50 674.6 315.75 677.4 316.00 667.7 316.25 677.0 316.50 676.4 316.75 679.1 317.00 678.4 317.25 668.5 317.50 667.0 317.75 677.5 318.00 674.7 318.25 676.4 318.50 671.7 318.75 666.6 319.00 677.3 319.25 674.4 319.50 679.5 319.75 682.7 320.00 682.5 320.25 681.6 320.50 668.0 320.75 660.0 321.00 669.9 321.25 665.7 321.50 664.7 321.75 676.7 322.00 662.3 322.25 675.9 322.50 675.0 322.75 677.5 323.00 668.6 323.25 665.9 323.50 654.0 323.75 643.0 324.00 621.3 324.25 571.7 324.50 466.9 324.75 398.3 325.00 398.4 325.25 398.4 325.50 398.4 325.75 353.5 326.00 366.0 326.25 398.5 326.50 398.6 326.75 398.6 327.00 398.6 327.25 398.7 327.50 467.2 327.75 572.3 328.00 621.2 328.25 643.7 328.50 655.4 328.75 663.5 329.00 666.5 329.25 667.4 329.50 668.7 329.75 679.0 330.00 668.5 330.25 675.3 330.50 661.6 330.75 684.8 331.00 677.8 331.25 664.5 331.50 679.3 331.75 684.5 332.00 681.1 332.25 676.6 332.50 681.7 332.75 671.6 333.00 674.8 333.25 674.3 333.50 677.1 333.75 670.0 334.00 685.7 334.25 676.0 334.50 669.9 334.75 675.5 335.00 679.3 335.25 677.3 335.50 684.2 335.75 674.8 336.00 672.1 336.25 680.4 336.50 685.4 336.75 671.0 337.00 667.0 337.25 673.1 337.50 676.8 337.75 670.7 338.00 678.3 338.25 671.8 338.50 683.0 338.75 669.9 339.00 672.0 339.25 678.7 339.50 682.9 339.75 684.8 340.00 674.8 340.25 679.7 340.50 683.4 340.75 689.5 341.00 674.8 341.25 672.9 341.50 684.4 341.75 680.0 342.00 690.7 342.25 682.5 342.50 684.8 342.75 677.9 343.00 685.1 343.25 691.6 343.50 682.4 343.75 676.5 344.00 690.5 344.25 683.0 344.50 685.7 344.75 680.9 345.00 692.4 345.25 681.3 345.50 683.4 345.75 687.1 346.00 686.0 346.25 672.1 346.50 691.3 346.75 680.2 347.00 690.5 347.25 686.3 347.50 688.5 347.75 684.5 348.00 682.4 348.25 691.5 348.50 692.2 348.75 697.9 349.00 694.5 349.25 685.7 349.50 699.0 349.75 706.3 350.00 695.7 350.25 689.4 350.50 684.0 350.75 691.3 351.00 680.9 351.25 696.1 351.50 688.2 351.75 686.9 352.00 692.5 352.25 682.6 352.50 679.4 352.75 688.0 353.00 698.7 353.25 685.4 353.50 696.4 353.75 679.3 354.00 690.5 354.25 694.1 354.50 701.9 354.75 680.2 355.00 690.5 355.25 685.5 355.50 692.8 355.75 687.7 356.00 691.6 356.25 686.6 356.50 687.8 356.75 693.3 357.00 699.4 357.25 692.2 357.50 691.7 357.75 688.6 358.00 699.6 358.25 680.7 358.50 680.5 358.75 687.2 359.00 693.9 359.25 696.8 359.50 694.8 359.75 695.9 360.00 692.8 360.25 689.5 360.50 686.3 360.75 694.7 361.00 687.1 361.25 694.8 361.50 696.6 361.75 689.3 362.00 690.3 362.25 689.8 362.50 696.8 362.75 694.0 363.00 689.5 363.25 694.8 363.50 701.8 363.75 695.1 364.00 694.3 364.25 691.5 364.50 688.6 364.75 694.0 365.00 694.4 365.25 692.4 365.50 700.9 365.75 693.0 366.00 693.6 366.25 695.7 366.50 697.7 366.75 684.6 367.00 696.4 367.25 702.2 367.50 688.7 367.75 697.5 368.00 692.4 368.25 689.7 368.50 697.1 368.75 695.1 369.00 683.7 369.25 692.4 369.50 700.7 369.75 692.6 370.00 691.8 370.25 694.1 370.50 693.8 370.75 700.9 371.00 691.6 371.25 689.8 371.50 699.4 371.75 702.8 372.00 701.2 372.25 702.1 372.50 693.4 372.75 688.6 373.00 693.3 373.25 697.4 373.50 687.5 373.75 696.0 374.00 701.4 374.25 693.8 374.50 710.1 374.75 702.8 375.00 691.0 375.25 691.6 375.50 694.2 375.75 703.0 376.00 701.6 376.25 695.4 376.50 700.0 376.75 704.0 377.00 702.4 377.25 689.4 377.50 692.7 377.75 693.8 378.00 688.9 378.25 704.9 378.50 695.7 378.75 695.7 379.00 694.7 379.25 701.7 379.50 703.3 379.75 704.0 380.00 707.5 380.25 694.4 380.50 709.9 380.75 714.2 381.00 697.1 381.25 698.1 381.50 703.9 381.75 707.7 382.00 698.9 382.25 695.8 382.50 712.8 382.75 697.7 383.00 687.2 383.25 703.9 383.50 706.6 383.75 710.8 384.00 711.2 384.25 714.4 384.50 697.8 384.75 695.5 385.00 692.8 385.25 711.0 385.50 698.8 385.75 691.8 386.00 689.7 386.25 702.2 386.50 699.1 386.75 703.3 387.00 696.8 387.25 697.6 387.50 704.3 387.75 700.7 388.00 705.0 388.25 701.2 388.50 700.4 388.75 704.0 389.00 700.3 389.25 703.1 389.50 704.6 389.75 699.5 390.00 701.6 390.25 702.9 390.50 706.0 390.75 703.7 391.00 703.8 391.25 705.0 391.50 701.0 391.75 704.5 392.00 698.8 392.25 693.2 392.50 705.0 392.75 692.7 393.00 702.1 393.25 710.9 393.50 706.8 393.75 697.9 394.00 706.9 394.25 704.4 394.50 699.0 394.75 702.8 395.00 700.7 395.25 701.9 395.50 705.1 395.75 695.8 396.00 707.8 396.25 713.6 396.50 702.9 396.75 699.0 397.00 701.8 397.25 709.9 397.50 701.4 397.75 706.2 398.00 715.3 398.25 700.3 398.50 704.4 398.75 701.0 399.00 702.1 399.25 704.6 399.50 700.1 399.75 706.3 400.00 704.9 400.25 710.1 400.50 707.6 400.75 706.0 401.00 711.9 401.25 703.0 401.50 707.4 401.75 700.7 402.00 711.8 402.25 700.3 402.50 709.4 402.75 700.3 403.00 705.4 403.25 698.5 403.50 700.1 403.75 699.1 404.00 706.8 404.25 707.3 404.50 708.6 404.75 706.7 405.00 703.3 405.25 708.3 405.50 713.3 405.75 702.5 406.00 700.4 406.25 707.8 406.50 716.3 406.75 704.2 407.00 702.9 407.25 698.8 407.50 700.3 407.75 698.9 408.00 698.6 408.25 710.0 408.50 711.1 408.75 704.2 409.00 704.1 409.25 708.0 409.50 703.3 409.75 703.7 410.00 706.3 410.25 702.5 410.50 709.9 410.75 714.9 411.00 702.2 411.25 703.6 411.50 697.0 411.75 699.0 412.00 701.9 412.25 703.6 412.50 699.8 412.75 693.8 413.00 702.6 413.25 697.1 413.50 702.1 413.75 698.2 414.00 698.3 414.25 698.0 414.50 686.3 414.75 703.5 415.00 691.5 415.25 696.1 415.50 694.5 415.75 688.1 416.00 683.4 416.25 682.8 416.50 678.5 416.75 679.2 417.00 680.5 417.25 682.5 417.50 683.2 417.75 688.1 418.00 694.5 418.25 690.3 418.50 699.7 418.75 687.8 419.00 691.2 419.25 687.1 419.50 691.8 419.75 706.1 420.00 700.9 420.25 696.2 420.50 694.2 420.75 704.6 421.00 697.3 421.25 692.3 421.50 707.1 421.75 690.5 422.00 699.2 422.25 701.9 422.50 703.8 422.75 709.6 423.00 703.1 423.25 694.3 423.50 704.9 423.75 700.0 424.00 691.3 424.25 692.1 424.50 693.6 424.75 685.9 425.00 700.5 425.25 701.2 425.50 700.8 425.75 693.3 426.00 697.6 426.25 704.6 426.50 700.0 426.75 697.0 427.00 693.6 427.25 697.4 427.50 704.6 427.75 697.6 428.00 709.9 428.25 709.7 428.50 701.0 428.75 688.1 429.00 695.3 429.25 703.0 429.50 693.2 429.75 692.1 430.00 695.1 430.25 704.1 430.50 691.2 430.75 685.2 431.00 689.9 431.25 686.7 431.50 682.3 431.75 676.1 432.00 671.6 432.25 670.3 432.50 671.0 432.75 673.9 433.00 679.8 433.25 683.4 433.50 690.9 433.75 691.3 434.00 690.9 434.25 693.9 434.50 689.8 434.75 692.5 435.00 699.8 435.25 699.2 435.50 700.7 435.75 700.3 436.00 695.5 436.25 697.6 436.50 707.0 436.75 696.8 437.00 689.5 437.25 697.4 437.50 695.4 437.75 697.0 438.00 697.7 438.25 692.3 438.50 699.8 438.75 696.8 439.00 700.7 439.25 694.1 439.50 692.7 439.75 695.5 440.00 706.2 440.25 688.5 440.50 703.3 440.75 697.5 441.00 703.6 441.25 695.8 441.50 699.7 441.75 699.6 442.00 708.4 442.25 697.2 442.50 699.0 442.75 694.0 443.00 699.3 443.25 694.1 443.50 697.2 443.75 699.7 444.00 700.5 444.25 693.4 444.50 693.5 444.75 703.5 445.00 695.3 445.25 698.7 445.50 696.5 445.75 690.3 446.00 697.3 446.25 696.9 446.50 705.9 446.75 687.1 447.00 693.7 447.25 699.3 447.50 692.8 447.75 683.4 448.00 698.5 448.25 695.6 448.50 689.3 448.75 687.9 449.00 689.3 449.25 694.3 449.50 691.6 449.75 688.1 450.00 694.2 450.25 698.5 450.50 686.9 450.75 701.4 451.00 690.3 451.25 693.8 451.50 691.9 451.75 691.8 452.00 689.0 452.25 670.0 452.50 678.1 452.75 688.7 453.00 674.5 453.25 678.4 453.50 669.3 453.75 672.6 454.00 680.9 454.25 677.3 454.50 673.9 454.75 676.7 455.00 670.2 455.25 686.8 455.50 682.0 455.75 690.2 456.00 691.0 456.25 682.3 456.50 677.1 456.75 675.0 457.00 681.5 457.25 684.9 457.50 695.8 457.75 676.8 458.00 688.1 458.25 675.9 458.50 679.6 458.75 690.4 459.00 688.2 459.25 679.1 459.50 677.6 459.75 690.5 460.00 679.9 460.25 678.3 460.50 672.0 460.75 697.4 461.00 692.0 461.25 681.7 461.50 693.1 461.75 680.0 462.00 673.6 462.25 679.0 462.50 684.2 462.75 666.6 463.00 681.4 463.25 680.3 463.50 681.8 463.75 674.7 464.00 678.1 464.25 659.2 464.50 669.4 464.75 676.0 465.00 672.3 465.25 669.8 465.50 659.1 465.75 665.7 466.00 654.5 466.25 664.0 466.50 667.4 466.75 660.8 467.00 667.2 467.25 663.3 467.50 669.1 467.75 659.5 468.00 649.7 468.25 651.5 468.50 654.6 468.75 659.5 469.00 659.2 469.25 651.3 469.50 657.3 469.75 649.5 470.00 660.0 470.25 640.6 470.50 663.4 470.75 653.8 471.00 645.9 471.25 638.2 471.50 654.2 471.75 641.9 472.00 653.6 472.25 664.5 472.50 647.5 472.75 647.4 473.00 649.5 473.25 638.7 473.50 661.0 473.75 640.4 474.00 648.0 474.25 644.0 474.50 635.2 474.75 651.7 475.00 642.2 475.25 632.7 475.50 632.2 475.75 620.5 476.00 627.4 476.25 643.4 476.50 642.9 476.75 626.9 477.00 639.7 477.25 642.1 477.50 639.8 477.75 643.2 478.00 615.9 478.25 633.0 478.50 622.7 478.75 635.7 479.00 623.2 479.25 629.7 479.50 635.5 479.75 614.3 480.00 621.4 480.25 620.3 480.50 625.2 480.75 611.7 481.00 630.7 481.25 639.2 481.50 619.7 481.75 625.2 482.00 600.1 482.25 609.1 482.50 623.1 482.75 619.1 483.00 621.0 483.25 625.1 483.50 614.3 483.75 611.3 484.00 609.3 484.25 613.3 484.50 596.0 484.75 623.0 485.00 595.1 485.25 599.2 485.50 611.2 485.75 617.3 486.00 614.0 486.25 621.3 486.50 607.2 486.75 605.9 487.00 615.3 487.25 602.6 487.50 613.2 487.75 615.8 488.00 614.4 488.25 596.4 488.50 610.9 488.75 597.2 489.00 620.1 489.25 610.4 489.50 621.9 489.75 624.8 490.00 604.5 490.25 622.3 490.50 618.7 490.75 627.3 491.00 606.9 491.25 607.2 491.50 611.3 491.75 603.9 492.00 618.7 492.25 612.9 492.50 619.9 492.75 621.2 493.00 625.0 493.25 610.3 493.50 624.9 493.75 625.1 494.00 613.9 494.25 616.8 494.50 611.8 494.75 629.3 495.00 630.3 495.25 617.3 495.50 622.8 495.75 627.1 496.00 630.2 496.25 625.5 496.50 639.3 496.75 620.4 497.00 635.3 497.25 630.1 497.50 632.6 497.75 624.6 498.00 616.5 498.25 627.9 498.50 638.0 498.75 627.6 499.00 621.7 499.25 636.3 499.50 638.9 499.75 632.4 500.00 640.9 500.25 646.3 500.50 645.5 500.75 651.5 501.00 654.2 501.25 646.0 501.50 641.2 501.75 635.5 502.00 655.5 502.25 651.7 502.50 656.8 502.75 645.5 503.00 652.5 503.25 647.5 503.50 647.5 503.75 644.4 504.00 652.5 504.25 657.4 504.50 659.9 504.75 656.9 505.00 653.9 505.25 670.3 505.50 668.0 505.75 665.1 506.00 659.4 506.25 668.8 506.50 653.6 506.75 650.0 507.00 666.2 507.25 663.1 507.50 671.4 507.75 656.9 508.00 667.5 508.25 659.1 508.50 666.2 508.75 673.2 509.00 670.7 509.25 666.0 509.50 663.7 509.75 670.8 510.00 668.4 510.25 666.1 510.50 675.6 510.75 670.7 511.00 683.4 511.25 688.3 511.50 683.7 511.75 690.7 512.00 672.8 512.25 671.1 512.50 679.7 512.75 671.9 513.00 682.1 513.25 686.5 513.50 686.5 513.75 688.2 514.00 682.2 514.25 683.4 514.50 685.6 514.75 684.2 515.00 690.1 515.25 683.1 515.50 685.4 515.75 682.2 516.00 691.6 516.25 687.4 516.50 687.9 516.75 684.9 517.00 678.4 517.25 685.9 517.50 677.2 517.75 688.6 518.00 683.0 518.25 696.3 518.50 686.8 518.75 690.1 519.00 688.3 519.25 685.4 519.50 683.6 519.75 680.1 520.00 688.6 520.25 681.8 520.50 698.3 520.75 686.1 521.00 689.9 521.25 693.2 521.50 692.8 521.75 699.9 522.00 693.8 522.25 691.9 522.50 694.1 522.75 702.9 523.00 699.3 523.25 685.5 523.50 694.8 523.75 691.5 524.00 696.5 524.25 699.3 524.50 695.8 524.75 698.5 525.00 703.9 525.25 685.6 525.50 694.2 525.75 694.4 526.00 696.2 526.25 694.0 526.50 698.1 526.75 692.7 527.00 694.8 527.25 683.8 527.50 692.9 527.75 684.9 528.00 694.3 528.25 700.5 528.50 690.2 528.75 692.6 529.00 694.0 529.25 697.3 529.50 693.7 529.75 696.0 530.00 685.6 530.25 687.9 530.50 679.4 530.75 700.9 531.00 680.3 531.25 692.6 531.50 687.7 531.75 687.2 532.00 678.8 532.25 685.5 532.50 686.0 532.75 688.0 533.00 683.3 533.25 686.9 533.50 679.2 533.75 693.2 534.00 681.1 534.25 700.3 534.50 683.3 534.75 681.1 535.00 686.5 535.25 684.5 535.50 692.5 535.75 693.4 536.00 681.2 536.25 680.9 536.50 680.4 536.75 688.5 537.00 691.9 537.25 689.8 537.50 684.4 537.75 685.6 538.00 689.8 538.25 693.8 538.50 685.1 538.75 693.3 539.00 683.0 539.25 686.6 539.50 693.0 539.75 679.4 540.00 673.5 540.25 677.6 540.50 684.2 540.75 678.1 541.00 684.3 541.25 694.5 541.50 682.6 541.75 694.2 542.00 691.0 542.25 677.7 542.50 691.7 542.75 691.0 543.00 691.8 543.25 686.4 543.50 686.8 543.75 681.0 544.00 678.7 544.25 684.5 544.50 689.9 544.75 680.8 545.00 696.5 545.25 682.0 545.50 687.5 545.75 675.8 546.00 696.3 546.25 690.6 546.50 694.7 546.75 677.0 547.00 695.9 547.25 689.1 547.50 681.4 547.75 683.0 548.00 675.2 548.25 684.7 548.50 692.4 548.75 679.9 549.00 688.9 549.25 677.5 549.50 668.7 549.75 684.9 550.00 696.9 550.25 694.9 550.50 681.4 550.75 695.5 551.00 693.9 551.25 689.1 551.50 683.7 551.75 693.5 552.00 685.7 552.25 683.5 552.50 694.1 552.75 681.3 553.00 691.4 553.25 697.4 553.50 681.4 553.75 687.8 554.00 690.4 554.25 673.5 554.50 682.9 554.75 682.4 555.00 682.5 555.25 680.1 555.50 696.2 555.75 679.8 556.00 685.8 556.25 691.1 556.50 698.3 556.75 674.7 557.00 676.9 557.25 678.8 557.50 684.5 557.75 693.8 558.00 685.8 558.25 688.0 558.50 698.5 558.75 684.5 559.00 688.3 559.25 702.1 559.50 693.1 559.75 682.6 560.00 682.3 560.25 695.8 560.50 678.6 560.75 680.6 561.00 693.6 561.25 697.7 561.50 700.4 561.75 680.1 562.00 691.6 562.25 669.8 562.50 681.3 562.75 705.2 563.00 699.9 563.25 693.5 563.50 681.0 563.75 678.5 564.00 696.6 564.25 687.1 564.50 682.1 564.75 693.9 565.00 693.6 565.25 683.2 565.50 685.2 565.75 705.4 566.00 681.2 566.25 696.4 566.50 683.4 566.75 682.3 567.00 681.0 567.25 688.0 567.50 688.8 567.75 694.5 568.00 683.4 568.25 692.1 568.50 684.9 568.75 683.7 569.00 693.9 569.25 692.6 569.50 677.9 569.75 690.4 570.00 675.6 570.25 681.3 570.50 701.4 570.75 699.1 571.00 687.9 571.25 693.8 571.50 698.7 571.75 702.1 572.00 702.0 572.25 683.8 572.50 689.0 572.75 690.2 573.00 672.4 573.25 683.9 573.50 692.2 573.75 687.8 574.00 685.0 574.25 680.9 574.50 685.1 574.75 689.0 575.00 686.9 575.25 697.4 575.50 695.3 575.75 680.9 576.00 696.3 576.25 690.2 576.50 695.1 576.75 685.8 577.00 695.4 577.25 685.4 577.50 694.7 577.75 688.1 578.00 685.8 578.25 680.6 578.50 678.1 578.75 678.7 579.00 672.1 579.25 670.4 579.50 671.9 579.75 673.4 580.00 678.7 580.25 680.9 580.50 681.9 580.75 687.0 581.00 696.1 581.25 693.6 581.50 697.0 581.75 698.5 582.00 697.6 582.25 698.3 582.50 697.0 582.75 699.8 583.00 700.8 583.25 696.3 583.50 703.2 583.75 700.5 584.00 700.5 584.25 700.5 584.50 706.2 584.75 701.4 585.00 708.4 585.25 697.9 585.50 706.0 585.75 696.0 586.00 704.2 586.25 701.9 586.50 702.4 586.75 700.1 587.00 705.2 587.25 708.1 587.50 697.1 587.75 705.2 588.00 706.8 588.25 708.9 588.50 707.8 588.75 701.1 589.00 711.0 589.25 702.3 589.50 708.8 589.75 707.5 590.00 704.0 590.25 702.5 590.50 705.9 590.75 713.7 591.00 710.1 591.25 704.4 591.50 710.7 591.75 715.1 592.00 717.5 592.25 699.5 592.50 711.0 592.75 711.6 593.00 704.1 593.25 699.2 593.50 713.9 593.75 706.0 594.00 700.7 594.25 703.3 594.50 711.8 594.75 718.5 595.00 712.8 595.25 704.7 595.50 714.6 595.75 700.3 596.00 713.5 596.25 713.2 596.50 717.3 596.75 713.7 597.00 714.5 597.25 709.9 597.50 708.0 597.75 709.8 598.00 718.4 598.25 707.3 598.50 709.7 598.75 707.9 599.00 713.1 599.25 712.4 599.50 719.4 599.75 720.1 600.00 715.5 600.25 714.6 600.50 710.1 600.75 704.2 601.00 711.6 601.25 711.1 601.50 706.1 601.75 712.1 602.00 715.5 602.25 707.4 602.50 715.3 602.75 713.3 603.00 709.2 603.25 712.2 603.50 715.1 603.75 711.1 604.00 711.7 604.25 717.8 604.50 714.6 604.75 714.6 605.00 710.1 605.25 715.5 605.50 719.0 605.75 708.5 606.00 705.5 606.25 709.3 606.50 712.3 606.75 708.6 607.00 705.5 607.25 719.9 607.50 710.9 607.75 709.2 608.00 702.5 608.25 716.6 608.50 705.7 608.75 718.3 609.00 715.0 609.25 713.4 609.50 711.4 609.75 716.6 610.00 709.8 610.25 713.9 610.50 710.0 610.75 710.8 611.00 719.3 611.25 717.2 611.50 707.8 611.75 708.1 612.00 712.2 612.25 711.3 612.50 714.2 612.75 710.1 613.00 707.0 613.25 715.6 613.50 710.7 613.75 714.9 614.00 707.4 614.25 718.7 614.50 712.8 614.75 712.7 615.00 713.3 615.25 703.9 615.50 714.7 615.75 708.8 616.00 705.9 616.25 713.1 616.50 719.5 616.75 707.8 617.00 718.6 617.25 700.3 617.50 712.5 617.75 708.1 618.00 712.2 618.25 721.4 618.50 714.2 618.75 703.4 619.00 718.0 619.25 705.4 619.50 707.8 619.75 706.1 620.00 711.2 620.25 710.0 620.50 718.8 620.75 712.2 621.00 714.0 621.25 709.6 621.50 716.1 621.75 705.0 622.00 702.9 622.25 714.8 622.50 714.1 622.75 710.4 623.00 721.7 623.25 705.5 623.50 717.5 623.75 718.0 624.00 703.5 624.25 712.9 624.50 714.1 624.75 709.2 625.00 709.2 625.25 709.5 625.50 705.2 625.75 702.4 626.00 713.9 626.25 710.9 626.50 709.8 626.75 712.4 627.00 705.2 627.25 706.0 627.50 713.8 627.75 709.4 628.00 712.0 628.25 715.2 628.50 718.8 628.75 704.3 629.00 706.0 629.25 701.3 629.50 705.3 629.75 711.9 630.00 706.0 630.25 721.1 630.50 706.8 630.75 699.5 631.00 704.5 631.25 720.8 631.50 704.7 631.75 709.2 632.00 705.3 632.25 703.9 632.50 716.1 632.75 703.7 633.00 700.6 633.25 706.3 633.50 706.8 633.75 712.7 634.00 711.0 634.25 716.9 634.50 709.6 634.75 713.0 635.00 713.4 635.25 716.1 635.50 704.9 635.75 709.4 636.00 699.6 636.25 707.3 636.50 705.3 636.75 707.1 637.00 719.2 637.25 716.7 637.50 704.3 637.75 720.6 638.00 718.1 638.25 712.9 638.50 711.6 638.75 711.5 639.00 712.1 639.25 715.5 639.50 711.2 639.75 717.2 640.00 711.1 640.25 709.5 640.50 712.1 640.75 714.4 641.00 714.9 641.25 713.0 641.50 706.2 641.75 707.1 642.00 705.5 642.25 712.2 642.50 716.6 642.75 713.7 643.00 713.5 643.25 711.6 643.50 712.4 643.75 711.0 644.00 718.7 644.25 708.7 644.50 710.4 644.75 716.4 645.00 712.9 645.25 717.4 645.50 712.7 645.75 716.6 646.00 715.8 646.25 709.3 646.50 717.3 646.75 720.3 647.00 712.1 647.25 714.4 647.50 717.8 647.75 721.7 648.00 716.7 648.25 725.0 648.50 713.5 648.75 723.6 649.00 712.1 649.25 715.2 649.50 711.4 649.75 719.8 650.00 718.3 650.25 707.9 650.50 705.3 650.75 725.1 651.00 714.3 651.25 708.3 651.50 711.7 651.75 713.7 652.00 722.8 652.25 717.8 652.50 716.0 652.75 711.6 653.00 718.9 653.25 708.1 653.50 721.0 653.75 720.4 654.00 713.9 654.25 709.3 654.50 713.3 654.75 715.6 655.00 725.3 655.25 724.0 655.50 713.3 655.75 712.8 656.00 710.1 656.25 718.1 656.50 713.9 656.75 719.7 657.00 716.8 657.25 714.0 657.50 711.9 657.75 709.2 658.00 719.3 658.25 710.6 658.50 720.0 658.75 709.1 659.00 706.1 659.25 716.9 659.50 714.1 659.75 721.2 660.00 716.9 660.25 716.6 660.50 721.1 660.75 714.0 661.00 720.1 661.25 727.9 661.50 718.2 661.75 712.9 662.00 717.1 662.25 713.5 662.50 715.8 662.75 725.3 663.00 712.7 663.25 711.6 663.50 720.0 663.75 715.6 664.00 716.8 664.25 714.7 664.50 718.8 664.75 724.8 665.00 720.8 665.25 715.8 665.50 716.1 665.75 713.4 666.00 713.6 666.25 722.3 666.50 720.4 666.75 720.0 667.00 720.2 667.25 714.8 667.50 717.8 667.75 720.3 668.00 725.5 668.25 719.1 668.50 718.2 668.75 714.0 669.00 722.8 669.25 716.6 669.50 719.0 669.75 719.7 670.00 714.1 670.25 719.2 670.50 723.2 670.75 713.6 671.00 715.3 671.25 713.9 671.50 718.3 671.75 727.9 672.00 719.4 672.25 723.8 672.50 718.9 672.75 715.7 673.00 717.8 673.25 718.9 673.50 716.8 673.75 717.4 674.00 718.2 674.25 714.7 674.50 725.0 674.75 719.8 675.00 717.1 675.25 714.9 675.50 719.4 675.75 713.9 676.00 711.6 676.25 715.8 676.50 723.6 676.75 716.6 677.00 718.4 677.25 712.9 677.50 720.0 677.75 714.8 678.00 714.7 678.25 713.7 678.50 716.7 678.75 712.3 679.00 715.3 679.25 716.3 679.50 712.6 679.75 707.8 680.00 719.1 680.25 711.0 680.50 707.6 680.75 716.8 681.00 716.4 681.25 721.8 681.50 722.4 681.75 706.0 682.00 713.4 682.25 716.9 682.50 709.5 682.75 719.7 683.00 715.7 683.25 711.1 683.50 710.8 683.75 712.0 684.00 713.5 684.25 708.9 684.50 700.8 684.75 697.0 685.00 690.6 685.25 688.5 685.50 688.2 685.75 690.1 686.00 695.2 686.25 701.3 686.50 704.5 686.75 709.9 687.00 710.4 687.25 709.3 687.50 718.6 687.75 715.5 688.00 713.9 688.25 715.6 688.50 718.7 688.75 715.2 689.00 713.2 689.25 715.5 689.50 713.8 689.75 714.0 690.00 724.3 690.25 720.4 690.50 723.1 690.75 714.4 691.00 708.5 691.25 715.1 691.50 719.5 691.75 714.6 692.00 717.9 692.25 712.5 692.50 719.5 692.75 715.0 693.00 717.1 693.25 720.4 693.50 713.6 693.75 712.0 694.00 713.3 694.25 720.0 694.50 715.6 694.75 722.3 695.00 719.8 695.25 722.5 695.50 718.1 695.75 723.0 696.00 720.8 696.25 707.9 696.50 724.1 696.75 721.4 697.00 715.3 697.25 711.5 697.50 708.3 697.75 718.0 698.00 713.2 698.25 711.7 698.50 712.5 698.75 709.4 699.00 721.9 699.25 713.1 699.50 717.2 699.75 718.1 700.00 719.2 700.25 716.6 700.50 721.4 700.75 714.5 701.00 727.9 701.25 709.7 701.50 720.9 701.75 728.3 702.00 712.7 702.25 724.5 702.50 727.6 702.75 715.3 703.00 725.2 703.25 714.7 703.50 719.1 703.75 716.5 704.00 712.8 704.25 712.2 704.50 714.8 704.75 710.1 705.00 718.6 705.25 718.4 705.50 723.3 705.75 719.8 706.00 716.9 706.25 716.1 706.50 729.3 706.75 709.9 707.00 711.0 707.25 729.3 707.50 723.3 707.75 718.8 708.00 720.7 708.25 723.0 708.50 710.4 708.75 716.3 709.00 721.7 709.25 721.4 709.50 723.8 709.75 719.3 710.00 716.2 710.25 715.0 710.50 721.4 710.75 718.1 711.00 720.7 711.25 725.6 711.50 724.7 711.75 711.7 712.00 724.4 712.25 713.2 712.50 709.7 712.75 729.5 713.00 719.9 713.25 715.3 713.50 716.2 713.75 723.3 714.00 729.2 714.25 725.6 714.50 717.4 714.75 712.4 715.00 718.0 715.25 724.1 715.50 721.4 715.75 711.6 716.00 719.3 716.25 722.0 716.50 713.7 716.75 723.5 717.00 726.7 717.25 723.7 717.50 714.2 717.75 717.3 718.00 718.4 718.25 716.9 718.50 723.5 718.75 719.4 719.00 718.9 719.25 720.7 719.50 716.5 719.75 711.8 720.00 719.6 720.25 717.2 720.50 722.6 720.75 720.2 721.00 717.7 721.25 724.8 721.50 719.0 721.75 712.4 722.00 727.2 722.25 725.2 722.50 719.0 722.75 711.0 723.00 714.0 723.25 724.2 723.50 718.8 723.75 717.4 724.00 721.6 724.25 716.3 724.50 716.7 724.75 725.5 725.00 722.0 725.25 723.3 725.50 722.4 725.75 724.7 726.00 723.7 726.25 715.6 726.50 718.6 726.75 727.7 727.00 720.5 727.25 728.1 727.50 718.2 727.75 712.9 728.00 720.2 728.25 717.3 728.50 716.4 728.75 716.2 729.00 710.1 729.25 722.4 729.50 719.1 729.75 715.5 730.00 712.2 730.25 723.0 730.50 720.0 730.75 723.1 731.00 721.7 731.25 723.5 731.50 719.8 731.75 713.2 732.00 720.8 732.25 724.2 732.50 713.6 732.75 718.0 733.00 726.7 733.25 714.5 733.50 726.2 733.75 715.9 734.00 712.8 734.25 717.8 734.50 717.3 734.75 724.2 735.00 710.8 735.25 715.9 735.50 715.9 735.75 715.3 736.00 720.4 736.25 717.5 736.50 719.9 736.75 718.8 737.00 724.6 737.25 717.1 737.50 720.1 737.75 723.6 738.00 722.2 738.25 720.0 738.50 723.4 738.75 721.7 739.00 721.8 739.25 720.3 739.50 724.1 739.75 724.4 740.00 717.4 740.25 722.3 740.50 721.7 740.75 722.8 741.00 716.9 741.25 714.9 741.50 719.0 741.75 724.4 742.00 715.6 742.25 723.8 742.50 719.8 742.75 720.4 743.00 720.4 743.25 718.2 743.50 718.6 743.75 722.1 744.00 725.8 744.25 720.2 744.50 721.2 744.75 715.9 745.00 718.8 745.25 723.7 745.50 723.8 745.75 718.1 746.00 718.9 746.25 717.3 746.50 715.5 746.75 721.1 747.00 717.2 747.25 725.0 747.50 709.9 747.75 711.4 748.00 713.4 748.25 718.6 748.50 717.7 748.75 715.1 749.00 708.7 749.25 718.9 749.50 711.5 749.75 723.7 750.00 718.6 750.25 715.0 750.50 716.8 750.75 724.4 751.00 716.4 751.25 713.2 751.50 708.3 751.75 717.0 752.00 714.5 752.25 722.2 752.50 718.1 752.75 721.8 753.00 715.7 753.25 714.0 753.50 721.1 753.75 716.6 754.00 714.3 754.25 716.8 754.50 721.2 754.75 714.6 755.00 724.8 755.25 719.1 755.50 712.3 755.75 712.7 756.00 716.7 756.25 715.5 756.50 715.3 756.75 716.2 757.00 717.7 757.25 715.7 757.50 714.6 757.75 709.1 758.00 722.7 758.25 716.5 758.50 718.1 758.75 716.3 759.00 720.6 759.25 715.3 759.50 720.1 759.75 712.4 760.00 713.6 760.25 716.6 760.50 716.6 760.75 719.0 761.00 711.2 761.25 715.5 761.50 710.9 761.75 706.7 762.00 717.1 762.25 712.2 762.50 707.9 762.75 708.7 763.00 714.2 763.25 711.6 763.50 710.9 763.75 714.3 764.00 710.8 764.25 702.1 764.50 714.5 764.75 707.9 765.00 708.2 765.25 698.3 765.50 698.0 765.75 709.4 766.00 706.6 766.25 708.8 766.50 710.1 766.75 713.0 767.00 715.1 767.25 714.4 767.50 702.8 767.75 703.7 768.00 708.2 768.25 714.7 768.50 713.0 768.75 704.2 769.00 700.4 769.25 707.9 769.50 705.0 769.75 709.2 770.00 709.4 770.25 706.5 770.50 699.9 770.75 697.9 771.00 701.7 771.25 704.2 771.50 700.7 771.75 702.1 772.00 696.7 772.25 698.4 772.50 694.2 772.75 690.9 773.00 688.9 773.25 689.3 773.50 689.7 773.75 692.8 774.00 692.6 774.25 696.1 774.50 690.9 774.75 701.8 775.00 699.6 775.25 696.9 775.50 691.1 775.75 698.3 776.00 711.6 776.25 708.1 776.50 708.3 776.75 701.6 777.00 708.0 777.25 708.3 777.50 706.9 777.75 699.8 778.00 701.8 778.25 703.7 778.50 718.8 778.75 694.3 779.00 715.2 779.25 713.9 779.50 707.2 779.75 710.7 780.00 708.2 780.25 709.4 780.50 702.8 780.75 694.8 781.00 719.7 781.25 716.5 781.50 698.2 781.75 713.0 782.00 704.1 782.25 709.2 782.50 700.4 782.75 700.3 783.00 717.4 783.25 703.9 783.50 706.1 783.75 710.7 784.00 715.3 784.25 703.8 784.50 710.3 784.75 711.2 785.00 703.2 785.25 703.4 785.50 710.4 785.75 706.1 786.00 716.1 786.25 696.3 786.50 709.9 786.75 706.0 787.00 698.7 787.25 706.3 787.50 698.6 787.75 705.0 788.00 713.4 788.25 702.9 788.50 710.6 788.75 708.8 789.00 704.2 789.25 705.5 789.50 708.4 789.75 709.0 790.00 704.2 790.25 706.3 790.50 711.8 790.75 701.3 791.00 700.3 791.25 709.1 791.50 710.0 791.75 693.7 792.00 707.9 792.25 715.5 792.50 712.3 792.75 705.3 793.00 709.7 793.25 697.8 793.50 711.2 793.75 709.3 794.00 712.7 794.25 706.7 794.50 711.6 794.75 705.2 795.00 714.1 795.25 710.5 795.50 697.4 795.75 698.2 796.00 711.0 796.25 713.7 796.50 715.4 796.75 705.1 797.00 709.3 797.25 706.4 797.50 704.4 797.75 706.9 798.00 715.4 798.25 705.8 798.50 718.7 798.75 700.9 799.00 706.6 799.25 711.6 799.50 711.5 799.75 709.4 800.00 699.1 800.25 707.2 800.50 716.8 800.75 712.5 801.00 711.8 801.25 711.3 801.50 708.4 801.75 708.8 802.00 705.7 802.25 716.8 802.50 711.6 802.75 711.3 803.00 710.0 803.25 707.8 803.50 701.1 803.75 709.1 804.00 705.4 804.25 706.2 804.50 710.4 804.75 716.7 805.00 703.7 805.25 709.5 805.50 718.4 805.75 702.6 806.00 712.5 806.25 707.1 806.50 713.7 806.75 718.4 807.00 709.3 807.25 715.2 807.50 711.6 807.75 720.4 808.00 696.9 808.25 705.0 808.50 709.4 808.75 710.6 809.00 719.2 809.25 716.3 809.50 708.2 809.75 702.4 810.00 716.6 810.25 711.8 810.50 708.9 810.75 715.1 811.00 720.1 811.25 712.4 811.50 718.2 811.75 700.9 812.00 715.3 812.25 722.7 812.50 717.3 812.75 707.6 813.00 704.8 813.25 712.9 813.50 706.3 813.75 708.1 814.00 701.6 814.25 705.6 814.50 714.0 814.75 706.9 815.00 706.5 815.25 703.9 815.50 710.3 815.75 713.0 816.00 711.7 816.25 698.5 816.50 711.1 816.75 706.1 817.00 710.6 817.25 705.3 817.50 717.4 817.75 721.6 818.00 716.3 818.25 720.8 818.50 712.7 818.75 710.0 819.00 700.5 819.25 708.1 819.50 709.2 819.75 720.1 820.00 706.6 820.25 712.2 820.50 715.3 820.75 712.2 821.00 711.8 821.25 717.7 821.50 707.3 821.75 712.2 822.00 713.3 822.25 720.8 822.50 719.6 822.75 715.3 823.00 716.9 823.25 701.0 823.50 714.0 823.75 709.5 824.00 704.1 824.25 716.0 824.50 710.2 824.75 708.8 825.00 703.1 825.25 713.4 825.50 719.2 825.75 713.5 826.00 716.6 826.25 718.0 826.50 712.6 826.75 710.7 827.00 709.4 827.25 711.2 827.50 709.9 827.75 713.2 828.00 710.3 828.25 718.9 828.50 708.2 828.75 721.7 829.00 710.6 829.25 710.6 829.50 716.8 829.75 709.2 830.00 703.1 830.25 717.8 830.50 721.0 830.75 702.9 831.00 716.2 831.25 710.4 831.50 712.3 831.75 722.0 832.00 706.2 832.25 710.8 832.50 720.4 832.75 715.0 833.00 716.2 833.25 710.2 833.50 709.5 833.75 709.7 834.00 715.1 834.25 711.5 834.50 716.3 834.75 726.6 835.00 704.4 835.25 715.5 835.50 713.6 835.75 708.4 836.00 715.2 836.25 709.4 836.50 707.0 836.75 714.4 837.00 722.9 837.25 713.3 837.50 716.8 837.75 711.0 838.00 710.7 838.25 706.9 838.50 714.7 838.75 717.4 839.00 705.6 839.25 704.7 839.50 717.8 839.75 711.4 840.00 706.5 840.25 718.7 840.50 714.0 840.75 713.0 841.00 715.2 841.25 711.9 841.50 728.3 841.75 703.9 842.00 712.9 842.25 718.7 842.50 717.9 842.75 709.4 843.00 714.1 843.25 715.5 843.50 723.4 843.75 724.9 844.00 725.1 844.25 717.4 844.50 724.0 844.75 719.8 845.00 715.6 845.25 715.3 845.50 720.9 845.75 719.0 846.00 714.5 846.25 712.4 846.50 712.4 846.75 725.1 847.00 716.4 847.25 718.5 847.50 725.9 847.75 726.4 848.00 723.1 848.25 720.9 848.50 716.4 848.75 719.4 849.00 720.7 849.25 723.6 849.50 717.2 849.75 725.7 850.00 728.3 850.25 726.9 850.50 721.1 850.75 723.2 851.00 739.1 851.25 726.5 851.50 736.6 851.75 747.4 852.00 735.0 852.25 726.3 852.50 733.2 852.75 723.1 853.00 722.9 853.25 713.5 853.50 718.0 853.75 727.4 854.00 719.0 854.25 716.7 854.50 719.7 854.75 720.7 855.00 724.3 855.25 722.8 855.50 724.1 855.75 713.6 856.00 718.0 856.25 710.7 856.50 726.6 856.75 716.9 857.00 717.9 857.25 727.8 857.50 723.6 857.75 718.3 858.00 718.7 858.25 718.0 858.50 723.6 858.75 730.0 859.00 713.9 859.25 726.2 859.50 725.3 859.75 718.1 860.00 721.5 860.25 721.3 860.50 717.3 860.75 717.8 861.00 726.3 861.25 722.3 861.50 719.0 861.75 717.1 862.00 720.2 862.25 720.9 862.50 724.0 862.75 726.9 863.00 721.0 863.25 717.5 863.50 722.4 863.75 721.6 864.00 719.0 864.25 723.8 864.50 720.8 864.75 722.5 865.00 721.3 865.25 723.0 865.50 723.5 865.75 717.9 866.00 724.7 866.25 721.6 866.50 715.8 866.75 720.4 867.00 725.8 867.25 726.5 867.50 719.3 867.75 722.5 868.00 716.8 868.25 723.0 868.50 713.3 868.75 715.1 869.00 722.8 869.25 723.0 869.50 718.8 869.75 723.0 870.00 727.0 870.25 720.5 870.50 723.3 870.75 717.9 871.00 715.9 871.25 727.7 871.50 721.4 871.75 718.4 872.00 714.0 872.25 723.1 872.50 724.2 872.75 726.2 873.00 719.8 873.25 724.3 873.50 720.7 873.75 716.8 874.00 720.3 874.25 718.0 874.50 716.7 874.75 717.7 875.00 723.9 875.25 720.5 875.50 717.1 875.75 719.5 876.00 719.5 876.25 719.6 876.50 720.9 876.75 716.8 877.00 726.2 877.25 715.0 877.50 717.3 877.75 713.8 878.00 718.1 878.25 717.5 878.50 720.8 878.75 713.1 879.00 720.8 879.25 712.1 879.50 725.5 879.75 717.2 880.00 725.3 880.25 726.7 880.50 714.2 880.75 729.1 881.00 719.8 881.25 708.9 881.50 720.6 881.75 720.4 882.00 727.8 882.25 710.1 882.50 707.8 882.75 718.6 883.00 716.5 883.25 714.2 883.50 718.9 883.75 727.8 884.00 718.7 884.25 723.5 884.50 715.4 884.75 712.5 885.00 716.7 885.25 727.9 885.50 725.5 885.75 722.8 886.00 717.4 886.25 720.7 886.50 721.9 886.75 711.8 887.00 717.6 887.25 728.1 887.50 712.6 887.75 720.1 888.00 716.7 888.25 717.4 888.50 723.5 888.75 715.3 889.00 722.6 889.25 718.8 889.50 724.0 889.75 715.1 890.00 724.4 890.25 718.9 890.50 716.6 890.75 715.7 891.00 710.0 891.25 723.3 891.50 715.5 891.75 724.3 892.00 729.0 892.25 711.8 892.50 720.2 892.75 715.8 893.00 719.3 893.25 720.8 893.50 713.5 893.75 723.3 894.00 718.1 894.25 725.9 894.50 719.0 894.75 719.7 895.00 719.0 895.25 728.5 895.50 716.9 895.75 709.5 896.00 722.9 896.25 719.3 896.50 722.5 896.75 723.8 897.00 725.2 897.25 720.0 897.50 720.8 897.75 723.5 898.00 724.6 898.25 713.5 898.50 726.6 898.75 714.6 899.00 719.9 899.25 723.6 899.50 717.1 899.75 717.0 900.00 724.9 900.25 724.8 900.50 713.3 900.75 718.7 901.00 720.4 901.25 724.5 901.50 720.4 901.75 722.4 902.00 720.5 902.25 721.9 902.50 727.6 902.75 721.2 903.00 720.6 903.25 712.5 903.50 714.3 903.75 712.8 904.00 718.1 904.25 717.0 904.50 715.2 904.75 721.0 905.00 711.8 905.25 718.9 905.50 717.3 905.75 714.5 906.00 714.2 906.25 715.8 906.50 721.1 906.75 721.7 907.00 711.3 907.25 717.9 907.50 714.7 907.75 721.6 908.00 722.8 908.25 721.3 908.50 719.8 908.75 720.4 909.00 709.8 909.25 719.3 909.50 718.6 909.75 716.5 910.00 714.0 910.25 711.9 910.50 713.5 910.75 714.4 911.00 707.0 911.25 716.5 911.50 717.9 911.75 724.0 912.00 724.1 912.25 719.1 912.50 717.2 912.75 716.9 913.00 720.7 913.25 721.5 913.50 709.7 913.75 720.2 914.00 714.5 914.25 716.5 914.50 714.9 914.75 718.2 915.00 711.8 915.25 716.6 915.50 709.5 915.75 721.0 916.00 720.2 916.25 714.4 916.50 715.7 916.75 713.3 917.00 719.6 917.25 718.9 917.50 714.2 917.75 715.4 918.00 717.6 918.25 712.6 918.50 717.8 918.75 719.0 919.00 727.7 919.25 718.3 919.50 713.1 919.75 723.1 920.00 718.4 920.25 714.5 920.50 721.1 920.75 713.8 921.00 724.4 921.25 720.9 921.50 715.2 921.75 716.7 922.00 728.3 922.25 715.4 922.50 714.8 922.75 721.0 923.00 718.1 923.25 716.1 923.50 720.9 923.75 705.7 924.00 717.7 924.25 725.4 924.50 725.1 924.75 712.7 925.00 717.2 925.25 722.0 925.50 715.6 925.75 720.3 926.00 720.2 926.25 706.4 926.50 721.8 926.75 717.5 927.00 716.4 927.25 715.4 927.50 703.5 927.75 716.6 928.00 723.5 928.25 725.8 928.50 718.4 928.75 716.2 929.00 714.8 929.25 725.9 929.50 731.3 929.75 717.7 930.00 701.7 930.25 719.2 930.50 728.0 930.75 708.4 931.00 712.0 931.25 706.8 931.50 718.9 931.75 732.7 932.00 724.4 932.25 706.3 932.50 708.2 932.75 720.7 933.00 715.1 933.25 705.5 933.50 719.0 933.75 711.1 934.00 719.7 934.25 720.3 934.50 718.5 934.75 709.6 935.00 710.9 935.25 715.1 935.50 712.4 935.75 722.7 936.00 723.4 936.25 717.2 936.50 721.5 936.75 725.2 937.00 710.0 937.25 713.3 937.50 727.4 937.75 714.5 938.00 712.3 938.25 715.7 938.50 718.3 938.75 706.5 939.00 715.3 939.25 720.9 939.50 712.6 939.75 712.1 940.00 720.3 940.25 710.1 940.50 707.4 940.75 713.4 941.00 718.2 941.25 712.4 941.50 701.4 941.75 709.6 942.00 715.7 942.25 722.5 942.50 712.6 942.75 725.0 943.00 707.4 943.25 709.5 943.50 712.3 943.75 714.9 944.00 709.3 944.25 712.5 944.50 707.8 944.75 709.1 945.00 707.4 945.25 704.4 945.50 702.2 945.75 699.6 946.00 697.8 946.25 700.3 946.50 697.4 946.75 700.6 947.00 702.4 947.25 703.3 947.50 705.2 947.75 705.2 948.00 709.1 948.25 705.7 948.50 710.5 948.75 719.3 949.00 716.8 949.25 706.2 949.50 713.3 949.75 711.1 950.00 706.8 950.25 718.7 950.50 705.2 950.75 716.0 951.00 722.7 951.25 721.6 951.50 708.4 951.75 713.2 952.00 713.6 952.25 714.2 952.50 719.0 952.75 717.8 953.00 723.3 953.25 712.1 953.50 717.0 953.75 721.0 954.00 717.6 954.25 706.7 954.50 716.0 954.75 716.4 955.00 715.8 955.25 711.2 955.50 719.0 955.75 716.0 956.00 712.0 956.25 718.0 956.50 715.3 956.75 713.3 957.00 712.7 957.25 711.0 957.50 715.9 957.75 713.2 958.00 720.6 958.25 715.4 958.50 719.2 958.75 712.3 959.00 713.7 959.25 716.1 959.50 719.2 959.75 720.0 960.00 716.6 960.25 717.1 960.50 718.6 960.75 719.5 961.00 720.7 961.25 708.9 961.50 720.0 961.75 716.0 962.00 716.7 962.25 713.1 962.50 719.7 962.75 721.6 963.00 721.6 963.25 713.9 963.50 710.0 963.75 722.1 964.00 714.9 964.25 709.5 964.50 720.7 964.75 707.8 965.00 721.0 965.25 714.7 965.50 724.7 965.75 717.1 966.00 714.4 966.25 717.4 966.50 713.4 966.75 714.5 967.00 718.7 967.25 717.1 967.50 711.9 967.75 715.2 968.00 724.6 968.25 711.3 968.50 719.4 968.75 726.6 969.00 713.6 969.25 720.3 969.50 717.2 969.75 712.9 970.00 720.5 970.25 720.0 970.50 716.9 970.75 713.7 971.00 721.3 971.25 719.6 971.50 715.8 971.75 713.2 972.00 715.8 972.25 714.9 972.50 714.5 972.75 722.6 973.00 716.5 973.25 723.4 973.50 722.3 973.75 721.5 974.00 719.4 974.25 716.8 974.50 716.8 974.75 726.2 975.00 722.2 975.25 715.6 975.50 720.4 975.75 714.8 976.00 717.1 976.25 712.7 976.50 712.9 976.75 712.3 977.00 718.8 977.25 722.5 977.50 717.2 977.75 718.9 978.00 716.0 978.25 714.8 978.50 718.6 978.75 711.7 979.00 722.2 979.25 720.9 979.50 719.0 979.75 717.3 980.00 714.7 980.25 724.9 980.50 716.3 980.75 714.5 981.00 712.5 981.25 713.8 981.50 716.3 981.75 715.6 982.00 720.5 982.25 715.1 982.50 713.3 982.75 719.9 983.00 713.6 983.25 726.1 983.50 711.1 983.75 716.7 984.00 713.5 984.25 719.0 984.50 723.9 984.75 715.2 985.00 709.7 985.25 718.9 985.50 717.8 985.75 720.6 986.00 713.5 986.25 714.4 986.50 713.8 986.75 714.8 987.00 717.1 987.25 724.3 987.50 719.8 987.75 715.8 988.00 710.6 988.25 724.7 988.50 720.9 988.75 724.5 989.00 706.4 989.25 728.9 989.50 713.0 989.75 712.3 990.00 714.2 990.25 715.1 990.50 724.5 990.75 706.5 991.00 720.7 991.25 724.2 991.50 723.4 991.75 721.2 992.00 722.6 992.25 716.0 992.50 714.4 992.75 714.7 993.00 709.2 993.25 722.7 993.50 717.7 993.75 719.7 994.00 725.4 994.25 724.8 994.50 720.8 994.75 714.1 995.00 709.3 995.25 722.4 995.50 709.8 995.75 716.7 996.00 717.5 996.25 714.4 996.50 718.7 996.75 722.6 997.00 725.3 997.25 716.0 997.50 711.4 997.75 717.1 998.00 712.9 998.25 713.3 998.50 719.4 998.75 723.6 999.00 719.0 999.25 719.5 999.50 723.9 999.75 721.4 1000.00 712.6 1000.25 715.4 1000.50 716.3 1000.75 725.4 1001.00 711.7 1001.25 717.3 1001.50 707.1 1001.75 715.7 1002.00 713.7 1002.25 713.3 1002.50 721.4 1002.75 714.0 1003.00 725.0 1003.25 719.1 1003.50 716.9 1003.75 713.0 1004.00 726.8 1004.25 719.0 1004.50 727.2 1004.75 730.0 1005.00 718.6 1005.25 722.3 1005.50 725.5 1005.75 718.9 1006.00 710.7 1006.25 723.8 1006.50 716.1 1006.75 713.1 1007.00 715.8 1007.25 725.9 1007.50 713.9 1007.75 716.0 1008.00 713.5 1008.25 725.0 1008.50 722.5 1008.75 727.2 1009.00 724.0 1009.25 721.8 1009.50 726.6 1009.75 724.6 1010.00 720.7 1010.25 723.0 1010.50 729.2"/>
</g>

<g font-size="38.5" text-anchor="middle">
<text x="253" y="833" textLength="40.5" lengthAdjust="spacingAndGlyphs">20</text>
<text x="469" y="833" textLength="40.5" lengthAdjust="spacingAndGlyphs">40</text>
<text x="685" y="833" textLength="40.5" lengthAdjust="spacingAndGlyphs">60</text>
<text x="901" y="833" textLength="40.5" lengthAdjust="spacingAndGlyphs">80</text>
</g>
<text transform="translate(421.5,888) scale(0.97,1)" font-size="44">2</text>
<text x="444" y="888" font-size="42.8">θ</text>
<text transform="translate(492.8,888) scale(0.912,1)" font-size="43.5">(degrees)</text>
<text transform="translate(42,558.5) rotate(-90)" font-size="44.2">Intensity(a.u.)</text>
<g font-size="42">
<path d="M860.6 340 L867.6 340 L867.6 310.3 L862 310.3 Q860 313.5 857 316 Q855 317.5 852.6 318.8 L852.6 324 Q857.5 322 860.6 319.5 Z" fill="#000"/>
<text x="851" y="511">2</text>
<text x="848" y="688">3</text>
</g>
</svg>
</body></html>
